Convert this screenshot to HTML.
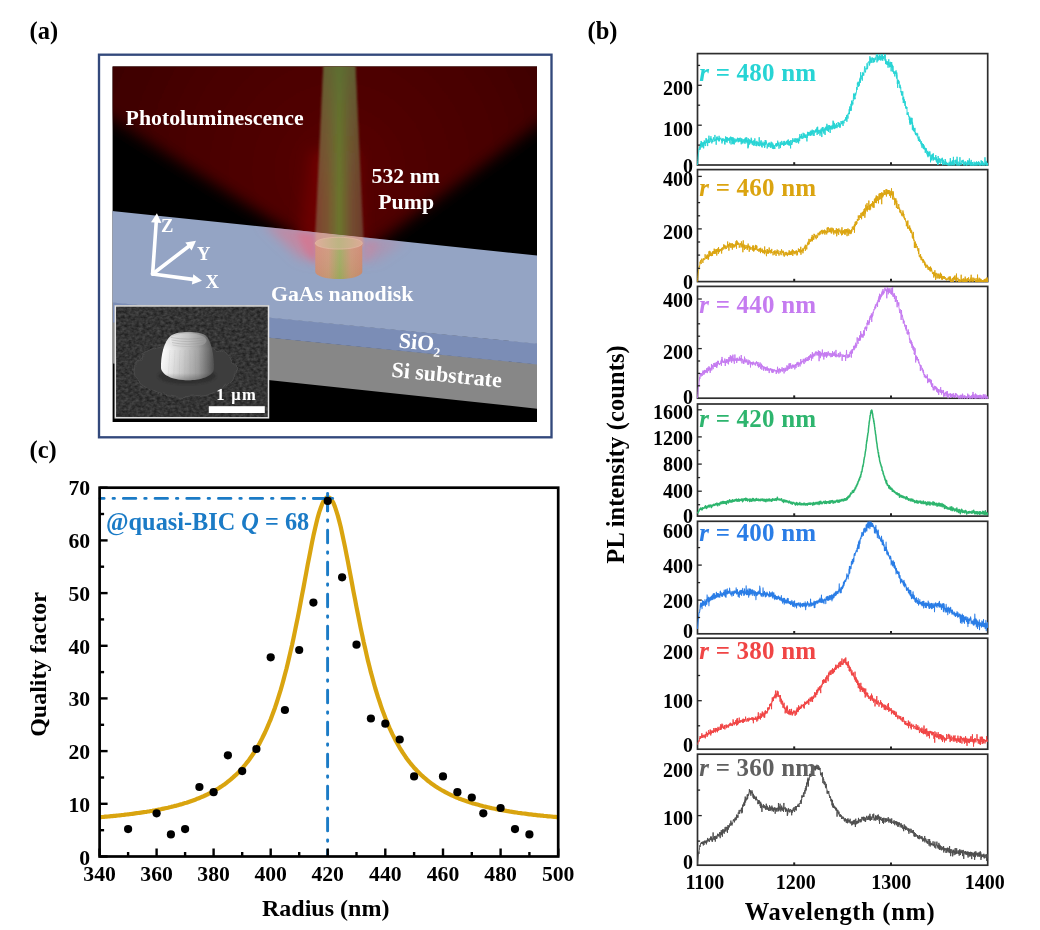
<!DOCTYPE html>
<html><head><meta charset="utf-8"><title>Figure</title>
<style>html,body{margin:0;padding:0;background:#fff;}svg{display:block}text{font-family:"Liberation Serif", serif;}</style>
</head><body>
<svg width="1040" height="930" viewBox="0 0 1040 930">
<rect width="1040" height="930" fill="#fff"/>

<defs>
<clipPath id="clipA"><rect x="112.6" y="66.6" width="424.4" height="355.4"/></clipPath>
<clipPath id="clipSky"><polygon points="100,50 550,50 550,257 538,255.7 112,210.9 100,209.6"/></clipPath>
<clipPath id="clipSlab"><polygon points="112,210.9 538,255.7 538,430 112,430"/></clipPath>
<clipPath id="clipSEM"><rect x="115.3" y="305.9" width="153.2" height="111.9"/></clipPath>
<filter id="blurCone" x="-20%" y="-20%" width="140%" height="140%"><feGaussianBlur stdDeviation="7.5"/></filter>
<filter id="blur10" x="-40%" y="-40%" width="180%" height="180%"><feGaussianBlur stdDeviation="7"/></filter>
<filter id="blur8" x="-40%" y="-40%" width="180%" height="180%"><feGaussianBlur stdDeviation="6"/></filter>
<filter id="blur4" x="-40%" y="-40%" width="180%" height="180%"><feGaussianBlur stdDeviation="3"/></filter>
<filter id="blur1" x="-10%" y="-10%" width="120%" height="120%"><feGaussianBlur stdDeviation="1.1"/></filter>
<filter id="blur06" x="-10%" y="-10%" width="120%" height="120%"><feGaussianBlur stdDeviation="0.6"/></filter>
<filter id="noise" x="0" y="0" width="100%" height="100%" color-interpolation-filters="sRGB"><feTurbulence type="fractalNoise" baseFrequency="0.28 0.36" numOctaves="2" seed="5" result="t"/><feColorMatrix type="matrix" values="0.24 0 0 0 0.085  0.24 0 0 0 0.085  0.24 0 0 0 0.085  0 0 0 0 1"/></filter>
<filter id="rough" x="-10%" y="-10%" width="120%" height="120%"><feTurbulence type="fractalNoise" baseFrequency="0.09" numOctaves="2" seed="11" result="n"/><feDisplacementMap in="SourceGraphic" in2="n" scale="7" xChannelSelector="R" yChannelSelector="G"/></filter>
<radialGradient id="coneG" gradientUnits="userSpaceOnUse" cx="340" cy="170" r="260">
 <stop offset="0" stop-color="#560004"/><stop offset="0.45" stop-color="#4c0004"/><stop offset="1" stop-color="#3c0002"/>
</radialGradient>
<linearGradient id="beamG" x1="0" x2="1" y1="0" y2="0">
 <stop offset="0" stop-color="#7e4632"/><stop offset="0.25" stop-color="#7c5834"/><stop offset="0.5" stop-color="#6b7c30"/><stop offset="0.75" stop-color="#745232"/><stop offset="1" stop-color="#6e3e2e"/>
</linearGradient>
<linearGradient id="beamTopG" gradientUnits="userSpaceOnUse" x1="0" x2="0" y1="66" y2="200">
 <stop offset="0" stop-color="#566a32" stop-opacity="0.62"/><stop offset="0.45" stop-color="#5a6a32" stop-opacity="0.3"/><stop offset="1" stop-color="#5a6a32" stop-opacity="0"/>
</linearGradient>
<linearGradient id="beamG2" x1="0" x2="1" y1="0" y2="0">
 <stop offset="0" stop-color="#d49a92"/><stop offset="0.3" stop-color="#d2a08c"/><stop offset="0.5" stop-color="#b4b07e"/><stop offset="0.7" stop-color="#d2a08c"/><stop offset="1" stop-color="#d49a92"/>
</linearGradient>
<linearGradient id="diskG" x1="0" x2="1" y1="0" y2="0">
 <stop offset="0" stop-color="#d38b7a"/><stop offset="0.28" stop-color="#cf977c"/><stop offset="0.52" stop-color="#a0aa62"/><stop offset="0.76" stop-color="#cd9478"/><stop offset="1" stop-color="#cf8772"/>
</linearGradient>
<linearGradient id="diskV" x1="0" x2="0" y1="0" y2="1">
 <stop offset="0" stop-color="#fff" stop-opacity="0.06"/><stop offset="1" stop-color="#6a9a20" stop-opacity="0.10"/>
</linearGradient>
<linearGradient id="diskTopG" x1="0" x2="1" y1="0" y2="0">
 <stop offset="0" stop-color="#dfae9c"/><stop offset="0.5" stop-color="#bdb483"/><stop offset="1" stop-color="#dcab96"/>
</linearGradient>
<linearGradient id="domeG" x1="0" x2="1" y1="0" y2="0">
 <stop offset="0" stop-color="#ffffff"/><stop offset="0.12" stop-color="#f4f4f4"/><stop offset="0.4" stop-color="#d0d0d0"/><stop offset="0.7" stop-color="#a4a4a4"/><stop offset="0.9" stop-color="#6e6e6e"/><stop offset="1" stop-color="#505050"/>
</linearGradient>
<linearGradient id="domeV" x1="0" x2="0" y1="0" y2="1">
 <stop offset="0" stop-color="#000" stop-opacity="0.12"/><stop offset="0.35" stop-color="#000" stop-opacity="0"/><stop offset="0.85" stop-color="#000" stop-opacity="0.05"/><stop offset="1" stop-color="#000" stop-opacity="0.3"/>
</linearGradient>
<linearGradient id="capG" x1="0" x2="1" y1="0" y2="0">
 <stop offset="0" stop-color="#e8e8e8"/><stop offset="0.5" stop-color="#c4c4c4"/><stop offset="1" stop-color="#8e8e8e"/>
</linearGradient>
</defs>

<text x="29.5" y="38.8" font-size="24.5" fill="#000" text-anchor="start" font-weight="bold" font-style="normal" >(a)</text>
<text x="587.5" y="39" font-size="24.5" fill="#000" text-anchor="start" font-weight="bold" font-style="normal" >(b)</text>
<text x="29.5" y="457.8" font-size="24.5" fill="#000" text-anchor="start" font-weight="bold" font-style="normal" >(c)</text>
<rect x="99" y="54.7" width="452.5" height="382.6" fill="#fff" stroke="#33497c" stroke-width="2.35"/>
<g clip-path="url(#clipA)">
<rect x="111.6" y="65.6" width="426.4" height="357.4" fill="#000"/>
<g filter="url(#blurCone)"><polygon points="40,20 610,20 610,72.4 346.5,265.4 343,265.4 40,73.7" fill="url(#coneG)"/></g>
<g filter="url(#blur10)"><polygon points="310,150 358,150 364,262 296,262" fill="#850000" opacity="0.5"/></g>
<polygon points="113,322 537,364 537,408.7 113,363.5" fill="#878787"/>
<polygon points="113,302 537,343.3 537,364.4 113,322.4" fill="#7b8db6"/>
<polygon points="112,210.9 538,255.7 538,343.8 112,302.4" fill="#94a4c4"/>
<g clip-path="url(#clipSlab)">
<g filter="url(#blur8)"><polygon points="262,222 318,228 318,262 300,258" fill="#dc7890" opacity="0.6"/><polygon points="362,236 406,240 378,260 362,262" fill="#dc7890" opacity="0.3"/></g>
<g filter="url(#blur4)"><polygon points="296,232 318,234 317,266 308,256" fill="#e46a84" opacity="0.5"/><polygon points="362,240 380,242 368,262 362,264" fill="#e4788e" opacity="0.25"/></g>
</g>
<g clip-path="url(#clipSky)"><g filter="url(#blur1)"><polygon points="323.6,60 355.2,60 363.4,235 363.4,246 315.2,246 315.2,235" fill="url(#beamG)" opacity="0.95"/><polygon points="323.6,60 355.2,60 363.4,235 363.4,246 315.2,246 315.2,235" fill="url(#beamTopG)"/></g></g>
<g clip-path="url(#clipSlab)"><g filter="url(#blur1)"><polygon points="323.6,60 355.2,60 363.4,235 363.4,246 315.2,246 315.2,235" fill="url(#beamG2)" opacity="0.9"/></g></g>
<g filter="url(#blur06)">
<path d="M315.3,243.2 L315.3,271.8 A23.5,7.2 0 0 0 362.3,271.8 L362.3,243.2 Z" fill="url(#diskG)"/>
<path d="M315.3,243.2 L315.3,271.8 A23.5,7.2 0 0 0 362.3,271.8 L362.3,243.2 Z" fill="url(#diskV)"/>
<ellipse cx="338.8" cy="243.2" rx="23.5" ry="5.9" fill="url(#diskTopG)" stroke="#e4b8a4" stroke-width="0.7"/>
</g>
<line x1="152.6" y1="274.0" x2="156.2" y2="222.7" stroke="#fff" stroke-width="3.6" stroke-linecap="round"/><polygon points="156.9,213.2 161.4,223.0 151.0,222.3" fill="#fff"/>
<line x1="152.6" y1="274.0" x2="188.5" y2="246.5" stroke="#fff" stroke-width="3.6" stroke-linecap="round"/><polygon points="196.0,240.7 191.6,250.6 185.3,242.4" fill="#fff"/>
<line x1="152.6" y1="274.0" x2="192.6" y2="279.4" stroke="#fff" stroke-width="3.6" stroke-linecap="round"/><polygon points="202.0,280.7 191.9,284.6 193.3,274.3" fill="#fff"/>
<text x="161" y="232.3" font-size="18.6" fill="#fff" text-anchor="start" font-weight="bold" font-style="normal" >Z</text>
<text x="197" y="260.2" font-size="18.6" fill="#fff" text-anchor="start" font-weight="bold" font-style="normal" >Y</text>
<text x="205.6" y="288.2" font-size="18.6" fill="#fff" text-anchor="start" font-weight="bold" font-style="normal" >X</text>
<text x="125.6" y="125" font-size="21.8" fill="#fff" text-anchor="start" font-weight="bold" font-style="normal" >Photoluminescence</text>
<text x="371.5" y="182.5" font-size="21.8" fill="#fff" text-anchor="start" font-weight="bold" font-style="normal" >532 nm</text>
<text x="378.3" y="209" font-size="21.8" fill="#fff" text-anchor="start" font-weight="bold" font-style="normal" >Pump</text>
<text x="271" y="301.3" font-size="21.8" fill="#fff" text-anchor="start" font-weight="bold" font-style="normal" >GaAs nanodisk</text>
<g transform="translate(398.3,347.6) rotate(5.5)"><text x="0" y="0" font-size="22" fill="#fff" text-anchor="start" font-weight="bold" font-style="normal" >SiO<tspan font-size="13.5" dy="5.5">2</tspan></text></g>
<g transform="translate(391,376.8) rotate(5.5)"><text x="0" y="0" font-size="22" fill="#fff" text-anchor="start" font-weight="bold" font-style="normal" >Si substrate</text></g>
<g>
<rect x="115.3" y="305.9" width="153.2" height="111.9" fill="#3a3a3a"/>
<rect x="115.3" y="305.9" width="153.2" height="111.9" filter="url(#noise)"/>
<g clip-path="url(#clipSEM)">
<ellipse cx="185" cy="370" rx="51" ry="26.5" fill="#3d3d3d" stroke="#4a4a4a" stroke-width="1" filter="url(#rough)"/>
<ellipse cx="187" cy="376" rx="29" ry="8" fill="#2a2a2a" opacity="0.7" filter="url(#blur1)"/>
<g filter="url(#blur06)">
<path d="M161,368 C160.5,356 164,341 171,335.5 C178,331 198,331 205,335 C211.5,340 214.3,356 214,369 C213,376.5 200,380.3 188,380.3 C175,380.3 162,376 161,368 Z" fill="url(#domeG)"/>
<path d="M161,368 C160.5,356 164,341 171,335.5 C178,331 198,331 205,335 C211.5,340 214.3,356 214,369 C213,376.5 200,380.3 188,380.3 C175,380.3 162,376 161,368 Z" fill="url(#domeV)"/>
<ellipse cx="188" cy="340.5" rx="18.5" ry="7.2" fill="url(#capG)"/>
<path d="M171.0,337.5 Q188,340.7 205.0,337.5" fill="none" stroke="#8c8c8c" stroke-width="0.7" opacity="0.5"/>
<path d="M171.5,340 Q188,343.2 204.5,340" fill="none" stroke="#8c8c8c" stroke-width="0.7" opacity="0.45"/>
<path d="M172.0,342.6 Q188,345.8 204.0,342.6" fill="none" stroke="#8c8c8c" stroke-width="0.7" opacity="0.5"/>
<path d="M172.5,345 Q188,348.2 203.5,345" fill="none" stroke="#8c8c8c" stroke-width="0.7" opacity="0.35"/>
<path d="M170,350.0 Q168.9,365 168.2,375.8" fill="none" stroke="#7a7a7a" stroke-width="0.6" opacity="0.13"/>
<path d="M175,350.0 Q174.2,365 173.7,376.7" fill="none" stroke="#7a7a7a" stroke-width="0.6" opacity="0.13"/>
<path d="M180,350.0 Q179.5,365 179.2,377.6" fill="none" stroke="#7a7a7a" stroke-width="0.6" opacity="0.13"/>
<path d="M185,350.0 Q184.8,365 184.7,378.5" fill="none" stroke="#7a7a7a" stroke-width="0.6" opacity="0.13"/>
<path d="M190,350.0 Q190.1,365 190.2,378.6" fill="none" stroke="#7a7a7a" stroke-width="0.6" opacity="0.13"/>
<path d="M195,350.0 Q195.4,365 195.7,377.7" fill="none" stroke="#7a7a7a" stroke-width="0.6" opacity="0.13"/>
<path d="M200,350.0 Q200.7,365 201.2,376.8" fill="none" stroke="#7a7a7a" stroke-width="0.6" opacity="0.13"/>
<path d="M205,350.0 Q206.0,365 206.7,375.9" fill="none" stroke="#7a7a7a" stroke-width="0.6" opacity="0.13"/>
</g>
</g>
<rect x="115.3" y="305.9" width="153.2" height="111.9" fill="none" stroke="#e6e6e6" stroke-width="1.5"/>
<rect x="208.8" y="406.2" width="56" height="6.8" fill="#fff"/>
<text x="216.3" y="400.4" font-size="16.6" fill="#fff" text-anchor="start" font-weight="bold" font-style="normal" letter-spacing="1.3">1 μm</text>
</g>
</g>
<polyline points="99.6,817.2 101.0,817.1 102.5,817.0 103.9,816.9 105.3,816.7 106.7,816.6 108.2,816.5 109.6,816.3 111.0,816.2 112.4,816.1 113.9,815.9 115.3,815.8 116.7,815.6 118.1,815.5 119.6,815.3 121.0,815.2 122.4,815.0 123.8,814.9 125.3,814.7 126.7,814.5 128.1,814.3 129.5,814.2 131.0,814.0 132.4,813.8 133.8,813.6 135.2,813.4 136.7,813.2 138.1,813.0 139.5,812.8 140.9,812.6 142.4,812.4 143.8,812.2 145.2,812.0 146.6,811.8 148.1,811.5 149.5,811.3 150.9,811.0 152.3,810.8 153.8,810.5 155.2,810.3 156.6,810.0 158.1,809.7 159.5,809.5 160.9,809.2 162.3,808.9 163.8,808.6 165.2,808.3 166.6,808.0 168.0,807.7 169.5,807.3 170.9,807.0 172.3,806.6 173.7,806.3 175.2,805.9 176.6,805.6 178.0,805.2 179.4,804.8 180.9,804.4 182.3,804.0 183.7,803.5 185.1,803.1 186.6,802.7 188.0,802.2 189.4,801.7 190.8,801.2 192.3,800.7 193.7,800.2 195.1,799.7 196.5,799.1 198.0,798.6 199.4,798.0 200.8,797.4 202.2,796.8 203.7,796.2 205.1,795.5 206.5,794.8 207.9,794.2 209.4,793.4 210.8,792.7 212.2,791.9 213.6,791.2 215.1,790.4 216.5,789.5 217.9,788.7 219.4,787.8 220.8,786.8 222.2,785.9 223.6,784.9 225.1,783.9 226.5,782.8 227.9,781.7 229.3,780.6 230.8,779.4 232.2,778.2 233.6,776.9 235.0,775.6 236.5,774.3 237.9,772.9 239.3,771.4 240.7,769.9 242.2,768.3 243.6,766.7 245.0,765.0 246.4,763.2 247.9,761.4 249.3,759.5 250.7,757.5 252.1,755.5 253.6,753.3 255.0,751.1 256.4,748.7 257.8,746.3 259.3,743.8 260.7,741.1 262.1,738.4 263.5,735.5 265.0,732.5 266.4,729.4 267.8,726.2 269.2,722.8 270.7,719.3 272.1,715.6 273.5,711.7 275.0,707.7 276.4,703.5 277.8,699.2 279.2,694.6 280.7,689.9 282.1,685.0 283.5,679.9 284.9,674.5 286.4,669.0 287.8,663.3 289.2,657.3 290.6,651.1 292.1,644.8 293.5,638.2 294.9,631.4 296.3,624.5 297.8,617.4 299.2,610.1 300.6,602.7 302.0,595.1 303.5,587.5 304.9,579.9 306.3,572.3 307.7,564.7 309.2,557.2 310.6,549.8 312.0,542.7 313.4,535.8 314.9,529.3 316.3,523.2 317.7,517.6 319.1,512.6 320.6,508.2 322.0,504.4 323.4,501.4 324.8,499.2 326.3,497.8 327.7,497.2 329.1,497.5 330.6,498.5 332.0,500.4 333.5,503.1 334.9,506.6 336.3,510.8 337.8,515.6 339.2,520.9 340.7,526.8 342.1,533.2 343.5,539.9 345.0,546.9 346.4,554.2 347.9,561.6 349.3,569.2 350.8,576.8 352.2,584.5 353.6,592.1 355.1,599.7 356.5,607.1 358.0,614.5 359.4,621.7 360.8,628.7 362.3,635.5 363.7,642.2 365.2,648.6 366.6,654.9 368.0,660.9 369.5,666.7 370.9,672.4 372.4,677.8 373.8,683.0 375.2,688.0 376.7,692.8 378.1,697.4 379.6,701.8 381.0,706.1 382.4,710.1 383.9,714.1 385.3,717.8 386.8,721.4 388.2,724.8 389.6,728.1 391.1,731.3 392.5,734.4 394.0,737.3 395.4,740.1 396.9,742.7 398.3,745.3 399.7,747.8 401.2,750.1 402.6,752.4 404.1,754.6 405.5,756.7 406.9,758.7 408.4,760.7 409.8,762.5 411.3,764.3 412.7,766.0 414.1,767.7 415.6,769.3 417.0,770.8 418.5,772.3 419.9,773.7 421.3,775.1 422.8,776.4 424.2,777.7 425.7,778.9 427.1,780.1 428.5,781.3 430.0,782.4 431.4,783.5 432.9,784.5 434.3,785.5 435.7,786.5 437.2,787.4 438.6,788.3 440.1,789.2 441.5,790.0 443.0,790.8 444.4,791.6 445.8,792.4 447.3,793.2 448.7,793.9 450.2,794.6 451.6,795.3 453.0,795.9 454.5,796.5 455.9,797.2 457.4,797.8 458.8,798.4 460.2,798.9 461.7,799.5 463.1,800.0 464.6,800.5 466.0,801.0 467.4,801.5 468.9,802.0 470.3,802.5 471.8,802.9 473.2,803.4 474.6,803.8 476.1,804.2 477.5,804.6 479.0,805.0 480.4,805.4 481.8,805.8 483.3,806.2 484.7,806.5 486.2,806.9 487.6,807.2 489.1,807.5 490.5,807.9 491.9,808.2 493.4,808.5 494.8,808.8 496.3,809.1 497.7,809.4 499.1,809.6 500.6,809.9 502.0,810.2 503.5,810.4 504.9,810.7 506.3,810.9 507.8,811.2 509.2,811.4 510.7,811.7 512.1,811.9 513.5,812.1 515.0,812.3 516.4,812.5 517.9,812.8 519.3,813.0 520.7,813.2 522.2,813.4 523.6,813.5 525.1,813.7 526.5,813.9 527.9,814.1 529.4,814.3 530.8,814.4 532.3,814.6 533.7,814.8 535.2,814.9 536.6,815.1 538.0,815.3 539.5,815.4 540.9,815.6 542.4,815.7 543.8,815.9 545.2,816.0 546.7,816.1 548.1,816.3 549.6,816.4 551.0,816.5 552.4,816.7 553.9,816.8 555.3,816.9 556.8,817.1 558.2,817.2" fill="none" stroke="#d9a40f" stroke-width="4.2" stroke-linejoin="round"/>
<line x1="100" y1="498.4" x2="327.5" y2="498.4" stroke="#1b7bc6" stroke-width="2.9" stroke-linecap="round" stroke-dasharray="12.4 8.95 1.4 8.95" stroke-dashoffset="8.3"/>
<line x1="313.6" y1="498.4" x2="332.6" y2="498.4" stroke="#1b7bc6" stroke-width="2.9" stroke-linecap="round"/>
<line x1="327.6" y1="493.4" x2="327.6" y2="510.9" stroke="#1b7bc6" stroke-width="2.9" stroke-linecap="round"/>
<line x1="327.6" y1="498.2" x2="327.6" y2="855.0" stroke="#1b7bc6" stroke-width="2.9" stroke-linecap="round" stroke-dasharray="12.7 8.95 1.4 8.95"/>
<circle cx="128.1" cy="829.1" r="4.1" fill="#000"/>
<circle cx="156.6" cy="813.3" r="4.1" fill="#000"/>
<circle cx="170.9" cy="834.4" r="4.1" fill="#000"/>
<circle cx="185.1" cy="829.1" r="4.1" fill="#000"/>
<circle cx="199.4" cy="787.0" r="4.1" fill="#000"/>
<circle cx="213.6" cy="792.2" r="4.1" fill="#000"/>
<circle cx="227.9" cy="755.3" r="4.1" fill="#000"/>
<circle cx="242.2" cy="771.1" r="4.1" fill="#000"/>
<circle cx="256.4" cy="749.0" r="4.1" fill="#000"/>
<circle cx="270.7" cy="657.3" r="4.1" fill="#000"/>
<circle cx="284.9" cy="710.0" r="4.1" fill="#000"/>
<circle cx="299.2" cy="650.0" r="4.1" fill="#000"/>
<circle cx="313.4" cy="602.6" r="4.1" fill="#000"/>
<circle cx="327.7" cy="500.9" r="4.1" fill="#000"/>
<circle cx="342.1" cy="577.3" r="4.1" fill="#000"/>
<circle cx="356.5" cy="644.7" r="4.1" fill="#000"/>
<circle cx="370.9" cy="718.5" r="4.1" fill="#000"/>
<circle cx="385.3" cy="723.7" r="4.1" fill="#000"/>
<circle cx="399.7" cy="739.5" r="4.1" fill="#000"/>
<circle cx="414.1" cy="776.4" r="4.1" fill="#000"/>
<circle cx="443.0" cy="776.4" r="4.1" fill="#000"/>
<circle cx="457.4" cy="792.2" r="4.1" fill="#000"/>
<circle cx="471.8" cy="797.5" r="4.1" fill="#000"/>
<circle cx="483.3" cy="813.3" r="4.1" fill="#000"/>
<circle cx="500.6" cy="808.0" r="4.1" fill="#000"/>
<circle cx="515.0" cy="829.1" r="4.1" fill="#000"/>
<circle cx="529.4" cy="834.4" r="4.1" fill="#000"/>
<rect x="99.6" y="487.7" width="458.6" height="368.8" fill="none" stroke="#000" stroke-width="2.7"/>
<line x1="99.6" y1="856.5" x2="99.6" y2="848.5" stroke="#000" stroke-width="2.4"/>
<text x="99.6" y="881.3" font-size="21.7" fill="#000" text-anchor="middle" font-weight="bold" font-style="normal" >340</text>
<line x1="128.1" y1="856.5" x2="128.1" y2="852.0" stroke="#000" stroke-width="2.4"/>
<line x1="156.6" y1="856.5" x2="156.6" y2="848.5" stroke="#000" stroke-width="2.4"/>
<text x="156.6" y="881.3" font-size="21.7" fill="#000" text-anchor="middle" font-weight="bold" font-style="normal" >360</text>
<line x1="185.1" y1="856.5" x2="185.1" y2="852.0" stroke="#000" stroke-width="2.4"/>
<line x1="213.6" y1="856.5" x2="213.6" y2="848.5" stroke="#000" stroke-width="2.4"/>
<text x="213.6" y="881.3" font-size="21.7" fill="#000" text-anchor="middle" font-weight="bold" font-style="normal" >380</text>
<line x1="242.2" y1="856.5" x2="242.2" y2="852.0" stroke="#000" stroke-width="2.4"/>
<line x1="270.7" y1="856.5" x2="270.7" y2="848.5" stroke="#000" stroke-width="2.4"/>
<text x="270.7" y="881.3" font-size="21.7" fill="#000" text-anchor="middle" font-weight="bold" font-style="normal" >400</text>
<line x1="299.2" y1="856.5" x2="299.2" y2="852.0" stroke="#000" stroke-width="2.4"/>
<line x1="327.7" y1="856.5" x2="327.7" y2="848.5" stroke="#000" stroke-width="2.4"/>
<text x="327.7" y="881.3" font-size="21.7" fill="#000" text-anchor="middle" font-weight="bold" font-style="normal" >420</text>
<line x1="356.5" y1="856.5" x2="356.5" y2="852.0" stroke="#000" stroke-width="2.4"/>
<line x1="385.3" y1="856.5" x2="385.3" y2="848.5" stroke="#000" stroke-width="2.4"/>
<text x="385.3" y="881.3" font-size="21.7" fill="#000" text-anchor="middle" font-weight="bold" font-style="normal" >440</text>
<line x1="414.1" y1="856.5" x2="414.1" y2="852.0" stroke="#000" stroke-width="2.4"/>
<line x1="443.0" y1="856.5" x2="443.0" y2="848.5" stroke="#000" stroke-width="2.4"/>
<text x="443.0" y="881.3" font-size="21.7" fill="#000" text-anchor="middle" font-weight="bold" font-style="normal" >460</text>
<line x1="471.8" y1="856.5" x2="471.8" y2="852.0" stroke="#000" stroke-width="2.4"/>
<line x1="500.6" y1="856.5" x2="500.6" y2="848.5" stroke="#000" stroke-width="2.4"/>
<text x="500.6" y="881.3" font-size="21.7" fill="#000" text-anchor="middle" font-weight="bold" font-style="normal" >480</text>
<line x1="529.4" y1="856.5" x2="529.4" y2="852.0" stroke="#000" stroke-width="2.4"/>
<line x1="558.2" y1="856.5" x2="558.2" y2="848.5" stroke="#000" stroke-width="2.4"/>
<text x="558.2" y="881.3" font-size="21.7" fill="#000" text-anchor="middle" font-weight="bold" font-style="normal" >500</text>
<line x1="99.6" y1="856.5" x2="107.6" y2="856.5" stroke="#000" stroke-width="2.4"/>
<text x="90.2" y="864.5" font-size="21.7" fill="#000" text-anchor="end" font-weight="bold" font-style="normal" >0</text>
<line x1="99.6" y1="830.2" x2="104.1" y2="830.2" stroke="#000" stroke-width="2.4"/>
<line x1="99.6" y1="803.8" x2="107.6" y2="803.8" stroke="#000" stroke-width="2.4"/>
<text x="90.2" y="811.8" font-size="21.7" fill="#000" text-anchor="end" font-weight="bold" font-style="normal" >10</text>
<line x1="99.6" y1="777.5" x2="104.1" y2="777.5" stroke="#000" stroke-width="2.4"/>
<line x1="99.6" y1="751.1" x2="107.6" y2="751.1" stroke="#000" stroke-width="2.4"/>
<text x="90.2" y="759.1" font-size="21.7" fill="#000" text-anchor="end" font-weight="bold" font-style="normal" >20</text>
<line x1="99.6" y1="724.8" x2="104.1" y2="724.8" stroke="#000" stroke-width="2.4"/>
<line x1="99.6" y1="698.4" x2="107.6" y2="698.4" stroke="#000" stroke-width="2.4"/>
<text x="90.2" y="706.4" font-size="21.7" fill="#000" text-anchor="end" font-weight="bold" font-style="normal" >30</text>
<line x1="99.6" y1="672.1" x2="104.1" y2="672.1" stroke="#000" stroke-width="2.4"/>
<line x1="99.6" y1="645.8" x2="107.6" y2="645.8" stroke="#000" stroke-width="2.4"/>
<text x="90.2" y="653.8" font-size="21.7" fill="#000" text-anchor="end" font-weight="bold" font-style="normal" >40</text>
<line x1="99.6" y1="619.4" x2="104.1" y2="619.4" stroke="#000" stroke-width="2.4"/>
<line x1="99.6" y1="593.1" x2="107.6" y2="593.1" stroke="#000" stroke-width="2.4"/>
<text x="90.2" y="601.1" font-size="21.7" fill="#000" text-anchor="end" font-weight="bold" font-style="normal" >50</text>
<line x1="99.6" y1="566.7" x2="104.1" y2="566.7" stroke="#000" stroke-width="2.4"/>
<line x1="99.6" y1="540.4" x2="107.6" y2="540.4" stroke="#000" stroke-width="2.4"/>
<text x="90.2" y="548.4" font-size="21.7" fill="#000" text-anchor="end" font-weight="bold" font-style="normal" >60</text>
<line x1="99.6" y1="514.0" x2="104.1" y2="514.0" stroke="#000" stroke-width="2.4"/>
<line x1="99.6" y1="487.7" x2="107.6" y2="487.7" stroke="#000" stroke-width="2.4"/>
<text x="90.2" y="494.6" font-size="21.7" fill="#000" text-anchor="end" font-weight="bold" font-style="normal" >70</text>
<text x="325.7" y="915.8" font-size="24" fill="#000" text-anchor="middle" font-weight="bold" font-style="normal" >Radius (nm)</text>
<g transform="translate(46.3,664.5) rotate(-90)"><text x="0" y="0" font-size="24" fill="#000" text-anchor="middle" font-weight="bold" font-style="normal" >Quality factor</text></g>
<text x="106.0" y="529.8" font-size="24.3" fill="#1b7bc6" text-anchor="start" font-weight="bold" font-style="normal" >@quasi-BIC <tspan font-style="italic">Q</tspan> = 68</text>
<rect x="697.5" y="53.6" width="290.20000000000005" height="111.4" fill="none" stroke="#2e2e2e" stroke-width="1.7"/>
<polyline points="697.50,165.00 697.68,162.76 697.86,160.52 698.04,158.28 698.23,156.04 698.41,153.80 698.59,152.48 698.77,151.63 698.95,148.61 699.13,148.74 699.31,149.79 699.50,148.24 699.68,146.67 699.86,147.18 700.04,146.37 700.22,149.52 700.40,143.62 700.59,144.09 700.77,143.34 700.95,147.38 701.13,140.94 701.31,144.13 701.49,145.19 701.67,141.88 701.86,144.25 702.04,147.49 702.22,144.46 702.40,146.61 702.58,142.57 702.76,144.50 702.94,146.05 703.13,142.57 703.31,146.00 703.49,142.25 703.67,148.37 703.85,144.20 704.03,145.50 704.22,140.46 704.40,140.92 704.58,143.89 704.76,141.39 704.94,143.24 705.12,141.85 705.30,144.42 705.49,146.06 705.67,145.85 705.85,141.57 706.03,138.16 706.21,141.82 706.39,143.11 706.57,138.66 706.76,141.41 706.94,141.67 707.12,141.48 707.30,142.35 707.48,142.33 707.66,146.09 707.84,140.19 708.03,141.69 708.21,139.20 708.39,141.63 708.57,143.04 708.75,140.95 708.93,135.70 709.12,141.32 709.30,142.96 709.48,142.83 709.66,141.67 709.84,140.81 710.02,142.15 710.20,138.09 710.39,140.41 710.57,139.98 710.75,137.73 710.93,136.22 711.11,140.11 711.29,139.12 711.47,138.66 711.66,140.45 711.84,143.39 712.02,139.45 712.20,139.35 712.38,140.01 712.56,142.04 712.75,141.30 712.93,142.00 713.11,141.32 713.29,137.96 713.47,137.34 713.65,139.39 713.83,138.94 714.02,138.77 714.20,139.71 714.38,139.87 714.56,141.32 714.74,139.80 714.92,134.93 715.10,138.52 715.29,140.28 715.47,140.53 715.65,140.88 715.83,139.03 716.01,139.05 716.19,144.72 716.37,138.21 716.56,139.99 716.74,137.22 716.92,138.51 717.10,136.44 717.28,139.85 717.46,139.53 717.65,138.76 717.83,137.67 718.01,137.91 718.19,140.56 718.37,138.27 718.55,139.17 718.73,140.80 718.92,141.42 719.10,135.80 719.28,140.05 719.46,141.14 719.64,137.86 719.82,138.86 720.00,139.36 720.19,138.49 720.37,138.76 720.55,138.40 720.73,137.75 720.91,138.52 721.09,139.90 721.27,139.96 721.46,140.83 721.64,138.87 721.82,140.72 722.00,143.44 722.18,138.73 722.36,140.62 722.55,141.82 722.73,138.79 722.91,140.25 723.09,138.35 723.27,139.80 723.45,140.44 723.63,141.03 723.82,140.02 724.00,139.74 724.18,140.28 724.36,139.59 724.54,143.78 724.72,139.41 724.90,144.59 725.09,139.85 725.27,138.14 725.45,138.12 725.63,136.40 725.81,142.01 725.99,138.79 726.18,137.29 726.36,139.11 726.54,141.97 726.72,138.93 726.90,137.18 727.08,142.63 727.26,138.64 727.45,137.62 727.63,140.60 727.81,137.91 727.99,140.40 728.17,140.35 728.35,140.35 728.53,139.25 728.72,139.75 728.90,138.14 729.08,140.87 729.26,139.93 729.44,137.69 729.62,138.56 729.80,143.26 729.99,137.82 730.17,139.87 730.35,138.66 730.53,138.33 730.71,136.58 730.89,138.88 731.08,144.49 731.26,141.21 731.44,137.44 731.62,139.86 731.80,137.47 731.98,139.33 732.16,140.97 732.35,138.61 732.53,141.24 732.71,144.13 732.89,137.00 733.07,143.58 733.25,138.77 733.43,138.55 733.62,140.32 733.80,143.95 733.98,138.10 734.16,144.44 734.34,142.61 734.52,141.41 734.71,139.56 734.89,140.53 735.07,139.74 735.25,141.59 735.43,141.30 735.61,142.45 735.79,141.16 735.98,138.66 736.16,140.77 736.34,139.55 736.52,141.27 736.70,141.63 736.88,140.42 737.06,140.96 737.25,139.93 737.43,139.96 737.61,137.73 737.79,140.59 737.97,140.94 738.15,142.26 738.33,140.12 738.52,138.22 738.70,142.05 738.88,140.58 739.06,139.18 739.24,140.56 739.42,141.47 739.61,138.11 739.79,140.59 739.97,139.98 740.15,137.66 740.33,139.20 740.51,141.43 740.69,141.61 740.88,140.53 741.06,141.23 741.24,144.30 741.42,138.43 741.60,140.85 741.78,139.65 741.96,142.47 742.15,138.76 742.33,142.13 742.51,141.29 742.69,143.50 742.87,141.30 743.05,141.62 743.24,141.72 743.42,140.64 743.60,141.30 743.78,139.20 743.96,142.50 744.14,143.23 744.32,141.43 744.51,140.07 744.69,138.67 744.87,139.67 745.05,143.67 745.23,140.18 745.41,137.58 745.59,140.80 745.78,141.82 745.96,140.38 746.14,142.14 746.32,139.60 746.50,140.90 746.68,137.27 746.86,140.36 747.05,143.27 747.23,140.40 747.41,139.94 747.59,142.09 747.77,142.08 747.95,148.34 748.14,138.18 748.32,142.21 748.50,147.19 748.68,143.63 748.86,141.44 749.04,139.00 749.22,141.00 749.41,140.52 749.59,144.56 749.77,143.60 749.95,139.86 750.13,140.98 750.31,141.84 750.49,140.30 750.68,143.32 750.86,143.05 751.04,141.02 751.22,137.75 751.40,142.11 751.58,138.99 751.77,143.29 751.95,141.90 752.13,142.98 752.31,144.90 752.49,142.37 752.67,141.16 752.85,143.27 753.04,142.64 753.22,140.56 753.40,145.58 753.58,145.01 753.76,144.10 753.94,143.98 754.12,140.24 754.31,142.17 754.49,145.42 754.67,143.22 754.85,138.34 755.03,143.55 755.21,143.64 755.39,142.14 755.58,141.63 755.76,142.41 755.94,146.02 756.12,144.24 756.30,141.76 756.48,142.64 756.67,146.20 756.85,140.89 757.03,141.42 757.21,143.45 757.39,143.42 757.57,142.46 757.75,144.16 757.94,144.91 758.12,142.46 758.30,146.05 758.48,142.51 758.66,145.34 758.84,143.14 759.02,143.33 759.21,137.25 759.39,145.22 759.57,146.24 759.75,144.46 759.93,145.67 760.11,144.46 760.29,142.74 760.48,142.20 760.66,141.52 760.84,145.34 761.02,140.22 761.20,140.49 761.38,143.43 761.57,146.62 761.75,143.38 761.93,143.05 762.11,147.46 762.29,143.36 762.47,143.70 762.65,144.78 762.84,142.77 763.02,141.66 763.20,144.54 763.38,143.59 763.56,145.60 763.74,145.13 763.92,144.09 764.11,143.04 764.29,144.54 764.47,147.77 764.65,142.14 764.83,147.37 765.01,143.40 765.20,140.03 765.38,143.40 765.56,144.77 765.74,145.03 765.92,140.23 766.10,143.48 766.28,142.35 766.47,141.80 766.65,143.97 766.83,144.57 767.01,145.21 767.19,148.47 767.37,147.01 767.55,144.59 767.74,144.81 767.92,143.74 768.10,144.79 768.28,144.49 768.46,142.91 768.64,146.46 768.82,145.27 769.01,147.10 769.19,142.67 769.37,144.74 769.55,143.95 769.73,142.78 769.91,143.45 770.10,145.04 770.28,143.48 770.46,147.52 770.64,144.17 770.82,144.54 771.00,147.79 771.18,141.73 771.37,146.46 771.55,143.96 771.73,145.84 771.91,142.30 772.09,142.96 772.27,146.88 772.45,148.69 772.64,145.18 772.82,143.41 773.00,145.87 773.18,147.01 773.36,144.70 773.54,149.05 773.73,146.95 773.91,147.39 774.09,145.36 774.27,147.32 774.45,148.59 774.63,146.20 774.81,149.02 775.00,145.20 775.18,145.88 775.36,145.41 775.54,145.90 775.72,143.93 775.90,144.68 776.08,143.26 776.27,143.82 776.45,146.59 776.63,143.26 776.81,143.99 776.99,143.98 777.17,145.45 777.35,145.49 777.54,143.22 777.72,140.68 777.90,146.23 778.08,143.24 778.26,144.74 778.44,142.70 778.63,143.44 778.81,142.81 778.99,148.73 779.17,145.97 779.35,145.74 779.53,144.86 779.71,146.16 779.90,144.99 780.08,143.39 780.26,141.85 780.44,148.07 780.62,144.75 780.80,143.05 780.98,143.87 781.17,144.42 781.35,145.10 781.53,144.74 781.71,140.90 781.89,141.69 782.07,143.23 782.26,144.86 782.44,143.31 782.62,143.89 782.80,142.73 782.98,143.28 783.16,144.19 783.34,142.96 783.53,145.79 783.71,141.56 783.89,140.94 784.07,145.24 784.25,143.06 784.43,145.24 784.61,141.10 784.80,140.95 784.98,144.35 785.16,142.28 785.34,144.87 785.52,144.18 785.70,144.52 785.88,143.05 786.07,143.14 786.25,142.42 786.43,143.46 786.61,140.87 786.79,141.02 786.97,143.28 787.16,144.49 787.34,141.27 787.52,140.42 787.70,142.94 787.88,144.59 788.06,142.74 788.24,139.47 788.43,145.25 788.61,142.03 788.79,143.16 788.97,144.24 789.15,141.79 789.33,145.49 789.51,142.07 789.70,140.92 789.88,142.33 790.06,143.82 790.24,145.46 790.42,145.10 790.60,148.40 790.79,140.03 790.97,143.23 791.15,144.48 791.33,144.24 791.51,144.68 791.69,143.13 791.87,144.77 792.06,140.08 792.24,143.06 792.42,143.01 792.60,141.38 792.78,138.18 792.96,138.51 793.14,141.76 793.33,140.58 793.51,140.37 793.69,139.76 793.87,140.24 794.05,141.91 794.23,142.11 794.41,139.98 794.60,141.98 794.78,138.41 794.96,140.06 795.14,141.86 795.32,141.06 795.50,141.31 795.69,140.15 795.87,138.23 796.05,142.26 796.23,143.04 796.41,138.98 796.59,139.64 796.77,139.01 796.96,138.80 797.14,139.90 797.32,138.46 797.50,141.77 797.68,139.59 797.86,142.43 798.04,142.46 798.23,138.93 798.41,138.88 798.59,143.46 798.77,141.98 798.95,139.27 799.13,137.53 799.32,140.75 799.50,139.86 799.68,141.14 799.86,134.12 800.04,138.24 800.22,136.03 800.40,137.28 800.59,136.91 800.77,136.82 800.95,138.36 801.13,136.05 801.31,137.56 801.49,133.86 801.67,138.48 801.86,138.36 802.04,136.66 802.22,135.74 802.40,137.49 802.58,138.70 802.76,138.07 802.94,138.34 803.13,132.76 803.31,135.52 803.49,135.40 803.67,136.76 803.85,138.06 804.03,134.14 804.22,133.41 804.40,135.77 804.58,136.71 804.76,134.67 804.94,137.53 805.12,135.33 805.30,137.93 805.49,137.81 805.67,135.26 805.85,136.30 806.03,134.29 806.21,137.45 806.39,136.76 806.57,138.37 806.76,139.04 806.94,141.40 807.12,135.52 807.30,137.82 807.48,132.46 807.66,131.80 807.84,135.95 808.03,132.46 808.21,134.83 808.39,132.33 808.57,135.12 808.75,132.36 808.93,135.51 809.12,132.06 809.30,135.38 809.48,134.23 809.66,132.61 809.84,133.69 810.02,133.91 810.20,132.44 810.39,130.72 810.57,135.77 810.75,132.40 810.93,132.59 811.11,135.43 811.29,132.40 811.47,134.63 811.66,130.71 811.84,132.88 812.02,132.75 812.20,129.66 812.38,132.82 812.56,131.08 812.75,134.28 812.93,133.16 813.11,135.66 813.29,132.85 813.47,130.74 813.65,131.88 813.83,130.16 814.02,136.00 814.20,134.47 814.38,132.98 814.56,131.28 814.74,131.53 814.92,131.91 815.10,130.68 815.29,131.98 815.47,131.42 815.65,129.70 815.83,132.72 816.01,130.74 816.19,128.91 816.37,130.90 816.56,129.55 816.74,131.82 816.92,127.42 817.10,134.91 817.28,133.34 817.46,132.85 817.65,126.73 817.83,130.05 818.01,130.97 818.19,134.02 818.37,129.93 818.55,130.47 818.73,131.71 818.92,132.24 819.10,133.05 819.28,130.05 819.46,129.89 819.64,130.19 819.82,130.98 820.00,135.71 820.19,130.80 820.37,132.89 820.55,130.40 820.73,129.51 820.91,131.64 821.09,133.85 821.28,128.43 821.46,129.65 821.64,131.29 821.82,137.05 822.00,129.97 822.18,128.34 822.36,127.02 822.55,131.21 822.73,130.84 822.91,130.51 823.09,127.16 823.27,131.94 823.45,130.18 823.63,132.55 823.82,129.51 824.00,133.81 824.18,129.11 824.36,130.89 824.54,130.25 824.72,129.06 824.90,128.15 825.09,134.99 825.27,127.49 825.45,128.23 825.63,130.17 825.81,127.46 825.99,128.88 826.18,126.39 826.36,130.07 826.54,130.38 826.72,126.72 826.90,123.80 827.08,127.54 827.26,126.89 827.45,129.09 827.63,130.82 827.81,128.34 827.99,125.37 828.17,131.20 828.35,129.38 828.53,131.92 828.72,127.46 828.90,125.22 829.08,129.38 829.26,128.71 829.44,125.24 829.62,127.84 829.81,129.77 829.99,130.12 830.17,132.96 830.35,125.79 830.53,128.96 830.71,126.28 830.89,126.04 831.08,129.24 831.26,128.91 831.44,126.67 831.62,127.20 831.80,126.25 831.98,129.61 832.16,124.94 832.35,127.79 832.53,128.95 832.71,127.16 832.89,125.53 833.07,120.68 833.25,127.29 833.43,128.28 833.62,121.69 833.80,126.58 833.98,127.23 834.16,129.08 834.34,129.05 834.52,123.24 834.71,127.39 834.89,128.00 835.07,128.31 835.25,124.57 835.43,128.13 835.61,125.52 835.79,126.05 835.98,126.24 836.16,127.94 836.34,124.88 836.52,123.00 836.70,126.20 836.88,128.07 837.06,128.11 837.25,125.19 837.43,125.72 837.61,125.39 837.79,125.01 837.97,126.86 838.15,121.99 838.34,124.28 838.52,125.10 838.70,124.68 838.88,123.28 839.06,125.01 839.24,126.97 839.42,122.83 839.61,125.87 839.79,126.59 839.97,127.95 840.15,124.67 840.33,126.51 840.51,125.10 840.69,123.46 840.88,123.68 841.06,121.00 841.24,122.41 841.42,123.91 841.60,123.47 841.78,124.27 841.96,121.46 842.15,122.84 842.33,123.72 842.51,120.87 842.69,121.99 842.87,123.89 843.05,126.00 843.24,120.76 843.42,120.92 843.60,121.09 843.78,122.12 843.96,123.36 844.14,121.41 844.32,120.16 844.51,120.78 844.69,120.37 844.87,120.88 845.05,119.08 845.23,119.11 845.41,120.44 845.59,117.38 845.78,117.61 845.96,117.08 846.14,118.41 846.32,118.16 846.50,120.06 846.68,115.05 846.86,121.76 847.05,117.51 847.23,116.74 847.41,114.55 847.59,115.22 847.77,115.94 847.95,118.61 848.14,115.75 848.32,113.27 848.50,112.98 848.68,112.83 848.86,114.09 849.04,112.89 849.22,109.19 849.41,114.15 849.59,111.44 849.77,106.46 849.95,108.26 850.13,110.59 850.31,108.10 850.49,110.59 850.68,108.94 850.86,105.32 851.04,103.80 851.22,110.78 851.40,105.14 851.58,100.66 851.77,106.04 851.95,104.22 852.13,101.39 852.31,104.22 852.49,102.28 852.67,102.16 852.85,104.49 853.04,100.04 853.22,100.72 853.40,97.82 853.58,93.55 853.76,97.68 853.94,99.32 854.12,96.08 854.31,96.78 854.49,93.87 854.67,99.14 854.85,97.73 855.03,99.15 855.21,92.80 855.39,93.83 855.58,95.53 855.76,95.19 855.94,93.71 856.12,93.70 856.30,91.99 856.48,92.05 856.67,87.15 856.85,88.42 857.03,89.94 857.21,88.95 857.39,82.77 857.57,84.98 857.75,85.02 857.94,83.66 858.12,81.76 858.30,86.78 858.48,85.25 858.66,86.40 858.84,81.86 859.02,83.59 859.21,83.74 859.39,85.61 859.57,79.51 859.75,81.28 859.93,80.88 860.11,77.72 860.30,82.89 860.48,81.93 860.66,72.21 860.84,78.88 861.02,79.22 861.20,79.12 861.38,77.77 861.57,75.69 861.75,75.41 861.93,75.70 862.11,77.38 862.29,80.64 862.47,76.13 862.65,72.37 862.84,72.95 863.02,75.44 863.20,72.82 863.38,75.06 863.56,73.58 863.74,75.62 863.92,73.27 864.11,71.48 864.29,71.57 864.47,68.16 864.65,66.50 864.83,66.26 865.01,70.76 865.20,72.23 865.38,71.32 865.56,72.31 865.74,69.12 865.92,67.97 866.10,68.32 866.28,68.38 866.47,67.85 866.65,68.57 866.83,69.49 867.01,63.32 867.19,64.13 867.37,68.55 867.55,68.88 867.74,67.22 867.92,65.37 868.10,62.34 868.28,62.74 868.46,61.98 868.64,61.75 868.83,61.84 869.01,61.42 869.19,62.10 869.37,62.78 869.55,65.53 869.73,62.18 869.91,56.26 870.10,63.21 870.28,63.21 870.46,58.27 870.64,60.83 870.82,61.54 871.00,57.51 871.18,58.49 871.37,58.59 871.55,62.72 871.73,59.74 871.91,58.56 872.09,59.11 872.27,58.56 872.45,57.56 872.64,59.69 872.82,57.94 873.00,62.91 873.18,58.52 873.36,57.98 873.54,60.89 873.73,61.80 873.91,60.27 874.09,62.26 874.27,58.78 874.45,58.68 874.63,61.61 874.81,59.33 875.00,57.64 875.18,57.50 875.36,57.34 875.54,59.81 875.72,59.88 875.90,59.70 876.08,57.09 876.27,54.86 876.45,55.09 876.63,55.57 876.81,54.55 876.99,62.40 877.17,58.83 877.36,58.82 877.54,54.20 877.72,54.66 877.90,61.14 878.08,57.55 878.26,56.72 878.44,59.20 878.63,58.96 878.81,59.46 878.99,56.26 879.17,60.10 879.35,55.37 879.53,57.64 879.71,55.31 879.90,54.20 880.08,59.18 880.26,59.45 880.44,56.05 880.62,60.46 880.80,58.78 880.98,57.56 881.17,56.79 881.35,59.32 881.53,57.70 881.71,55.75 881.89,54.30 882.07,60.45 882.26,54.20 882.44,54.35 882.62,59.40 882.80,60.64 882.98,56.15 883.16,59.05 883.34,57.41 883.53,56.50 883.71,58.53 883.89,57.44 884.07,57.30 884.25,56.51 884.43,55.93 884.61,54.61 884.80,58.84 884.98,60.59 885.16,54.20 885.34,58.79 885.52,59.08 885.70,64.10 885.88,59.40 886.07,63.54 886.25,61.50 886.43,63.51 886.61,61.66 886.79,60.97 886.97,64.95 887.16,63.90 887.34,61.53 887.52,64.78 887.70,64.29 887.88,63.18 888.06,67.71 888.24,61.55 888.43,64.47 888.61,61.71 888.79,59.29 888.97,65.61 889.15,62.56 889.33,64.78 889.51,67.31 889.70,64.90 889.88,64.81 890.06,63.14 890.24,61.81 890.42,67.03 890.60,65.41 890.79,63.27 890.97,62.15 891.15,71.33 891.33,62.54 891.51,65.93 891.69,62.08 891.87,67.92 892.06,67.82 892.24,66.10 892.42,64.74 892.60,67.03 892.78,71.55 892.96,65.89 893.14,71.58 893.33,70.96 893.51,73.03 893.69,73.31 893.87,73.87 894.05,72.82 894.23,73.23 894.41,71.64 894.60,72.50 894.78,76.42 894.96,73.56 895.14,71.21 895.32,71.63 895.50,73.91 895.69,73.57 895.87,72.64 896.05,70.36 896.23,71.36 896.41,77.43 896.59,78.52 896.77,72.48 896.96,74.37 897.14,74.81 897.32,83.84 897.50,80.56 897.68,87.83 897.86,79.58 898.04,81.71 898.23,82.24 898.41,83.20 898.59,80.10 898.77,83.77 898.95,81.45 899.13,81.25 899.32,83.84 899.50,84.48 899.68,85.75 899.86,88.09 900.04,84.70 900.22,85.44 900.40,88.38 900.59,86.93 900.77,87.22 900.95,92.29 901.13,90.98 901.31,92.19 901.49,95.31 901.67,91.66 901.86,95.25 902.04,94.66 902.22,94.12 902.40,94.45 902.58,95.60 902.76,91.31 902.94,99.53 903.13,97.62 903.31,103.05 903.49,98.00 903.67,96.71 903.85,98.57 904.03,102.42 904.22,102.27 904.40,99.41 904.58,102.93 904.76,101.46 904.94,105.81 905.12,101.22 905.30,102.22 905.49,104.71 905.67,108.45 905.85,107.07 906.03,106.81 906.21,106.33 906.39,108.00 906.57,108.88 906.76,108.28 906.94,107.01 907.12,114.79 907.30,112.95 907.48,113.59 907.66,113.70 907.85,114.90 908.03,112.10 908.21,113.61 908.39,114.97 908.57,116.48 908.75,115.68 908.93,116.30 909.12,116.38 909.30,120.04 909.48,117.10 909.66,122.79 909.84,116.68 910.02,124.67 910.20,121.16 910.39,122.69 910.57,118.61 910.75,124.32 910.93,118.01 911.11,124.13 911.29,117.79 911.47,120.84 911.66,122.33 911.84,122.08 912.02,117.90 912.20,120.39 912.38,129.74 912.56,122.37 912.75,125.42 912.93,128.70 913.11,125.39 913.29,130.75 913.47,127.46 913.65,127.91 913.83,130.88 914.02,128.27 914.20,131.70 914.38,129.81 914.56,132.17 914.74,131.43 914.92,127.86 915.10,131.53 915.29,134.13 915.47,132.51 915.65,135.11 915.83,132.92 916.01,133.03 916.19,133.54 916.38,133.65 916.56,135.18 916.74,133.57 916.92,132.87 917.10,136.33 917.28,135.56 917.46,135.65 917.65,133.59 917.83,135.48 918.01,138.43 918.19,137.22 918.37,141.01 918.55,140.36 918.73,138.77 918.92,136.61 919.10,136.57 919.28,139.82 919.46,141.85 919.64,138.84 919.82,140.17 920.00,139.67 920.19,140.53 920.37,139.99 920.55,140.61 920.73,140.90 920.91,143.72 921.09,141.03 921.28,145.31 921.46,144.85 921.64,142.59 921.82,144.84 922.00,147.75 922.18,143.40 922.36,144.87 922.55,143.77 922.73,146.47 922.91,146.47 923.09,147.49 923.27,148.58 923.45,144.01 923.63,147.94 923.82,149.18 924.00,148.67 924.18,145.52 924.36,146.73 924.54,149.43 924.72,149.10 924.91,148.57 925.09,147.73 925.27,152.84 925.45,148.16 925.63,150.86 925.81,151.77 925.99,151.78 926.18,149.81 926.36,148.33 926.54,151.25 926.72,151.23 926.90,154.26 927.08,151.36 927.26,151.36 927.45,156.07 927.63,153.61 927.81,150.82 927.99,157.20 928.17,154.52 928.35,152.08 928.53,155.92 928.72,154.98 928.90,153.56 929.08,152.16 929.26,156.27 929.44,152.96 929.62,154.26 929.81,151.31 929.99,152.63 930.17,154.19 930.35,154.34 930.53,162.27 930.71,158.17 930.89,158.51 931.08,156.90 931.26,154.83 931.44,160.32 931.62,157.06 931.80,158.59 931.98,159.04 932.16,154.47 932.35,157.32 932.53,154.36 932.71,154.24 932.89,159.12 933.07,160.50 933.25,153.32 933.43,159.21 933.62,160.17 933.80,157.01 933.98,157.98 934.16,159.52 934.34,158.98 934.52,158.41 934.71,158.43 934.89,157.50 935.07,159.45 935.25,159.94 935.43,158.16 935.61,158.24 935.79,155.05 935.98,160.24 936.16,159.50 936.34,161.64 936.52,157.39 936.70,162.46 936.88,159.32 937.06,161.37 937.25,159.10 937.43,159.13 937.61,164.42 937.79,160.68 937.97,164.96 938.15,156.05 938.34,161.30 938.52,162.84 938.70,161.95 938.88,158.57 939.06,158.31 939.24,158.78 939.42,162.55 939.61,161.64 939.79,158.46 939.97,162.16 940.15,162.34 940.33,163.17 940.51,163.77 940.69,159.15 940.88,160.01 941.06,160.69 941.24,160.61 941.42,159.80 941.60,158.55 941.78,161.32 941.96,161.78 942.15,163.12 942.33,157.79 942.51,161.99 942.69,165.22 942.87,161.88 943.05,161.88 943.24,160.80 943.42,159.80 943.60,163.08 943.78,163.48 943.96,163.07 944.14,164.94 944.32,162.49 944.51,161.56 944.69,162.35 944.87,164.69 945.05,164.40 945.23,158.99 945.41,164.19 945.59,160.59 945.78,161.07 945.96,163.83 946.14,164.58 946.32,162.16 946.50,164.72 946.68,162.88 946.87,162.62 947.05,163.83 947.23,163.16 947.41,163.29 947.59,165.09 947.77,163.01 947.95,164.32 948.14,165.40 948.32,163.86 948.50,163.81 948.68,164.82 948.86,165.40 949.04,161.79 949.22,161.90 949.41,162.46 949.59,162.78 949.77,165.40 949.95,162.86 950.13,164.59 950.31,158.11 950.49,163.91 950.68,161.68 950.86,165.40 951.04,165.40 951.22,164.72 951.40,162.60 951.58,162.11 951.77,163.25 951.95,165.40 952.13,160.76 952.31,164.97 952.49,160.44 952.67,160.47 952.85,162.39 953.04,161.51 953.22,165.40 953.40,156.86 953.58,162.73 953.76,161.49 953.94,164.15 954.12,163.34 954.31,165.40 954.49,163.90 954.67,163.20 954.85,162.83 955.03,160.01 955.21,162.16 955.40,162.52 955.58,162.87 955.76,159.88 955.94,163.83 956.12,159.70 956.30,165.40 956.48,164.43 956.67,162.37 956.85,163.71 957.03,156.76 957.21,158.84 957.39,165.40 957.57,165.40 957.75,164.45 957.94,161.48 958.12,161.91 958.30,163.59 958.48,165.40 958.66,165.24 958.84,165.40 959.02,165.40 959.21,162.54 959.39,162.76 959.57,165.40 959.75,163.51 959.93,157.20 960.11,163.78 960.30,164.57 960.48,162.81 960.66,163.37 960.84,163.66 961.02,165.15 961.20,164.26 961.38,163.08 961.57,164.12 961.75,160.55 961.93,161.95 962.11,161.30 962.29,160.55 962.47,160.49 962.65,160.11 962.84,162.59 963.02,163.53 963.20,159.82 963.38,165.31 963.56,164.44 963.74,164.93 963.93,163.11 964.11,162.40 964.29,162.34 964.47,164.12 964.65,165.40 964.83,162.87 965.01,161.49 965.20,163.31 965.38,163.73 965.56,162.35 965.74,161.49 965.92,163.50 966.10,165.40 966.28,164.02 966.47,163.65 966.65,165.40 966.83,162.52 967.01,165.40 967.19,162.65 967.37,163.06 967.55,164.09 967.74,160.24 967.92,164.23 968.10,164.60 968.28,162.88 968.46,160.75 968.64,163.24 968.83,165.17 969.01,161.72 969.19,162.45 969.37,158.44 969.55,163.68 969.73,162.71 969.91,164.56 970.10,165.40 970.28,163.69 970.46,161.76 970.64,165.40 970.82,164.79 971.00,165.40 971.18,159.90 971.37,164.42 971.55,162.44 971.73,165.34 971.91,163.27 972.09,164.74 972.27,165.40 972.45,163.06 972.64,162.01 972.82,165.40 973.00,163.93 973.18,164.51 973.36,165.40 973.54,164.72 973.73,165.40 973.91,163.80 974.09,161.71 974.27,165.40 974.45,164.69 974.63,162.64 974.81,164.46 975.00,165.40 975.18,165.40 975.36,164.19 975.54,164.46 975.72,162.80 975.90,165.40 976.08,162.04 976.27,164.43 976.45,161.42 976.63,164.71 976.81,165.40 976.99,164.34 977.17,165.40 977.36,164.78 977.54,162.12 977.72,161.91 977.90,163.34 978.08,164.24 978.26,164.57 978.44,163.51 978.63,161.32 978.81,165.07 978.99,165.00 979.17,165.40 979.35,163.99 979.53,162.36 979.71,165.40 979.90,164.39 980.08,165.40 980.26,165.40 980.44,163.99 980.62,164.46 980.80,163.45 980.98,165.40 981.17,160.29 981.35,164.10 981.53,165.03 981.71,161.63 981.89,162.19 982.07,163.02 982.26,161.23 982.44,165.40 982.62,161.36 982.80,165.09 982.98,164.01 983.16,162.58 983.34,165.40 983.53,163.43 983.71,163.13 983.89,164.18 984.07,163.30 984.25,165.40 984.43,165.40 984.61,165.40 984.80,163.16 984.98,157.31 985.16,163.41 985.34,164.25 985.52,164.28 985.70,162.14 985.89,162.71 986.07,165.40 986.25,160.92 986.43,164.07 986.61,162.54 986.79,165.40 986.97,165.40 987.16,162.90 987.34,165.40 987.52,163.31 987.70,163.68" fill="none" stroke="#27d4d4" stroke-width="0.95" stroke-linejoin="round"/>
<line x1="794.2" y1="165.0" x2="794.2" y2="162.2" stroke="#222" stroke-width="2"/>
<line x1="891.0" y1="165.0" x2="891.0" y2="162.2" stroke="#222" stroke-width="2"/>
<line x1="697.5" y1="145.1" x2="700.1" y2="145.1" stroke="#262626" stroke-width="1.3"/>
<line x1="697.5" y1="125.2" x2="701.8" y2="125.2" stroke="#262626" stroke-width="1.3"/>
<line x1="697.5" y1="105.2" x2="700.1" y2="105.2" stroke="#262626" stroke-width="1.3"/>
<line x1="697.5" y1="85.3" x2="701.8" y2="85.3" stroke="#262626" stroke-width="1.3"/>
<line x1="697.5" y1="65.4" x2="700.1" y2="65.4" stroke="#262626" stroke-width="1.3"/>
<text x="693.0" y="94.7" font-size="20" fill="#000" text-anchor="end" font-weight="bold" font-style="normal" >200</text>
<text x="693.0" y="136.1" font-size="20" fill="#000" text-anchor="end" font-weight="bold" font-style="normal" >100</text>
<text x="693.0" y="172.6" font-size="20" fill="#000" text-anchor="end" font-weight="bold" font-style="normal" >0</text>
<text x="699.3" y="80.6" font-size="25" fill="#27d4d4" text-anchor="start" font-weight="bold" font-style="normal" letter-spacing="0.2"><tspan font-style="italic">r</tspan> = 480 nm</text>
<rect x="697.5" y="169.6" width="290.20000000000005" height="112.00000000000003" fill="none" stroke="#2e2e2e" stroke-width="1.7"/>
<polyline points="697.50,281.60 697.68,279.62 697.86,277.65 698.04,275.67 698.23,273.69 698.41,271.71 698.59,270.46 698.77,269.57 698.95,268.22 699.13,266.81 699.31,265.87 699.50,266.82 699.68,265.34 699.86,264.67 700.04,261.74 700.22,262.83 700.40,262.30 700.59,262.68 700.77,260.12 700.95,262.26 701.13,264.01 701.31,259.85 701.49,260.31 701.67,258.73 701.86,259.02 702.04,259.82 702.22,259.81 702.40,260.27 702.58,260.94 702.76,262.31 702.94,262.92 703.13,258.66 703.31,258.37 703.49,259.23 703.67,260.38 703.85,258.46 704.03,258.95 704.22,258.72 704.40,258.92 704.58,259.54 704.76,259.91 704.94,257.45 705.12,254.27 705.30,256.33 705.49,258.41 705.67,257.75 705.85,258.16 706.03,257.64 706.21,257.29 706.39,256.48 706.57,258.98 706.76,255.41 706.94,257.88 707.12,258.24 707.30,254.44 707.48,258.08 707.66,257.06 707.84,258.11 708.03,255.23 708.21,259.77 708.39,255.83 708.57,258.97 708.75,254.12 708.93,251.34 709.12,254.73 709.30,256.57 709.48,253.78 709.66,250.89 709.84,254.43 710.02,255.42 710.20,251.57 710.39,255.97 710.57,254.90 710.75,254.54 710.93,254.11 711.11,252.92 711.29,254.10 711.47,256.12 711.66,254.87 711.84,253.67 712.02,252.94 712.20,252.17 712.38,251.76 712.56,255.81 712.75,251.95 712.93,253.90 713.11,250.99 713.29,253.31 713.47,253.41 713.65,253.64 713.83,251.00 714.02,252.84 714.20,248.65 714.38,251.09 714.56,253.92 714.74,252.36 714.92,249.39 715.10,251.02 715.29,250.90 715.47,250.74 715.65,253.23 715.83,253.96 716.01,249.26 716.19,252.38 716.37,250.69 716.56,249.23 716.74,255.54 716.92,252.60 717.10,249.90 717.28,251.80 717.46,251.30 717.65,248.53 717.83,251.36 718.01,250.77 718.19,250.20 718.37,253.86 718.55,247.18 718.73,250.01 718.92,251.39 719.10,249.09 719.28,252.05 719.46,251.13 719.64,252.15 719.82,250.24 720.00,250.89 720.19,249.18 720.37,250.74 720.55,249.28 720.73,249.02 720.91,248.87 721.09,248.89 721.27,249.01 721.46,250.43 721.64,253.53 721.82,248.02 722.00,250.68 722.18,247.69 722.36,248.59 722.55,248.45 722.73,248.33 722.91,247.27 723.09,249.70 723.27,247.90 723.45,247.11 723.63,247.05 723.82,244.31 724.00,248.35 724.18,247.99 724.36,245.16 724.54,247.03 724.72,247.37 724.90,246.11 725.09,249.20 725.27,248.08 725.45,247.32 725.63,248.02 725.81,245.42 725.99,247.09 726.18,246.50 726.36,248.96 726.54,247.85 726.72,247.81 726.90,247.11 727.08,246.61 727.26,247.13 727.45,244.92 727.63,241.54 727.81,246.37 727.99,247.57 728.17,244.65 728.35,244.46 728.53,245.77 728.72,244.39 728.90,250.68 729.08,245.25 729.26,246.41 729.44,242.74 729.62,245.79 729.80,244.00 729.99,246.17 730.17,246.26 730.35,246.47 730.53,247.33 730.71,246.34 730.89,242.99 731.08,247.91 731.26,245.26 731.44,243.78 731.62,245.01 731.80,244.61 731.98,244.89 732.16,243.91 732.35,249.60 732.53,243.40 732.71,244.52 732.89,246.62 733.07,246.43 733.25,245.73 733.43,244.27 733.62,246.75 733.80,247.56 733.98,247.82 734.16,244.41 734.34,246.59 734.52,245.14 734.71,246.88 734.89,245.20 735.07,245.81 735.25,245.79 735.43,243.51 735.61,245.04 735.79,246.14 735.98,241.19 736.16,247.12 736.34,247.25 736.52,248.67 736.70,240.35 736.88,244.58 737.06,244.07 737.25,241.39 737.43,244.80 737.61,243.60 737.79,242.83 737.97,244.63 738.15,242.69 738.33,244.49 738.52,244.49 738.70,242.86 738.88,243.41 739.06,244.13 739.24,247.74 739.42,247.26 739.61,245.78 739.79,244.52 739.97,243.59 740.15,244.10 740.33,245.15 740.51,244.33 740.69,244.44 740.88,243.06 741.06,247.53 741.24,243.88 741.42,241.40 741.60,243.52 741.78,245.85 741.96,246.78 742.15,245.38 742.33,243.71 742.51,244.80 742.69,248.09 742.87,252.23 743.05,245.07 743.24,240.39 743.42,247.49 743.60,246.30 743.78,245.57 743.96,244.98 744.14,244.65 744.32,249.92 744.51,245.82 744.69,247.15 744.87,244.90 745.05,245.80 745.23,245.40 745.41,248.79 745.59,248.08 745.78,247.20 745.96,247.29 746.14,248.12 746.32,248.03 746.50,247.41 746.68,248.15 746.86,245.07 747.05,246.86 747.23,250.03 747.41,245.80 747.59,248.94 747.77,246.02 747.95,247.23 748.14,243.59 748.32,245.71 748.50,247.47 748.68,245.56 748.86,246.62 749.04,246.11 749.22,251.80 749.41,248.03 749.59,248.32 749.77,245.83 749.95,248.99 750.13,247.52 750.31,248.43 750.49,249.60 750.68,248.94 750.86,247.19 751.04,248.18 751.22,248.22 751.40,247.97 751.58,247.77 751.77,247.46 751.95,248.07 752.13,250.01 752.31,248.50 752.49,247.96 752.67,246.05 752.85,250.77 753.04,245.19 753.22,248.94 753.40,245.95 753.58,251.43 753.76,249.06 753.94,251.22 754.12,250.73 754.31,249.34 754.49,248.22 754.67,249.58 754.85,248.31 755.03,249.87 755.21,245.81 755.39,249.11 755.58,244.89 755.76,245.65 755.94,249.59 756.12,247.60 756.30,249.38 756.48,245.57 756.67,248.14 756.85,245.80 757.03,249.30 757.21,249.75 757.39,250.80 757.57,249.20 757.75,249.02 757.94,249.58 758.12,249.52 758.30,248.92 758.48,250.07 758.66,251.07 758.84,251.71 759.02,250.87 759.21,250.32 759.39,248.45 759.57,248.90 759.75,251.39 759.93,249.17 760.11,250.75 760.29,248.06 760.48,253.12 760.66,247.76 760.84,249.77 761.02,249.16 761.20,250.32 761.38,251.88 761.57,250.26 761.75,250.58 761.93,249.79 762.11,249.89 762.29,248.68 762.47,249.78 762.65,252.75 762.84,249.88 763.02,253.23 763.20,252.65 763.38,251.21 763.56,252.59 763.74,251.66 763.92,250.19 764.11,251.94 764.29,252.98 764.47,254.16 764.65,246.49 764.83,252.36 765.01,251.70 765.20,251.64 765.38,250.16 765.56,252.38 765.74,253.07 765.92,252.66 766.10,253.35 766.28,254.51 766.47,256.18 766.65,251.60 766.83,252.51 767.01,249.25 767.19,252.32 767.37,251.93 767.55,249.04 767.74,253.55 767.92,250.12 768.10,253.78 768.28,253.40 768.46,250.54 768.64,251.11 768.82,253.16 769.01,251.07 769.19,247.53 769.37,250.17 769.55,251.03 769.73,252.51 769.91,251.63 770.10,250.72 770.28,251.85 770.46,250.78 770.64,249.92 770.82,253.51 771.00,251.39 771.18,250.75 771.37,251.95 771.55,252.75 771.73,248.92 771.91,251.88 772.09,252.00 772.27,252.65 772.45,252.19 772.64,252.40 772.82,252.13 773.00,255.29 773.18,255.08 773.36,252.91 773.54,252.59 773.73,252.88 773.91,250.97 774.09,252.00 774.27,251.09 774.45,251.94 774.63,254.54 774.81,251.52 775.00,250.23 775.18,251.80 775.36,252.13 775.54,253.33 775.72,251.60 775.90,253.71 776.08,255.98 776.27,251.90 776.45,251.06 776.63,252.48 776.81,252.58 776.99,253.37 777.17,249.57 777.35,252.16 777.54,253.35 777.72,253.49 777.90,252.85 778.08,250.25 778.26,253.96 778.44,253.90 778.63,252.51 778.81,253.16 778.99,255.63 779.17,253.41 779.35,253.57 779.53,253.61 779.71,252.79 779.90,252.43 780.08,250.89 780.26,251.95 780.44,251.61 780.62,253.65 780.80,252.69 780.98,253.55 781.17,255.14 781.35,251.16 781.53,249.26 781.71,251.22 781.89,252.04 782.07,252.06 782.26,251.51 782.44,253.03 782.62,252.98 782.80,252.04 782.98,250.61 783.16,252.75 783.34,255.38 783.53,251.31 783.71,252.52 783.89,254.12 784.07,254.37 784.25,256.63 784.43,254.59 784.61,253.68 784.80,252.45 784.98,253.53 785.16,255.24 785.34,253.92 785.52,253.40 785.70,252.03 785.88,252.42 786.07,251.85 786.25,255.23 786.43,252.65 786.61,252.46 786.79,254.18 786.97,252.91 787.16,253.88 787.34,254.79 787.52,256.11 787.70,253.12 787.88,253.22 788.06,252.65 788.24,252.51 788.43,253.17 788.61,254.99 788.79,253.84 788.97,253.96 789.15,250.28 789.33,254.64 789.51,255.09 789.70,254.42 789.88,251.07 790.06,254.98 790.24,252.15 790.42,254.07 790.60,252.10 790.79,255.01 790.97,253.45 791.15,251.33 791.33,252.89 791.51,254.21 791.69,250.78 791.87,254.66 792.06,254.01 792.24,250.32 792.42,249.40 792.60,252.31 792.78,255.89 792.96,254.27 793.14,253.75 793.33,253.00 793.51,250.41 793.69,251.69 793.87,251.25 794.05,253.84 794.23,252.01 794.41,251.38 794.60,252.25 794.78,253.13 794.96,254.30 795.14,251.20 795.32,251.30 795.50,253.25 795.69,251.89 795.87,250.69 796.05,250.54 796.23,250.52 796.41,252.59 796.59,250.67 796.77,254.95 796.96,255.49 797.14,252.85 797.32,251.45 797.50,254.73 797.68,252.08 797.86,251.34 798.04,251.53 798.23,250.76 798.41,248.47 798.59,251.18 798.77,251.95 798.95,250.36 799.13,249.23 799.32,251.74 799.50,249.30 799.68,249.60 799.86,252.23 800.04,251.55 800.22,252.77 800.40,251.02 800.59,251.34 800.77,246.81 800.95,254.72 801.13,252.53 801.31,251.96 801.49,250.07 801.67,251.13 801.86,252.11 802.04,249.77 802.22,250.79 802.40,249.59 802.58,248.55 802.76,248.94 802.94,253.28 803.13,251.16 803.31,248.80 803.49,249.79 803.67,251.05 803.85,248.11 804.03,248.55 804.22,247.81 804.40,246.81 804.58,248.61 804.76,246.63 804.94,247.29 805.12,247.26 805.30,244.72 805.49,250.72 805.67,249.24 805.85,248.57 806.03,245.16 806.21,245.76 806.39,246.91 806.57,247.23 806.76,249.35 806.94,245.12 807.12,245.43 807.30,244.29 807.48,243.07 807.66,244.10 807.84,242.56 808.03,245.10 808.21,241.60 808.39,242.48 808.57,244.29 808.75,242.72 808.93,238.86 809.12,244.26 809.30,243.07 809.48,242.70 809.66,241.51 809.84,241.56 810.02,239.31 810.20,241.49 810.39,239.52 810.57,241.26 810.75,241.85 810.93,240.63 811.11,240.20 811.29,238.23 811.47,236.92 811.66,240.71 811.84,237.16 812.02,241.11 812.20,234.93 812.38,241.25 812.56,239.49 812.75,238.29 812.93,238.79 813.11,239.94 813.29,237.08 813.47,238.94 813.65,236.06 813.83,239.53 814.02,233.82 814.20,235.28 814.38,235.00 814.56,234.38 814.74,236.49 814.92,236.33 815.10,234.91 815.29,237.97 815.47,236.14 815.65,236.35 815.83,236.44 816.01,237.14 816.19,239.21 816.37,236.41 816.56,235.84 816.74,234.88 816.92,234.71 817.10,236.62 817.28,236.26 817.46,237.78 817.65,235.92 817.83,236.20 818.01,232.86 818.19,233.63 818.37,233.60 818.55,234.69 818.73,234.01 818.92,233.19 819.10,235.34 819.28,232.33 819.46,231.98 819.64,234.11 819.82,233.25 820.00,234.75 820.19,231.12 820.37,231.87 820.55,231.40 820.73,232.95 820.91,233.75 821.09,232.70 821.28,230.02 821.46,230.28 821.64,231.01 821.82,232.37 822.00,232.07 822.18,229.82 822.36,234.21 822.55,231.06 822.73,233.85 822.91,232.10 823.09,231.16 823.27,231.64 823.45,232.41 823.63,230.24 823.82,233.03 824.00,232.82 824.18,233.43 824.36,231.71 824.54,229.67 824.72,232.26 824.90,234.64 825.09,230.22 825.27,230.50 825.45,233.10 825.63,231.84 825.81,231.34 825.99,232.71 826.18,230.92 826.36,231.02 826.54,232.75 826.72,234.40 826.90,232.19 827.08,227.80 827.26,228.49 827.45,231.03 827.63,232.76 827.81,227.50 827.99,229.19 828.17,227.23 828.35,227.34 828.53,229.59 828.72,230.54 828.90,232.25 829.08,230.65 829.26,231.95 829.44,229.09 829.62,231.51 829.81,228.29 829.99,231.76 830.17,230.63 830.35,232.19 830.53,229.33 830.71,232.15 830.89,227.78 831.08,230.17 831.26,233.52 831.44,233.41 831.62,230.39 831.80,230.75 831.98,227.66 832.16,231.52 832.35,230.64 832.53,230.33 832.71,230.23 832.89,228.27 833.07,231.14 833.25,233.22 833.43,228.73 833.62,230.63 833.80,234.53 833.98,232.81 834.16,233.02 834.34,231.89 834.52,230.36 834.71,232.32 834.89,232.29 835.07,232.55 835.25,231.78 835.43,231.27 835.61,230.23 835.79,233.50 835.98,232.17 836.16,230.07 836.34,228.19 836.52,229.83 836.70,236.28 836.88,233.99 837.06,231.03 837.25,231.42 837.43,231.53 837.61,228.97 837.79,233.29 837.97,228.93 838.15,231.52 838.34,232.61 838.52,234.11 838.70,234.87 838.88,228.40 839.06,231.08 839.24,230.17 839.42,230.24 839.61,231.57 839.79,230.49 839.97,231.13 840.15,232.23 840.33,232.61 840.51,233.35 840.69,231.56 840.88,232.22 841.06,229.67 841.24,232.68 841.42,233.72 841.60,235.34 841.78,230.85 841.96,227.29 842.15,232.16 842.33,234.92 842.51,230.77 842.69,233.51 842.87,230.83 843.05,232.03 843.24,230.98 843.42,232.33 843.60,233.43 843.78,230.09 843.96,232.89 844.14,230.47 844.32,232.98 844.51,231.75 844.69,234.54 844.87,229.02 845.05,232.75 845.23,234.58 845.41,229.48 845.59,230.90 845.78,231.56 845.96,232.82 846.14,231.08 846.32,230.32 846.50,229.03 846.68,231.94 846.86,230.00 847.05,236.18 847.23,230.65 847.41,232.37 847.59,229.68 847.77,232.20 847.95,228.43 848.14,231.41 848.32,231.14 848.50,234.50 848.68,235.51 848.86,230.18 849.04,233.25 849.22,229.26 849.41,233.51 849.59,230.42 849.77,232.99 849.95,231.56 850.13,230.38 850.31,230.63 850.49,233.55 850.68,234.13 850.86,230.60 851.04,230.85 851.22,229.93 851.40,233.46 851.58,229.27 851.77,230.82 851.95,231.52 852.13,230.13 852.31,226.84 852.49,228.58 852.67,228.30 852.85,228.06 853.04,229.29 853.22,226.11 853.40,227.30 853.58,229.70 853.76,229.89 853.94,228.30 854.12,227.24 854.31,224.75 854.49,232.69 854.67,224.76 854.85,223.93 855.03,226.40 855.21,221.82 855.39,225.60 855.58,224.65 855.76,224.57 855.94,221.66 856.12,221.86 856.30,221.08 856.48,224.68 856.67,221.86 856.85,223.74 857.03,221.46 857.21,220.74 857.39,219.04 857.57,220.83 857.75,219.61 857.94,219.91 858.12,220.68 858.30,215.46 858.48,218.08 858.66,216.47 858.84,216.44 859.02,219.94 859.21,218.29 859.39,216.06 859.57,215.46 859.75,216.29 859.93,216.70 860.11,215.44 860.30,217.95 860.48,216.77 860.66,218.01 860.84,213.51 861.02,214.53 861.20,212.80 861.38,215.40 861.57,219.26 861.75,216.26 861.93,214.33 862.11,214.19 862.29,212.13 862.47,212.61 862.65,215.42 862.84,212.06 863.02,216.12 863.20,211.48 863.38,215.28 863.56,211.34 863.74,215.84 863.92,211.12 864.11,209.04 864.29,212.28 864.47,210.23 864.65,208.41 864.83,217.78 865.01,215.21 865.20,210.60 865.38,213.54 865.56,211.06 865.74,204.70 865.92,205.84 866.10,208.30 866.28,210.42 866.47,207.37 866.65,208.62 866.83,209.56 867.01,203.13 867.19,211.62 867.37,205.90 867.55,209.46 867.74,206.82 867.92,208.94 868.10,209.80 868.28,209.60 868.46,207.44 868.64,207.13 868.83,200.57 869.01,205.66 869.19,207.74 869.37,209.70 869.55,207.17 869.73,205.14 869.91,210.24 870.10,207.13 870.28,204.35 870.46,207.77 870.64,209.23 870.82,205.16 871.00,203.99 871.18,206.32 871.37,205.29 871.55,203.44 871.73,203.34 871.91,205.96 872.09,205.25 872.27,204.91 872.45,204.55 872.64,201.01 872.82,207.28 873.00,203.01 873.18,203.76 873.36,207.54 873.54,201.91 873.73,202.95 873.91,205.64 874.09,207.71 874.27,200.09 874.45,198.64 874.63,202.22 874.81,202.54 875.00,200.05 875.18,202.86 875.36,202.30 875.54,198.25 875.72,202.99 875.90,197.44 876.08,199.44 876.27,195.52 876.45,203.18 876.63,195.90 876.81,199.70 876.99,197.69 877.17,200.98 877.36,200.69 877.54,196.37 877.72,197.52 877.90,197.09 878.08,196.55 878.26,197.21 878.44,203.38 878.63,198.74 878.81,198.77 878.99,193.73 879.17,193.70 879.35,199.26 879.53,199.60 879.71,194.46 879.90,195.28 880.08,193.04 880.26,199.25 880.44,193.14 880.62,194.99 880.80,193.05 880.98,194.17 881.17,195.37 881.35,195.64 881.53,192.46 881.71,204.21 881.89,193.01 882.07,193.24 882.26,197.46 882.44,192.69 882.62,194.73 882.80,197.22 882.98,194.55 883.16,193.25 883.34,194.40 883.53,195.72 883.71,193.10 883.89,192.31 884.07,190.04 884.25,192.92 884.43,190.36 884.61,194.69 884.80,193.61 884.98,195.01 885.16,192.61 885.34,192.18 885.52,192.19 885.70,193.92 885.88,189.39 886.07,194.35 886.25,193.89 886.43,196.47 886.61,189.37 886.79,189.06 886.97,191.50 887.16,190.35 887.34,194.19 887.52,192.45 887.70,193.46 887.88,190.23 888.06,191.66 888.24,190.06 888.43,193.31 888.61,194.12 888.79,190.13 888.97,190.80 889.15,190.05 889.33,193.32 889.51,191.51 889.70,196.03 889.88,194.89 890.06,192.58 890.24,194.95 890.42,195.49 890.60,197.79 890.79,190.83 890.97,195.25 891.15,193.73 891.33,195.00 891.51,188.30 891.69,195.16 891.87,192.07 892.06,192.75 892.24,195.00 892.42,196.53 892.60,199.35 892.78,195.66 892.96,191.00 893.14,196.75 893.33,192.38 893.51,195.37 893.69,196.78 893.87,199.86 894.05,199.56 894.23,198.34 894.41,197.80 894.60,202.80 894.78,205.13 894.96,201.19 895.14,201.57 895.32,200.58 895.50,198.75 895.69,203.43 895.87,198.36 896.05,200.51 896.23,203.55 896.41,207.90 896.59,202.21 896.77,200.64 896.96,203.89 897.14,203.54 897.32,206.10 897.50,208.71 897.68,207.74 897.86,208.26 898.04,208.93 898.23,208.17 898.41,207.83 898.59,206.30 898.77,204.14 898.95,208.64 899.13,207.49 899.32,209.81 899.50,209.95 899.68,208.71 899.86,212.39 900.04,210.47 900.22,212.09 900.40,212.52 900.59,213.03 900.77,209.84 900.95,211.80 901.13,213.45 901.31,212.66 901.49,215.10 901.67,214.25 901.86,213.95 902.04,216.17 902.22,214.21 902.40,213.68 902.58,213.92 902.76,215.11 902.94,210.46 903.13,216.54 903.31,213.09 903.49,212.71 903.67,215.73 903.85,214.01 904.03,218.23 904.22,216.54 904.40,217.71 904.58,219.67 904.76,218.75 904.94,217.94 905.12,218.58 905.30,218.37 905.49,220.91 905.67,220.54 905.85,220.93 906.03,222.15 906.21,221.44 906.39,226.24 906.57,223.65 906.76,223.32 906.94,224.25 907.12,221.93 907.30,224.62 907.48,221.49 907.66,228.60 907.85,220.50 908.03,227.39 908.21,228.37 908.39,227.22 908.57,228.11 908.75,227.59 908.93,228.51 909.12,226.92 909.30,226.48 909.48,230.49 909.66,225.48 909.84,228.50 910.02,229.44 910.20,228.08 910.39,230.30 910.57,227.85 910.75,232.61 910.93,229.61 911.11,232.31 911.29,231.07 911.47,233.31 911.66,230.52 911.84,232.44 912.02,232.47 912.20,235.94 912.38,237.82 912.56,234.63 912.75,233.69 912.93,235.59 913.11,238.97 913.29,231.91 913.47,239.47 913.65,236.76 913.83,240.52 914.02,240.77 914.20,239.79 914.38,247.73 914.56,243.19 914.74,242.26 914.92,242.92 915.10,247.98 915.29,241.49 915.47,244.05 915.65,244.11 915.83,248.05 916.01,244.91 916.19,243.73 916.38,244.04 916.56,245.36 916.74,246.77 916.92,247.33 917.10,247.15 917.28,246.25 917.46,249.22 917.65,249.61 917.83,249.26 918.01,251.10 918.19,250.38 918.37,251.04 918.55,253.85 918.73,248.23 918.92,252.22 919.10,255.02 919.28,256.56 919.46,255.48 919.64,255.76 919.82,256.79 920.00,255.39 920.19,256.69 920.37,258.24 920.55,254.13 920.73,257.94 920.91,256.94 921.09,260.13 921.28,259.18 921.46,259.28 921.64,256.69 921.82,257.86 922.00,260.36 922.18,260.39 922.36,259.22 922.55,261.17 922.73,260.64 922.91,258.96 923.09,263.07 923.27,259.46 923.45,261.91 923.63,261.22 923.82,261.95 924.00,260.57 924.18,260.76 924.36,261.61 924.54,265.12 924.72,263.13 924.91,261.83 925.09,265.08 925.27,266.21 925.45,264.41 925.63,263.60 925.81,267.81 925.99,264.62 926.18,266.13 926.36,266.01 926.54,265.53 926.72,266.67 926.90,267.40 927.08,266.69 927.26,264.82 927.45,266.59 927.63,266.12 927.81,268.78 927.99,268.51 928.17,269.84 928.35,266.74 928.53,266.71 928.72,267.67 928.90,267.85 929.08,270.03 929.26,269.62 929.44,267.20 929.62,270.45 929.81,267.71 929.99,266.93 930.17,271.49 930.35,271.32 930.53,266.56 930.71,268.81 930.89,267.64 931.08,268.68 931.26,271.28 931.44,268.22 931.62,269.28 931.80,269.92 931.98,271.12 932.16,272.10 932.35,272.80 932.53,273.91 932.71,273.46 932.89,273.93 933.07,271.89 933.25,273.70 933.43,274.73 933.62,272.35 933.80,277.55 933.98,273.73 934.16,272.23 934.34,274.90 934.52,276.16 934.71,273.82 934.89,270.28 935.07,273.85 935.25,274.56 935.43,273.46 935.61,279.96 935.79,276.56 935.98,273.02 936.16,272.91 936.34,273.66 936.52,274.28 936.70,273.59 936.88,278.40 937.06,277.24 937.25,275.54 937.43,273.72 937.61,274.41 937.79,274.89 937.97,278.40 938.15,274.89 938.34,274.78 938.52,274.44 938.70,275.78 938.88,273.52 939.06,278.32 939.24,274.65 939.42,278.54 939.61,278.72 939.79,275.41 939.97,277.34 940.15,277.89 940.33,276.40 940.51,272.72 940.69,277.81 940.88,277.77 941.06,275.52 941.24,278.15 941.42,273.86 941.60,279.54 941.78,277.50 941.96,275.81 942.15,277.43 942.33,277.84 942.51,279.66 942.69,277.72 942.87,276.01 943.05,277.92 943.24,278.66 943.42,276.22 943.60,276.74 943.78,276.96 943.96,278.12 944.14,279.05 944.32,276.21 944.51,277.94 944.69,278.79 944.87,278.37 945.05,277.83 945.23,277.01 945.41,278.35 945.59,279.19 945.78,279.91 945.96,279.24 946.14,279.32 946.32,278.62 946.50,279.25 946.68,280.50 946.87,279.44 947.05,278.48 947.23,279.55 947.41,279.46 947.59,279.53 947.77,279.64 947.95,278.46 948.14,277.57 948.32,279.21 948.50,279.19 948.68,277.98 948.86,277.70 949.04,276.63 949.22,280.68 949.41,277.42 949.59,279.34 949.77,277.80 949.95,276.82 950.13,276.21 950.31,279.32 950.49,277.31 950.68,281.52 950.86,278.47 951.04,282.00 951.22,280.00 951.40,280.72 951.58,282.00 951.77,279.56 951.95,282.00 952.13,281.77 952.31,280.47 952.49,279.95 952.67,277.90 952.85,280.67 953.04,280.78 953.22,282.00 953.40,278.06 953.58,278.33 953.76,276.88 953.94,279.68 954.12,277.40 954.31,278.26 954.49,275.99 954.67,279.61 954.85,278.06 955.03,275.41 955.21,279.54 955.40,279.47 955.58,280.56 955.76,279.97 955.94,277.81 956.12,279.58 956.30,281.55 956.48,273.60 956.67,280.47 956.85,277.86 957.03,279.36 957.21,278.68 957.39,278.40 957.57,278.35 957.75,278.62 957.94,277.77 958.12,280.60 958.30,281.76 958.48,282.00 958.66,282.00 958.84,278.94 959.02,282.00 959.21,282.00 959.39,279.55 959.57,280.34 959.75,279.78 959.93,282.00 960.11,280.84 960.30,282.00 960.48,280.00 960.66,280.11 960.84,279.74 961.02,278.63 961.20,274.74 961.38,281.30 961.57,279.60 961.75,279.46 961.93,280.85 962.11,282.00 962.29,279.08 962.47,278.85 962.65,279.64 962.84,281.26 963.02,282.00 963.20,282.00 963.38,278.49 963.56,278.61 963.74,282.00 963.93,280.49 964.11,278.67 964.29,279.41 964.47,281.99 964.65,281.52 964.83,280.70 965.01,282.00 965.20,276.64 965.38,282.00 965.56,279.90 965.74,278.97 965.92,278.98 966.10,278.62 966.28,282.00 966.47,279.71 966.65,279.41 966.83,279.47 967.01,282.00 967.19,280.12 967.37,280.82 967.55,278.16 967.74,280.95 967.92,280.27 968.10,280.09 968.28,279.99 968.46,277.70 968.64,277.33 968.83,279.93 969.01,281.02 969.19,280.87 969.37,282.00 969.55,280.13 969.73,279.43 969.91,280.45 970.10,281.81 970.28,279.20 970.46,279.37 970.64,280.29 970.82,277.70 971.00,279.97 971.18,274.75 971.37,280.88 971.55,280.20 971.73,281.20 971.91,279.42 972.09,281.62 972.27,280.06 972.45,280.30 972.64,281.64 972.82,277.62 973.00,279.01 973.18,281.22 973.36,279.97 973.54,280.21 973.73,281.44 973.91,277.79 974.09,279.45 974.27,278.83 974.45,279.72 974.63,279.70 974.81,279.06 975.00,280.11 975.18,279.88 975.36,280.16 975.54,282.00 975.72,281.00 975.90,279.58 976.08,278.10 976.27,281.01 976.45,282.00 976.63,279.98 976.81,282.00 976.99,282.00 977.17,282.00 977.36,282.00 977.54,274.61 977.72,280.78 977.90,282.00 978.08,281.80 978.26,282.00 978.44,279.53 978.63,281.42 978.81,282.00 978.99,279.15 979.17,277.72 979.35,281.86 979.53,280.84 979.71,282.00 979.90,278.34 980.08,280.51 980.26,280.98 980.44,282.00 980.62,279.22 980.80,281.37 980.98,278.95 981.17,279.39 981.35,282.00 981.53,281.32 981.71,280.86 981.89,282.00 982.07,281.23 982.26,280.37 982.44,282.00 982.62,281.30 982.80,280.00 982.98,281.94 983.16,281.94 983.34,282.00 983.53,281.07 983.71,280.53 983.89,281.27 984.07,279.46 984.25,281.07 984.43,282.00 984.61,278.94 984.80,280.39 984.98,279.62 985.16,279.49 985.34,281.94 985.52,282.00 985.70,278.85 985.89,282.00 986.07,281.97 986.25,278.23 986.43,281.98 986.61,279.62 986.79,281.93 986.97,277.39 987.16,280.77 987.34,278.59 987.52,282.00 987.70,279.61" fill="none" stroke="#dba410" stroke-width="0.95" stroke-linejoin="round"/>
<line x1="794.2" y1="281.6" x2="794.2" y2="278.8" stroke="#222" stroke-width="2"/>
<line x1="891.0" y1="281.6" x2="891.0" y2="278.8" stroke="#222" stroke-width="2"/>
<line x1="697.5" y1="268.3" x2="700.1" y2="268.3" stroke="#262626" stroke-width="1.3"/>
<line x1="697.5" y1="255.1" x2="700.1" y2="255.1" stroke="#262626" stroke-width="1.3"/>
<line x1="697.5" y1="242.0" x2="700.1" y2="242.0" stroke="#262626" stroke-width="1.3"/>
<line x1="697.5" y1="228.9" x2="701.8" y2="228.9" stroke="#262626" stroke-width="1.3"/>
<line x1="697.5" y1="215.8" x2="700.1" y2="215.8" stroke="#262626" stroke-width="1.3"/>
<line x1="697.5" y1="202.6" x2="700.1" y2="202.6" stroke="#262626" stroke-width="1.3"/>
<line x1="697.5" y1="176.4" x2="701.8" y2="176.4" stroke="#262626" stroke-width="1.3"/>
<text x="693.0" y="185.9" font-size="20" fill="#000" text-anchor="end" font-weight="bold" font-style="normal" >400</text>
<text x="693.0" y="239.4" font-size="20" fill="#000" text-anchor="end" font-weight="bold" font-style="normal" >200</text>
<text x="693.0" y="288.6" font-size="20" fill="#000" text-anchor="end" font-weight="bold" font-style="normal" >0</text>
<text x="699.3" y="195.6" font-size="25" fill="#dba410" text-anchor="start" font-weight="bold" font-style="normal" letter-spacing="0.2"><tspan font-style="italic">r</tspan> = 460 nm</text>
<rect x="697.5" y="286.4" width="290.20000000000005" height="111.80000000000001" fill="none" stroke="#2e2e2e" stroke-width="1.7"/>
<polyline points="697.50,398.20 697.68,395.99 697.86,393.78 698.04,391.57 698.23,389.36 698.41,387.15 698.59,385.71 698.77,384.65 698.95,385.22 699.13,382.61 699.31,381.22 699.50,378.99 699.68,376.97 699.86,378.83 700.04,374.07 700.22,374.18 700.40,372.98 700.59,374.87 700.77,373.65 700.95,376.65 701.13,373.17 701.31,375.17 701.49,373.11 701.67,375.18 701.86,374.14 702.04,373.67 702.22,375.85 702.40,373.16 702.58,371.99 702.76,373.24 702.94,370.68 703.13,370.43 703.31,372.96 703.49,371.06 703.67,372.34 703.85,374.88 704.03,371.44 704.22,373.86 704.40,372.27 704.58,369.92 704.76,372.84 704.94,373.06 705.12,372.24 705.30,371.10 705.49,370.46 705.67,372.61 705.85,372.26 706.03,370.41 706.21,371.10 706.39,369.62 706.57,372.33 706.76,368.18 706.94,370.43 707.12,370.60 707.30,373.11 707.48,370.66 707.66,370.05 707.84,367.52 708.03,369.48 708.21,370.92 708.39,370.83 708.57,367.96 708.75,371.13 708.93,366.26 709.12,368.51 709.30,369.66 709.48,369.86 709.66,367.25 709.84,368.93 710.02,368.51 710.20,372.87 710.39,368.34 710.57,369.53 710.75,370.97 710.93,368.34 711.11,367.90 711.29,368.92 711.47,363.97 711.66,369.34 711.84,370.27 712.02,366.62 712.20,366.64 712.38,366.71 712.56,367.32 712.75,364.89 712.93,368.12 713.11,369.17 713.29,367.64 713.47,366.79 713.65,366.08 713.83,363.07 714.02,365.92 714.20,366.29 714.38,366.65 714.56,366.99 714.74,363.25 714.92,367.01 715.10,362.77 715.29,366.50 715.47,365.50 715.65,364.59 715.83,366.97 716.01,364.14 716.19,364.23 716.37,361.94 716.56,363.54 716.74,367.96 716.92,363.79 717.10,365.54 717.28,366.23 717.46,365.32 717.65,360.85 717.83,364.50 718.01,363.85 718.19,362.79 718.37,360.89 718.55,364.00 718.73,362.97 718.92,363.07 719.10,363.17 719.28,363.69 719.46,365.04 719.64,363.62 719.82,363.84 720.00,364.10 720.19,363.82 720.37,362.86 720.55,363.70 720.73,363.41 720.91,360.62 721.09,361.47 721.27,365.19 721.46,365.80 721.64,359.07 721.82,362.43 722.00,356.94 722.18,361.83 722.36,359.69 722.55,361.01 722.73,361.97 722.91,362.37 723.09,361.91 723.27,363.01 723.45,361.34 723.63,361.84 723.82,361.11 724.00,360.71 724.18,363.02 724.36,360.76 724.54,361.23 724.72,358.68 724.90,358.58 725.09,361.96 725.27,366.00 725.45,361.23 725.63,361.05 725.81,363.17 725.99,360.33 726.18,361.64 726.36,359.06 726.54,363.03 726.72,360.61 726.90,361.30 727.08,361.31 727.26,359.60 727.45,361.69 727.63,361.90 727.81,359.57 727.99,363.69 728.17,359.72 728.35,362.24 728.53,364.35 728.72,357.89 728.90,357.10 729.08,359.79 729.26,360.77 729.44,361.50 729.62,358.71 729.80,356.95 729.99,361.10 730.17,358.94 730.35,355.25 730.53,357.66 730.71,359.16 730.89,356.42 731.08,361.49 731.26,357.86 731.44,356.75 731.62,362.75 731.80,360.15 731.98,360.74 732.16,355.84 732.35,359.59 732.53,359.73 732.71,360.70 732.89,354.66 733.07,356.16 733.25,361.33 733.43,360.78 733.62,358.61 733.80,358.96 733.98,358.50 734.16,360.55 734.34,363.74 734.52,359.15 734.71,360.28 734.89,354.50 735.07,358.81 735.25,358.88 735.43,358.67 735.61,360.43 735.79,358.90 735.98,360.80 736.16,359.12 736.34,358.49 736.52,359.20 736.70,363.02 736.88,358.64 737.06,361.17 737.25,357.76 737.43,359.59 737.61,359.59 737.79,358.71 737.97,360.51 738.15,359.81 738.33,360.47 738.52,359.27 738.70,358.77 738.88,360.60 739.06,359.92 739.24,360.14 739.42,356.62 739.61,360.40 739.79,359.43 739.97,359.94 740.15,360.33 740.33,358.65 740.51,359.85 740.69,358.17 740.88,361.21 741.06,359.19 741.24,355.04 741.42,357.90 741.60,359.46 741.78,358.40 741.96,363.35 742.15,359.12 742.33,359.48 742.51,359.73 742.69,359.89 742.87,359.19 743.05,361.88 743.24,362.02 743.42,363.44 743.60,360.45 743.78,364.00 743.96,361.24 744.14,361.96 744.32,360.56 744.51,356.61 744.69,361.30 744.87,358.69 745.05,358.40 745.23,362.53 745.41,360.50 745.59,360.00 745.78,361.72 745.96,361.65 746.14,361.43 746.32,360.60 746.50,362.30 746.68,359.39 746.86,360.72 747.05,361.60 747.23,361.29 747.41,363.94 747.59,364.63 747.77,364.24 747.95,361.50 748.14,359.71 748.32,362.75 748.50,363.39 748.68,364.72 748.86,361.46 749.04,363.47 749.22,363.49 749.41,361.21 749.59,360.39 749.77,361.73 749.95,362.18 750.13,363.04 750.31,361.60 750.49,367.45 750.68,362.30 750.86,362.36 751.04,363.49 751.22,363.77 751.40,362.47 751.58,363.87 751.77,362.14 751.95,364.44 752.13,362.75 752.31,362.49 752.49,365.25 752.67,362.43 752.85,362.69 753.04,362.89 753.22,361.64 753.40,362.70 753.58,364.38 753.76,362.33 753.94,362.35 754.12,363.98 754.31,363.98 754.49,364.24 754.67,364.36 754.85,364.66 755.03,362.89 755.21,362.80 755.39,365.55 755.58,364.21 755.76,364.33 755.94,363.00 756.12,362.14 756.30,363.54 756.48,361.34 756.67,362.34 756.85,362.91 757.03,363.45 757.21,362.30 757.39,365.92 757.57,366.09 757.75,363.24 757.94,362.00 758.12,362.09 758.30,364.85 758.48,367.51 758.66,365.00 758.84,363.90 759.02,366.18 759.21,365.58 759.39,366.17 759.57,367.00 759.75,363.80 759.93,366.24 760.11,362.46 760.29,366.75 760.48,368.64 760.66,366.72 760.84,367.00 761.02,367.20 761.20,366.81 761.38,367.23 761.57,363.76 761.75,369.75 761.93,369.35 762.11,366.60 762.29,365.28 762.47,366.62 762.65,366.99 762.84,366.01 763.02,367.02 763.20,367.20 763.38,366.53 763.56,370.66 763.74,367.47 763.92,368.57 764.11,367.00 764.29,367.99 764.47,366.66 764.65,367.11 764.83,367.66 765.01,369.19 765.20,367.64 765.38,370.66 765.56,367.23 765.74,367.13 765.92,368.13 766.10,367.34 766.28,370.49 766.47,369.16 766.65,369.78 766.83,367.58 767.01,367.77 767.19,366.53 767.37,370.56 767.55,370.14 767.74,368.22 767.92,370.52 768.10,370.13 768.28,368.74 768.46,369.46 768.64,370.34 768.82,368.24 769.01,369.69 769.19,373.08 769.37,369.69 769.55,369.67 769.73,370.50 769.91,368.86 770.10,369.39 770.28,368.73 770.46,368.22 770.64,370.00 770.82,369.93 771.00,369.58 771.18,370.60 771.37,368.72 771.55,371.37 771.73,372.27 771.91,369.57 772.09,370.71 772.27,372.76 772.45,368.93 772.64,369.32 772.82,372.66 773.00,372.99 773.18,369.79 773.36,370.53 773.54,369.90 773.73,371.92 773.91,370.47 774.09,369.13 774.27,370.36 774.45,370.82 774.63,370.37 774.81,370.66 775.00,371.13 775.18,370.19 775.36,369.93 775.54,370.65 775.72,370.18 775.90,371.70 776.08,371.25 776.27,374.02 776.45,369.96 776.63,370.67 776.81,372.37 776.99,371.03 777.17,372.39 777.35,370.73 777.54,366.81 777.72,370.82 777.90,371.63 778.08,370.99 778.26,370.22 778.44,370.95 778.63,369.41 778.81,373.60 778.99,368.75 779.17,370.16 779.35,370.13 779.53,368.41 779.71,368.97 779.90,372.21 780.08,372.63 780.26,369.46 780.44,370.93 780.62,371.59 780.80,369.23 780.98,370.43 781.17,369.63 781.35,370.72 781.53,370.87 781.71,370.08 781.89,369.38 782.07,367.29 782.26,371.66 782.44,370.98 782.62,370.91 782.80,369.50 782.98,370.73 783.16,369.64 783.34,368.15 783.53,369.70 783.71,368.32 783.89,370.01 784.07,373.43 784.25,369.78 784.43,369.49 784.61,370.33 784.80,370.05 784.98,367.83 785.16,369.11 785.34,371.55 785.52,370.70 785.70,368.54 785.88,367.76 786.07,370.84 786.25,369.60 786.43,368.95 786.61,367.99 786.79,367.34 786.97,365.31 787.16,369.71 787.34,370.64 787.52,368.85 787.70,366.33 787.88,369.53 788.06,369.84 788.24,367.62 788.43,367.71 788.61,366.39 788.79,368.84 788.97,363.56 789.15,366.49 789.33,366.40 789.51,368.83 789.70,366.74 789.88,363.26 790.06,367.62 790.24,364.34 790.42,365.74 790.60,363.34 790.79,366.44 790.97,365.13 791.15,368.80 791.33,366.68 791.51,366.83 791.69,366.39 791.87,366.99 792.06,368.46 792.24,365.53 792.42,365.65 792.60,366.25 792.78,364.56 792.96,367.09 793.14,364.90 793.33,365.00 793.51,367.55 793.69,365.12 793.87,366.55 794.05,365.60 794.23,366.81 794.41,364.78 794.60,365.16 794.78,369.41 794.96,368.67 795.14,367.73 795.32,366.19 795.50,364.12 795.69,365.03 795.87,367.04 796.05,368.04 796.23,364.89 796.41,365.38 796.59,363.55 796.77,363.24 796.96,364.49 797.14,362.19 797.32,364.02 797.50,363.38 797.68,365.21 797.86,364.03 798.04,361.87 798.23,366.95 798.41,366.00 798.59,365.30 798.77,362.91 798.95,363.96 799.13,364.85 799.32,362.73 799.50,363.88 799.68,363.51 799.86,364.98 800.04,366.44 800.22,362.52 800.40,363.73 800.59,361.25 800.77,359.09 800.95,361.68 801.13,364.29 801.31,361.97 801.49,363.06 801.67,361.63 801.86,361.04 802.04,362.44 802.22,360.90 802.40,361.59 802.58,361.02 802.76,360.79 802.94,361.70 803.13,360.39 803.31,358.83 803.49,362.54 803.67,361.87 803.85,361.70 804.03,364.04 804.22,362.35 804.40,359.53 804.58,360.18 804.76,360.97 804.94,360.78 805.12,358.55 805.30,362.32 805.49,357.84 805.67,360.84 805.85,360.56 806.03,361.22 806.21,359.22 806.39,360.43 806.57,359.36 806.76,360.88 806.94,357.91 807.12,357.01 807.30,359.97 807.48,360.46 807.66,360.97 807.84,357.98 808.03,360.68 808.21,360.74 808.39,358.97 808.57,356.44 808.75,358.02 808.93,358.87 809.12,356.02 809.30,359.95 809.48,358.67 809.66,355.46 809.84,355.49 810.02,356.11 810.20,356.04 810.39,357.07 810.57,357.34 810.75,354.05 810.93,357.87 811.11,355.30 811.29,356.95 811.47,360.72 811.66,355.78 811.84,358.38 812.02,355.66 812.20,355.59 812.38,352.14 812.56,357.25 812.75,358.50 812.93,354.85 813.11,354.84 813.29,355.69 813.47,356.68 813.65,354.56 813.83,353.85 814.02,355.75 814.20,353.40 814.38,354.71 814.56,354.99 814.74,356.25 814.92,355.67 815.10,353.61 815.29,351.92 815.47,351.61 815.65,354.34 815.83,354.49 816.01,354.94 816.19,355.39 816.37,354.28 816.56,351.61 816.74,351.81 816.92,352.24 817.10,352.37 817.28,355.04 817.46,353.59 817.65,352.25 817.83,352.96 818.01,352.24 818.19,355.96 818.37,350.45 818.55,354.20 818.73,354.84 818.92,353.25 819.10,361.18 819.28,354.33 819.46,350.99 819.64,354.63 819.82,352.02 820.00,356.44 820.19,355.66 820.37,358.15 820.55,351.72 820.73,356.12 820.91,352.94 821.09,355.10 821.28,352.81 821.46,354.80 821.64,354.61 821.82,353.21 822.00,355.93 822.18,356.42 822.36,349.53 822.55,353.70 822.73,353.24 822.91,354.06 823.09,353.75 823.27,354.27 823.45,353.36 823.63,357.23 823.82,359.51 824.00,355.63 824.18,352.67 824.36,356.06 824.54,356.64 824.72,351.97 824.90,352.62 825.09,355.13 825.27,352.99 825.45,352.99 825.63,356.46 825.81,352.61 825.99,353.02 826.18,353.06 826.36,352.58 826.54,357.73 826.72,354.43 826.90,352.02 827.08,352.74 827.26,356.35 827.45,353.02 827.63,355.21 827.81,353.91 827.99,355.47 828.17,351.34 828.35,351.57 828.53,353.27 828.72,353.36 828.90,354.50 829.08,355.32 829.26,353.02 829.44,352.91 829.62,354.27 829.81,355.74 829.99,356.19 830.17,352.94 830.35,353.11 830.53,354.63 830.71,354.34 830.89,357.24 831.08,355.94 831.26,356.69 831.44,353.39 831.62,354.57 831.80,354.46 831.98,355.94 832.16,354.51 832.35,357.01 832.53,351.00 832.71,354.58 832.89,354.21 833.07,353.98 833.25,355.91 833.43,352.65 833.62,354.53 833.80,354.81 833.98,353.33 834.16,355.80 834.34,353.20 834.52,351.65 834.71,355.15 834.89,353.86 835.07,356.30 835.25,354.25 835.43,354.25 835.61,356.86 835.79,352.43 835.98,349.91 836.16,357.23 836.34,354.07 836.52,355.83 836.70,355.66 836.88,354.65 837.06,355.33 837.25,356.02 837.43,355.24 837.61,356.22 837.79,355.18 837.97,356.60 838.15,354.24 838.34,353.40 838.52,355.69 838.70,356.01 838.88,353.20 839.06,357.41 839.24,355.44 839.42,356.91 839.61,356.37 839.79,356.71 839.97,355.61 840.15,351.83 840.33,356.46 840.51,355.39 840.69,353.71 840.88,354.52 841.06,353.97 841.24,355.42 841.42,355.63 841.60,355.83 841.78,355.62 841.96,357.68 842.15,360.87 842.33,356.89 842.51,355.38 842.69,356.63 842.87,354.33 843.05,354.67 843.24,355.86 843.42,356.86 843.60,355.51 843.78,356.93 843.96,356.42 844.14,356.71 844.32,356.84 844.51,355.15 844.69,356.51 844.87,355.05 845.05,355.89 845.23,355.90 845.41,355.41 845.59,361.01 845.78,356.58 845.96,355.44 846.14,354.38 846.32,355.02 846.50,349.96 846.68,354.27 846.86,355.56 847.05,358.23 847.23,356.08 847.41,355.83 847.59,355.43 847.77,354.61 847.95,357.41 848.14,354.78 848.32,355.68 848.50,356.70 848.68,357.60 848.86,354.59 849.04,355.49 849.22,357.05 849.41,354.02 849.59,354.11 849.77,356.82 849.95,352.48 850.13,353.46 850.31,351.62 850.49,353.96 850.68,353.77 850.86,351.26 851.04,350.50 851.22,353.17 851.40,357.59 851.58,351.18 851.77,351.52 851.95,349.44 852.13,352.71 852.31,349.90 852.49,353.42 852.67,349.39 852.85,350.25 853.04,349.02 853.22,349.41 853.40,349.36 853.58,346.18 853.76,345.83 853.94,348.21 854.12,350.18 854.31,349.69 854.49,345.95 854.67,347.51 854.85,348.64 855.03,348.10 855.21,344.76 855.39,346.41 855.58,347.33 855.76,342.70 855.94,345.27 856.12,347.69 856.30,346.66 856.48,344.51 856.67,345.90 856.85,345.14 857.03,340.70 857.21,337.38 857.39,341.02 857.57,342.13 857.75,342.07 857.94,343.59 858.12,343.88 858.30,341.29 858.48,340.99 858.66,338.33 858.84,339.42 859.02,339.84 859.21,338.69 859.39,339.55 859.57,335.45 859.75,341.03 859.93,336.24 860.11,336.83 860.30,340.22 860.48,337.29 860.66,331.21 860.84,338.12 861.02,335.69 861.20,336.63 861.38,333.71 861.57,335.89 861.75,336.96 861.93,335.10 862.11,334.98 862.29,334.97 862.47,335.69 862.65,337.27 862.84,334.15 863.02,337.61 863.20,334.96 863.38,332.93 863.56,330.73 863.74,330.75 863.92,335.88 864.11,330.40 864.29,335.12 864.47,330.31 864.65,330.39 864.83,328.33 865.01,329.10 865.20,326.98 865.38,329.17 865.56,328.35 865.74,326.56 865.92,329.01 866.10,328.27 866.28,327.09 866.47,331.00 866.65,327.32 866.83,328.42 867.01,322.80 867.19,324.54 867.37,324.45 867.55,320.30 867.74,324.36 867.92,325.18 868.10,323.29 868.28,323.04 868.46,323.52 868.64,321.62 868.83,323.42 869.01,324.66 869.19,319.86 869.37,322.91 869.55,317.93 869.73,318.79 869.91,320.05 870.10,316.33 870.28,317.86 870.46,315.63 870.64,318.19 870.82,318.06 871.00,315.61 871.18,317.88 871.37,313.46 871.55,315.09 871.73,321.91 871.91,314.72 872.09,314.19 872.27,317.21 872.45,313.98 872.64,313.56 872.82,315.68 873.00,311.84 873.18,312.12 873.36,313.24 873.54,311.93 873.73,310.99 873.91,309.20 874.09,309.60 874.27,310.08 874.45,310.09 874.63,309.71 874.81,306.76 875.00,306.89 875.18,308.62 875.36,304.69 875.54,305.53 875.72,308.16 875.90,304.69 876.08,304.97 876.27,304.19 876.45,303.59 876.63,304.61 876.81,304.84 876.99,305.91 877.17,301.87 877.36,302.01 877.54,306.90 877.72,300.91 877.90,300.22 878.08,300.20 878.26,300.71 878.44,298.58 878.63,301.00 878.81,302.17 878.99,296.36 879.17,302.05 879.35,297.59 879.53,293.76 879.71,298.37 879.90,295.43 880.08,297.36 880.26,297.35 880.44,299.42 880.62,294.70 880.80,297.33 880.98,294.52 881.17,297.15 881.35,295.17 881.53,294.94 881.71,292.41 881.89,292.84 882.07,295.74 882.26,290.83 882.44,293.19 882.62,293.91 882.80,292.98 882.98,289.15 883.16,294.58 883.34,291.97 883.53,293.37 883.71,290.96 883.89,291.68 884.07,293.24 884.25,291.60 884.43,290.70 884.61,290.97 884.80,290.31 884.98,287.46 885.16,290.33 885.34,290.35 885.52,289.08 885.70,290.78 885.88,290.63 886.07,290.61 886.25,290.82 886.43,291.85 886.61,289.48 886.79,298.29 886.97,290.36 887.16,288.31 887.34,287.27 887.52,287.00 887.70,291.86 887.88,290.37 888.06,288.94 888.24,294.28 888.43,290.22 888.61,288.72 888.79,289.73 888.97,292.92 889.15,288.18 889.33,291.41 889.51,289.82 889.70,292.60 889.88,290.93 890.06,289.93 890.24,289.77 890.42,289.78 890.60,290.56 890.79,292.98 890.97,293.97 891.15,287.86 891.33,294.53 891.51,294.59 891.69,291.47 891.87,292.58 892.06,290.32 892.24,294.38 892.42,292.28 892.60,287.00 892.78,295.66 892.96,295.03 893.14,296.95 893.33,295.89 893.51,296.35 893.69,294.77 893.87,293.68 894.05,295.82 894.23,293.27 894.41,298.93 894.60,296.26 894.78,298.61 894.96,295.38 895.14,297.73 895.32,301.90 895.50,299.43 895.69,301.47 895.87,300.93 896.05,299.21 896.23,296.01 896.41,300.28 896.59,300.82 896.77,300.60 896.96,302.71 897.14,307.24 897.32,300.00 897.50,302.54 897.68,303.46 897.86,303.12 898.04,302.69 898.23,304.54 898.41,302.93 898.59,305.60 898.77,302.37 898.95,307.59 899.13,308.04 899.32,310.05 899.50,311.10 899.68,312.96 899.86,311.67 900.04,311.03 900.22,309.15 900.40,313.62 900.59,313.38 900.77,313.56 900.95,313.60 901.13,319.93 901.31,315.25 901.49,310.00 901.67,313.50 901.86,316.69 902.04,315.86 902.22,314.89 902.40,317.33 902.58,316.65 902.76,317.46 902.94,319.76 903.13,318.82 903.31,323.56 903.49,320.51 903.67,320.03 903.85,322.49 904.03,320.85 904.22,322.08 904.40,323.21 904.58,325.04 904.76,326.50 904.94,324.70 905.12,325.35 905.30,324.95 905.49,328.78 905.67,327.10 905.85,329.11 906.03,329.59 906.21,330.56 906.39,325.17 906.57,328.17 906.76,330.42 906.94,330.17 907.12,333.72 907.30,331.93 907.48,331.58 907.66,332.18 907.85,334.68 908.03,333.51 908.21,329.47 908.39,330.86 908.57,334.00 908.75,334.12 908.93,332.01 909.12,335.13 909.30,337.33 909.48,339.83 909.66,337.84 909.84,338.38 910.02,343.01 910.20,339.65 910.39,339.66 910.57,340.76 910.75,343.60 910.93,343.71 911.11,344.18 911.29,340.51 911.47,342.94 911.66,345.49 911.84,342.00 912.02,347.96 912.20,345.08 912.38,343.92 912.56,346.54 912.75,347.54 912.93,349.63 913.11,348.45 913.29,345.81 913.47,347.78 913.65,347.60 913.83,350.82 914.02,347.12 914.20,354.11 914.38,353.02 914.56,354.95 914.74,351.46 914.92,352.26 915.10,348.32 915.29,354.34 915.47,355.16 915.65,362.45 915.83,357.83 916.01,355.59 916.19,357.44 916.38,355.89 916.56,359.60 916.74,356.77 916.92,357.66 917.10,360.30 917.28,357.01 917.46,357.04 917.65,359.14 917.83,358.99 918.01,359.06 918.19,361.22 918.37,359.87 918.55,359.00 918.73,363.21 918.92,361.71 919.10,363.32 919.28,363.13 919.46,364.18 919.64,364.58 919.82,364.17 920.00,365.71 920.19,364.90 920.37,370.90 920.55,364.99 920.73,367.45 920.91,368.11 921.09,365.34 921.28,366.76 921.46,366.86 921.64,367.46 921.82,368.32 922.00,370.27 922.18,367.94 922.36,369.12 922.55,369.37 922.73,371.01 922.91,371.10 923.09,372.56 923.27,369.76 923.45,373.50 923.63,371.89 923.82,373.60 924.00,375.07 924.18,374.19 924.36,377.31 924.54,374.96 924.72,374.46 924.91,375.89 925.09,375.86 925.27,375.27 925.45,375.77 925.63,378.07 925.81,376.09 925.99,377.14 926.18,378.17 926.36,377.00 926.54,377.73 926.72,376.10 926.90,377.14 927.08,378.37 927.26,374.41 927.45,376.94 927.63,383.12 927.81,381.30 927.99,381.15 928.17,378.49 928.35,382.18 928.53,380.19 928.72,380.82 928.90,379.04 929.08,381.77 929.26,380.72 929.44,381.78 929.62,378.63 929.81,380.99 929.99,380.84 930.17,382.65 930.35,382.68 930.53,381.60 930.71,379.34 930.89,383.45 931.08,382.63 931.26,384.93 931.44,380.16 931.62,386.79 931.80,383.37 931.98,383.73 932.16,385.83 932.35,386.66 932.53,385.26 932.71,383.55 932.89,387.99 933.07,386.82 933.25,390.25 933.43,387.19 933.62,389.44 933.80,387.90 933.98,387.43 934.16,390.34 934.34,385.84 934.52,386.46 934.71,385.97 934.89,388.16 935.07,388.88 935.25,386.76 935.43,386.19 935.61,389.25 935.79,388.77 935.98,389.05 936.16,386.75 936.34,389.15 936.52,391.61 936.70,387.54 936.88,387.67 937.06,388.69 937.25,388.13 937.43,389.40 937.61,392.29 937.79,389.06 937.97,390.57 938.15,393.05 938.34,389.18 938.52,390.58 938.70,394.93 938.88,389.32 939.06,390.89 939.24,391.64 939.42,391.65 939.61,390.55 939.79,389.98 939.97,390.08 940.15,389.56 940.33,392.85 940.51,388.35 940.69,387.17 940.88,391.45 941.06,390.96 941.24,391.27 941.42,389.91 941.60,394.56 941.78,390.81 941.96,393.14 942.15,392.55 942.33,391.99 942.51,391.81 942.69,392.93 942.87,392.28 943.05,389.97 943.24,391.98 943.42,390.05 943.60,393.03 943.78,396.88 943.96,393.00 944.14,392.88 944.32,392.97 944.51,395.30 944.69,396.17 944.87,394.29 945.05,393.45 945.23,394.05 945.41,391.88 945.59,392.58 945.78,393.13 945.96,394.20 946.14,396.56 946.32,393.05 946.50,394.35 946.68,393.51 946.87,391.57 947.05,394.05 947.23,391.07 947.41,395.07 947.59,395.42 947.77,396.96 947.95,394.01 948.14,398.28 948.32,394.22 948.50,393.98 948.68,394.04 948.86,394.55 949.04,393.68 949.22,394.24 949.41,394.73 949.59,394.57 949.77,395.47 949.95,395.28 950.13,393.53 950.31,398.01 950.49,393.81 950.68,393.36 950.86,397.10 951.04,397.64 951.22,396.16 951.40,395.06 951.58,396.50 951.77,393.98 951.95,395.68 952.13,396.66 952.31,394.29 952.49,393.91 952.67,395.30 952.85,395.64 953.04,397.02 953.22,393.11 953.40,393.32 953.58,394.76 953.76,397.62 953.94,396.35 954.12,395.26 954.31,397.17 954.49,396.36 954.67,396.98 954.85,395.10 955.03,396.93 955.21,393.58 955.40,393.47 955.58,393.16 955.76,397.88 955.94,393.40 956.12,394.67 956.30,393.91 956.48,395.16 956.67,394.18 956.85,395.05 957.03,395.44 957.21,395.99 957.39,397.07 957.57,394.82 957.75,396.80 957.94,397.48 958.12,395.55 958.30,395.79 958.48,396.39 958.66,396.52 958.84,398.60 959.02,398.07 959.21,397.15 959.39,396.00 959.57,395.81 959.75,398.18 959.93,397.05 960.11,396.23 960.30,394.84 960.48,397.52 960.66,398.42 960.84,398.60 961.02,396.68 961.20,396.12 961.38,394.86 961.57,397.24 961.75,395.76 961.93,396.51 962.11,396.39 962.29,398.60 962.47,393.70 962.65,397.39 962.84,394.63 963.02,396.04 963.20,397.35 963.38,397.84 963.56,395.99 963.74,397.58 963.93,398.11 964.11,398.60 964.29,398.47 964.47,398.60 964.65,395.35 964.83,397.00 965.01,395.69 965.20,395.94 965.38,397.11 965.56,397.37 965.74,398.19 965.92,396.48 966.10,396.54 966.28,396.57 966.47,396.85 966.65,396.38 966.83,398.44 967.01,398.60 967.19,398.07 967.37,398.60 967.55,396.98 967.74,393.62 967.92,397.81 968.10,395.57 968.28,394.93 968.46,397.70 968.64,396.42 968.83,396.05 969.01,394.79 969.19,396.01 969.37,398.30 969.55,397.94 969.73,398.60 969.91,397.53 970.10,396.57 970.28,396.14 970.46,397.94 970.64,395.96 970.82,398.60 971.00,397.45 971.18,395.80 971.37,397.35 971.55,397.41 971.73,395.39 971.91,394.97 972.09,396.89 972.27,398.60 972.45,396.27 972.64,394.21 972.82,398.29 973.00,391.94 973.18,397.56 973.36,395.06 973.54,395.07 973.73,395.10 973.91,397.40 974.09,394.32 974.27,398.16 974.45,396.04 974.63,396.14 974.81,396.00 975.00,398.50 975.18,398.26 975.36,398.60 975.54,393.54 975.72,396.62 975.90,398.34 976.08,396.60 976.27,397.12 976.45,394.73 976.63,397.84 976.81,394.75 976.99,398.60 977.17,397.23 977.36,396.49 977.54,397.73 977.72,395.45 977.90,396.68 978.08,397.66 978.26,397.42 978.44,395.24 978.63,396.95 978.81,397.91 978.99,398.60 979.17,398.60 979.35,398.01 979.53,395.60 979.71,395.16 979.90,398.01 980.08,394.74 980.26,397.19 980.44,397.29 980.62,396.97 980.80,398.60 980.98,395.07 981.17,397.19 981.35,396.70 981.53,398.60 981.71,398.60 981.89,396.65 982.07,395.56 982.26,398.01 982.44,398.34 982.62,397.63 982.80,398.10 982.98,398.35 983.16,398.60 983.34,394.19 983.53,398.25 983.71,396.59 983.89,398.60 984.07,396.45 984.25,395.47 984.43,397.65 984.61,395.69 984.80,396.73 984.98,394.27 985.16,398.12 985.34,397.90 985.52,398.60 985.70,397.65 985.89,396.36 986.07,398.39 986.25,395.28 986.43,398.25 986.61,397.05 986.79,395.88 986.97,398.13 987.16,396.95 987.34,397.36 987.52,398.59 987.70,396.65" fill="none" stroke="#c57bf0" stroke-width="0.95" stroke-linejoin="round"/>
<line x1="794.2" y1="398.2" x2="794.2" y2="395.4" stroke="#222" stroke-width="2"/>
<line x1="891.0" y1="398.2" x2="891.0" y2="395.4" stroke="#222" stroke-width="2"/>
<line x1="697.5" y1="385.8" x2="700.1" y2="385.8" stroke="#262626" stroke-width="1.3"/>
<line x1="697.5" y1="373.4" x2="700.1" y2="373.4" stroke="#262626" stroke-width="1.3"/>
<line x1="697.5" y1="361.0" x2="700.1" y2="361.0" stroke="#262626" stroke-width="1.3"/>
<line x1="697.5" y1="348.6" x2="701.8" y2="348.6" stroke="#262626" stroke-width="1.3"/>
<line x1="697.5" y1="336.2" x2="700.1" y2="336.2" stroke="#262626" stroke-width="1.3"/>
<line x1="697.5" y1="323.8" x2="700.1" y2="323.8" stroke="#262626" stroke-width="1.3"/>
<line x1="697.5" y1="299.0" x2="701.8" y2="299.0" stroke="#262626" stroke-width="1.3"/>
<text x="693.0" y="306.8" font-size="20" fill="#000" text-anchor="end" font-weight="bold" font-style="normal" >400</text>
<text x="693.0" y="359.4" font-size="20" fill="#000" text-anchor="end" font-weight="bold" font-style="normal" >200</text>
<text x="693.0" y="404.4" font-size="20" fill="#000" text-anchor="end" font-weight="bold" font-style="normal" >0</text>
<text x="699.3" y="312.7" font-size="25" fill="#c57bf0" text-anchor="start" font-weight="bold" font-style="normal" letter-spacing="0.2"><tspan font-style="italic">r</tspan> = 440 nm</text>
<rect x="697.5" y="404.0" width="290.20000000000005" height="112.10000000000002" fill="none" stroke="#2e2e2e" stroke-width="1.7"/>
<polyline points="697.50,513.52 697.68,513.16 697.86,512.79 698.04,512.43 698.23,512.07 698.41,511.70 698.59,511.34 698.77,510.98 698.95,510.84 699.13,510.85 699.31,510.08 699.50,509.37 699.68,509.23 699.86,509.15 700.04,509.34 700.22,508.79 700.40,508.95 700.59,508.03 700.77,508.96 700.95,509.10 701.13,508.78 701.31,509.00 701.49,508.96 701.67,509.18 701.86,509.92 702.04,508.08 702.22,509.58 702.40,509.28 702.58,507.74 702.76,507.82 702.94,508.20 703.13,508.33 703.31,508.11 703.49,507.92 703.67,507.99 703.85,508.41 704.03,507.66 704.22,507.94 704.40,507.51 704.58,507.48 704.76,507.72 704.94,506.45 705.12,507.79 705.30,507.59 705.49,505.83 705.67,507.00 705.85,507.03 706.03,507.47 706.21,508.01 706.39,507.13 706.57,508.40 706.76,506.45 706.94,506.80 707.12,507.61 707.30,507.29 707.48,506.25 707.66,506.95 707.84,506.01 708.03,506.32 708.21,506.63 708.39,505.45 708.57,506.28 708.75,506.26 708.93,506.87 709.12,505.35 709.30,506.35 709.48,506.89 709.66,506.13 709.84,506.12 710.02,505.90 710.20,505.09 710.39,505.80 710.57,505.47 710.75,505.82 710.93,505.78 711.11,505.31 711.29,507.50 711.47,507.57 711.66,505.73 711.84,506.25 712.02,506.27 712.20,505.17 712.38,506.03 712.56,505.57 712.75,505.24 712.93,505.74 713.11,504.79 713.29,505.26 713.47,505.36 713.65,505.23 713.83,504.16 714.02,504.94 714.20,504.47 714.38,505.12 714.56,504.88 714.74,505.36 714.92,504.39 715.10,504.75 715.29,504.83 715.47,503.82 715.65,504.79 715.83,504.32 716.01,504.01 716.19,504.80 716.37,503.92 716.56,504.21 716.74,503.77 716.92,503.11 717.10,504.85 717.28,504.69 717.46,503.60 717.65,505.78 717.83,504.58 718.01,504.22 718.19,503.95 718.37,504.03 718.55,504.17 718.73,504.00 718.92,503.50 719.10,504.24 719.28,503.49 719.46,505.06 719.64,503.44 719.82,503.16 720.00,503.73 720.19,503.86 720.37,502.83 720.55,502.25 720.73,503.87 720.91,503.00 721.09,502.82 721.27,503.67 721.46,502.86 721.64,502.59 721.82,501.93 722.00,502.15 722.18,501.50 722.36,501.86 722.55,503.27 722.73,502.64 722.91,503.60 723.09,503.02 723.27,503.22 723.45,502.23 723.63,501.43 723.82,503.30 724.00,502.20 724.18,502.71 724.36,501.70 724.54,502.04 724.72,502.74 724.90,502.64 725.09,503.19 725.27,503.27 725.45,502.01 725.63,501.69 725.81,501.94 725.99,502.56 726.18,501.94 726.36,504.23 726.54,503.17 726.72,501.50 726.90,501.33 727.08,501.74 727.26,501.65 727.45,502.14 727.63,500.90 727.81,500.70 727.99,502.20 728.17,501.11 728.35,502.92 728.53,501.13 728.72,500.95 728.90,501.69 729.08,501.48 729.26,502.00 729.44,501.82 729.62,499.68 729.80,501.02 729.99,500.96 730.17,501.65 730.35,501.92 730.53,501.05 730.71,502.01 730.89,501.63 731.08,501.16 731.26,500.41 731.44,502.03 731.62,501.07 731.80,501.50 731.98,500.83 732.16,500.69 732.35,501.44 732.53,499.83 732.71,501.77 732.89,501.35 733.07,501.05 733.25,500.26 733.43,500.64 733.62,500.29 733.80,500.20 733.98,501.22 734.16,501.29 734.34,500.31 734.52,500.73 734.71,500.47 734.89,499.80 735.07,500.26 735.25,500.26 735.43,500.41 735.61,500.63 735.79,499.44 735.98,500.27 736.16,499.62 736.34,499.14 736.52,500.21 736.70,500.07 736.88,500.80 737.06,501.26 737.25,500.50 737.43,500.30 737.61,501.01 737.79,499.62 737.97,499.96 738.15,499.93 738.33,500.81 738.52,499.85 738.70,498.95 738.88,501.26 739.06,499.59 739.24,500.25 739.42,499.89 739.61,500.95 739.79,499.86 739.97,500.35 740.15,500.25 740.33,500.35 740.51,500.12 740.69,500.19 740.88,499.98 741.06,499.22 741.24,500.22 741.42,498.93 741.60,500.21 741.78,499.75 741.96,499.51 742.15,499.87 742.33,500.11 742.51,501.69 742.69,498.94 742.87,500.15 743.05,500.22 743.24,500.83 743.42,499.66 743.60,500.26 743.78,499.73 743.96,498.99 744.14,498.88 744.32,498.99 744.51,499.22 744.69,499.12 744.87,499.49 745.05,499.15 745.23,499.58 745.41,500.44 745.59,498.18 745.78,499.94 745.96,500.15 746.14,499.72 746.32,498.39 746.50,499.56 746.68,500.11 746.86,499.97 747.05,498.82 747.23,500.51 747.41,500.15 747.59,500.97 747.77,499.42 747.95,499.89 748.14,499.60 748.32,499.53 748.50,499.98 748.68,499.42 748.86,499.88 749.04,499.85 749.22,499.15 749.41,499.48 749.59,500.62 749.77,501.55 749.95,499.07 750.13,499.97 750.31,500.01 750.49,499.47 750.68,499.34 750.86,499.97 751.04,499.34 751.22,500.97 751.40,501.21 751.58,500.95 751.77,499.62 751.95,500.32 752.13,499.99 752.31,499.47 752.49,500.72 752.67,498.54 752.85,499.77 753.04,500.69 753.22,499.06 753.40,498.65 753.58,499.79 753.76,500.25 753.94,499.18 754.12,499.35 754.31,500.70 754.49,499.91 754.67,499.73 754.85,500.74 755.03,500.31 755.21,500.86 755.39,499.96 755.58,498.92 755.76,498.92 755.94,499.93 756.12,499.87 756.30,500.18 756.48,499.85 756.67,498.55 756.85,499.84 757.03,500.29 757.21,500.30 757.39,499.90 757.57,499.58 757.75,500.33 757.94,499.61 758.12,499.54 758.30,500.16 758.48,499.80 758.66,499.12 758.84,500.65 759.02,500.19 759.21,499.67 759.39,500.00 759.57,500.59 759.75,500.23 759.93,499.41 760.11,499.98 760.29,500.41 760.48,500.62 760.66,500.39 760.84,500.71 761.02,499.08 761.20,500.11 761.38,499.58 761.57,500.14 761.75,499.82 761.93,499.83 762.11,499.47 762.29,499.14 762.47,499.84 762.65,500.59 762.84,499.53 763.02,499.13 763.20,499.53 763.38,500.09 763.56,499.74 763.74,500.96 763.92,500.59 764.11,499.99 764.29,499.33 764.47,499.63 764.65,500.37 764.83,500.53 765.01,501.27 765.20,500.81 765.38,500.82 765.56,501.07 765.74,499.50 765.92,501.64 766.10,499.21 766.28,499.69 766.47,500.76 766.65,500.08 766.83,500.50 767.01,499.38 767.19,499.90 767.37,499.98 767.55,500.93 767.74,499.58 767.92,500.57 768.10,499.64 768.28,499.28 768.46,500.32 768.64,500.80 768.82,500.26 769.01,499.31 769.19,500.71 769.37,500.06 769.55,500.18 769.73,498.99 769.91,500.63 770.10,500.33 770.28,500.39 770.46,499.94 770.64,500.83 770.82,500.37 771.00,500.83 771.18,499.80 771.37,500.07 771.55,499.76 771.73,501.32 771.91,499.43 772.09,499.76 772.27,498.87 772.45,498.83 772.64,500.17 772.82,499.55 773.00,499.91 773.18,499.56 773.36,499.42 773.54,499.70 773.73,499.89 773.91,498.89 774.09,500.24 774.27,499.45 774.45,500.09 774.63,499.74 774.81,499.48 775.00,499.22 775.18,500.13 775.36,498.75 775.54,499.37 775.72,499.48 775.90,499.65 776.08,498.96 776.27,500.42 776.45,499.52 776.63,498.74 776.81,498.64 776.99,499.59 777.17,499.72 777.35,497.15 777.54,498.78 777.72,499.04 777.90,499.50 778.08,499.12 778.26,499.41 778.44,499.20 778.63,499.77 778.81,499.10 778.99,499.25 779.17,499.36 779.35,499.58 779.53,499.60 779.71,498.91 779.90,499.49 780.08,500.19 780.26,499.43 780.44,499.68 780.62,499.85 780.80,499.31 780.98,499.30 781.17,499.56 781.35,499.38 781.53,498.73 781.71,500.09 781.89,500.07 782.07,500.77 782.26,500.44 782.44,501.42 782.62,500.27 782.80,500.92 782.98,500.56 783.16,501.03 783.34,501.30 783.53,500.31 783.71,502.46 783.89,499.84 784.07,500.70 784.25,501.24 784.43,500.95 784.61,500.96 784.80,500.92 784.98,500.23 785.16,500.58 785.34,501.37 785.52,501.71 785.70,500.88 785.88,500.42 786.07,501.99 786.25,500.84 786.43,501.09 786.61,501.24 786.79,500.65 786.97,501.46 787.16,500.92 787.34,501.75 787.52,501.31 787.70,502.09 787.88,501.93 788.06,501.75 788.24,501.77 788.43,501.99 788.61,502.74 788.79,501.61 788.97,501.60 789.15,500.98 789.33,502.34 789.51,501.86 789.70,501.44 789.88,501.97 790.06,502.79 790.24,502.96 790.42,502.69 790.60,502.33 790.79,503.40 790.97,502.31 791.15,503.51 791.33,502.42 791.51,502.19 791.69,503.27 791.87,502.25 792.06,503.09 792.24,504.20 792.42,502.98 792.60,502.68 792.78,503.37 792.96,502.59 793.14,502.45 793.33,502.85 793.51,502.75 793.69,502.45 793.87,503.05 794.05,502.81 794.23,503.28 794.41,503.74 794.60,503.21 794.78,504.00 794.96,503.62 795.14,503.52 795.32,503.39 795.50,505.09 795.69,503.71 795.87,504.65 796.05,504.09 796.23,502.98 796.41,504.33 796.59,502.47 796.77,503.96 796.96,503.34 797.14,503.48 797.32,504.05 797.50,503.32 797.68,504.98 797.86,503.73 798.04,503.97 798.23,503.63 798.41,504.14 798.59,503.85 798.77,504.02 798.95,503.71 799.13,503.33 799.32,504.60 799.50,503.03 799.68,504.23 799.86,502.62 800.04,504.57 800.22,504.34 800.40,503.78 800.59,504.68 800.77,504.11 800.95,504.66 801.13,504.42 801.31,504.63 801.49,504.44 801.67,503.54 801.86,504.76 802.04,504.22 802.22,504.66 802.40,504.32 802.58,504.32 802.76,504.32 802.94,503.90 803.13,503.46 803.31,504.82 803.49,504.43 803.67,504.01 803.85,503.20 804.03,504.84 804.22,503.44 804.40,503.93 804.58,503.17 804.76,503.59 804.94,504.20 805.12,504.61 805.30,503.96 805.49,503.97 805.67,505.03 805.85,504.11 806.03,504.35 806.21,503.88 806.39,504.62 806.57,504.42 806.76,504.33 806.94,503.85 807.12,504.45 807.30,505.14 807.48,504.83 807.66,503.56 807.84,503.57 808.03,504.16 808.21,503.37 808.39,504.20 808.57,504.00 808.75,504.21 808.93,503.33 809.12,503.76 809.30,504.20 809.48,503.84 809.66,504.10 809.84,502.92 810.02,503.42 810.20,503.51 810.39,504.22 810.57,503.19 810.75,503.32 810.93,504.43 811.11,503.74 811.29,503.46 811.47,503.58 811.66,503.54 811.84,503.37 812.02,503.15 812.20,503.19 812.38,503.48 812.56,503.98 812.75,505.12 812.93,504.22 813.11,503.73 813.29,503.43 813.47,502.45 813.65,503.20 813.83,504.44 814.02,503.32 814.20,503.97 814.38,504.49 814.56,503.78 814.74,503.09 814.92,503.73 815.10,503.28 815.29,503.63 815.47,504.06 815.65,503.62 815.83,502.52 816.01,503.68 816.19,503.04 816.37,502.42 816.56,502.71 816.74,503.36 816.92,503.09 817.10,503.32 817.28,504.11 817.46,503.77 817.65,503.49 817.83,502.29 818.01,503.68 818.19,503.65 818.37,502.91 818.55,502.83 818.73,503.14 818.92,503.72 819.10,504.49 819.28,501.47 819.46,503.27 819.64,502.90 819.82,503.53 820.00,503.49 820.19,503.30 820.37,502.52 820.55,502.62 820.73,501.31 820.91,503.51 821.09,503.34 821.28,503.11 821.46,502.57 821.64,502.30 821.82,503.57 822.00,503.07 822.18,503.73 822.36,503.37 822.55,502.54 822.73,502.86 822.91,502.51 823.09,502.16 823.27,502.41 823.45,501.53 823.63,502.07 823.82,502.43 824.00,502.78 824.18,502.41 824.36,501.95 824.54,502.32 824.72,503.45 824.90,502.69 825.09,502.90 825.27,501.02 825.45,501.94 825.63,503.28 825.81,502.68 825.99,501.86 826.18,502.24 826.36,502.53 826.54,503.43 826.72,501.79 826.90,502.77 827.08,501.72 827.26,501.96 827.45,502.47 827.63,502.27 827.81,501.98 827.99,502.31 828.17,502.25 828.35,502.26 828.53,501.42 828.72,501.52 828.90,503.15 829.08,502.91 829.26,501.68 829.44,501.65 829.62,502.14 829.81,503.36 829.99,500.76 830.17,503.01 830.35,502.00 830.53,502.39 830.71,502.53 830.89,502.43 831.08,502.34 831.26,501.33 831.44,500.80 831.62,501.58 831.80,501.27 831.98,501.17 832.16,501.12 832.35,501.67 832.53,500.63 832.71,501.64 832.89,501.58 833.07,503.27 833.25,501.59 833.43,502.07 833.62,501.25 833.80,501.34 833.98,502.66 834.16,501.50 834.34,501.76 834.52,501.75 834.71,501.31 834.89,501.46 835.07,501.75 835.25,502.47 835.43,501.21 835.61,502.13 835.79,501.73 835.98,501.29 836.16,500.65 836.34,500.99 836.52,501.36 836.70,500.86 836.88,501.02 837.06,500.09 837.25,500.91 837.43,501.03 837.61,501.88 837.79,501.14 837.97,501.87 838.15,502.34 838.34,501.28 838.52,500.48 838.70,500.37 838.88,500.91 839.06,501.32 839.24,501.12 839.42,502.08 839.61,500.30 839.79,500.15 839.97,501.02 840.15,500.68 840.33,500.62 840.51,500.99 840.69,500.05 840.88,501.17 841.06,500.51 841.24,499.70 841.42,500.79 841.60,499.93 841.78,499.61 841.96,499.82 842.15,499.45 842.33,499.83 842.51,499.50 842.69,500.03 842.87,500.77 843.05,500.06 843.24,500.10 843.42,500.89 843.60,499.55 843.78,499.33 843.96,500.54 844.14,500.46 844.32,499.87 844.51,499.82 844.69,498.72 844.87,499.62 845.05,499.03 845.23,500.01 845.41,499.25 845.59,498.78 845.78,499.57 845.96,500.21 846.14,498.57 846.32,498.49 846.50,498.11 846.68,497.69 846.86,498.94 847.05,499.54 847.23,499.26 847.41,498.07 847.59,498.10 847.77,498.40 847.95,496.52 848.14,497.67 848.32,497.42 848.50,497.46 848.68,496.31 848.86,497.39 849.04,495.95 849.22,495.65 849.41,496.31 849.59,495.07 849.77,496.58 849.95,495.43 850.13,495.24 850.31,495.00 850.49,494.14 850.68,493.12 850.86,492.95 851.04,493.36 851.22,493.52 851.40,493.67 851.58,493.07 851.77,493.01 851.95,492.97 852.13,492.21 852.31,491.01 852.49,492.47 852.67,490.77 852.85,491.36 853.04,490.39 853.22,491.67 853.40,490.61 853.58,492.26 853.76,491.34 853.94,490.60 854.12,490.28 854.31,489.83 854.49,490.59 854.67,489.88 854.85,489.64 855.03,489.04 855.21,488.10 855.39,487.14 855.58,488.53 855.76,487.24 855.94,487.21 856.12,486.50 856.30,485.67 856.48,485.57 856.67,486.23 856.85,484.63 857.03,484.56 857.21,484.82 857.39,483.21 857.57,483.24 857.75,483.87 857.94,482.36 858.12,481.44 858.30,481.61 858.48,481.77 858.66,480.40 858.84,480.69 859.02,479.48 859.21,478.70 859.39,479.06 859.57,479.78 859.75,477.48 859.93,477.33 860.11,477.30 860.30,476.05 860.48,475.91 860.66,476.92 860.84,474.48 861.02,474.55 861.20,474.03 861.38,471.66 861.57,472.41 861.75,471.54 861.93,471.63 862.11,470.23 862.29,469.12 862.47,468.11 862.65,466.35 862.84,465.67 863.02,466.45 863.20,464.93 863.38,463.78 863.56,463.14 863.74,462.04 863.92,459.88 864.11,459.39 864.29,457.97 864.47,457.10 864.65,456.67 864.83,455.89 865.01,454.44 865.20,452.98 865.38,451.43 865.56,451.24 865.74,449.57 865.92,448.64 866.10,447.36 866.28,444.36 866.47,443.63 866.65,441.69 866.83,440.38 867.01,440.99 867.19,438.25 867.37,437.80 867.55,435.70 867.74,434.99 867.92,433.24 868.10,432.71 868.28,431.92 868.46,429.08 868.64,427.49 868.83,425.64 869.01,424.42 869.19,422.42 869.37,421.27 869.55,420.33 869.73,419.20 869.91,417.86 870.10,415.55 870.28,415.70 870.46,414.93 870.64,412.71 870.82,412.44 871.00,411.41 871.18,410.42 871.37,410.95 871.55,412.23 871.73,410.11 871.91,412.96 872.09,410.85 872.27,412.37 872.45,413.62 872.64,413.64 872.82,415.78 873.00,417.44 873.18,418.10 873.36,417.98 873.54,419.40 873.73,421.56 873.91,420.78 874.09,423.35 874.27,423.34 874.45,425.23 874.63,426.69 874.81,427.81 875.00,429.93 875.18,430.46 875.36,432.08 875.54,434.13 875.72,434.37 875.90,435.73 876.08,437.42 876.27,439.40 876.45,441.03 876.63,441.92 876.81,443.42 876.99,443.73 877.17,446.02 877.36,447.39 877.54,448.52 877.72,449.75 877.90,449.96 878.08,451.89 878.26,453.10 878.44,452.41 878.63,455.24 878.81,457.03 878.99,455.74 879.17,456.75 879.35,457.47 879.53,460.04 879.71,460.56 879.90,461.97 880.08,462.07 880.26,462.57 880.44,463.79 880.62,463.79 880.80,464.27 880.98,465.62 881.17,465.58 881.35,466.90 881.53,467.33 881.71,466.80 881.89,467.51 882.07,470.55 882.26,469.96 882.44,470.94 882.62,470.83 882.80,471.42 882.98,471.83 883.16,473.84 883.34,473.09 883.53,474.30 883.71,475.18 883.89,475.30 884.07,476.06 884.25,476.07 884.43,477.44 884.61,476.74 884.80,478.81 884.98,479.25 885.16,479.96 885.34,479.87 885.52,479.18 885.70,480.72 885.88,481.74 886.07,482.60 886.25,482.22 886.43,483.55 886.61,480.87 886.79,483.51 886.97,483.97 887.16,483.52 887.34,485.20 887.52,484.93 887.70,485.18 887.88,485.34 888.06,485.31 888.24,485.77 888.43,486.13 888.61,485.38 888.79,488.01 888.97,486.08 889.15,487.82 889.33,485.87 889.51,486.99 889.70,488.48 889.88,488.60 890.06,488.02 890.24,489.01 890.42,488.61 890.60,487.22 890.79,488.80 890.97,488.42 891.15,489.28 891.33,489.19 891.51,489.25 891.69,488.84 891.87,488.41 892.06,489.33 892.24,491.24 892.42,490.52 892.60,489.63 892.78,490.18 892.96,490.49 893.14,490.13 893.33,491.04 893.51,491.55 893.69,491.62 893.87,491.25 894.05,491.22 894.23,490.98 894.41,491.53 894.60,492.25 894.78,491.62 894.96,492.59 895.14,492.05 895.32,492.67 895.50,492.75 895.69,493.07 895.87,492.82 896.05,493.68 896.23,493.53 896.41,493.20 896.59,492.88 896.77,494.21 896.96,492.67 897.14,493.55 897.32,493.63 897.50,493.46 897.68,493.59 897.86,494.31 898.04,494.96 898.23,494.85 898.41,494.02 898.59,494.79 898.77,494.03 898.95,494.33 899.13,495.11 899.32,493.90 899.50,497.22 899.68,494.77 899.86,494.75 900.04,495.56 900.22,496.06 900.40,495.99 900.59,496.43 900.77,495.63 900.95,495.96 901.13,496.69 901.31,496.90 901.49,495.51 901.67,496.28 901.86,496.65 902.04,495.83 902.22,496.33 902.40,497.26 902.58,496.37 902.76,497.43 902.94,497.01 903.13,496.37 903.31,496.67 903.49,497.71 903.67,496.45 903.85,497.05 904.03,497.13 904.22,497.37 904.40,497.71 904.58,497.71 904.76,496.91 904.94,497.27 905.12,498.14 905.30,497.93 905.49,498.48 905.67,498.23 905.85,498.96 906.03,499.05 906.21,498.57 906.39,496.75 906.57,498.24 906.76,497.88 906.94,498.64 907.12,497.13 907.30,497.99 907.48,498.80 907.66,499.23 907.85,498.87 908.03,499.48 908.21,499.20 908.39,499.03 908.57,500.16 908.75,498.70 908.93,498.94 909.12,499.54 909.30,499.39 909.48,499.61 909.66,500.04 909.84,499.39 910.02,499.62 910.20,500.05 910.39,500.88 910.57,500.18 910.75,499.13 910.93,499.61 911.11,500.34 911.29,498.88 911.47,500.14 911.66,500.07 911.84,500.15 912.02,501.14 912.20,499.97 912.38,499.46 912.56,500.36 912.75,499.21 912.93,500.98 913.11,500.35 913.29,500.80 913.47,500.20 913.65,500.85 913.83,500.62 914.02,501.50 914.20,500.87 914.38,500.55 914.56,501.36 914.74,502.44 914.92,502.60 915.10,501.79 915.29,501.30 915.47,502.27 915.65,501.44 915.83,501.34 916.01,501.98 916.19,501.08 916.38,502.30 916.56,501.48 916.74,500.54 916.92,502.85 917.10,501.79 917.28,501.04 917.46,501.61 917.65,502.08 917.83,501.84 918.01,503.15 918.19,501.99 918.37,501.56 918.55,502.07 918.73,501.90 918.92,502.49 919.10,500.89 919.28,502.18 919.46,501.74 919.64,501.95 919.82,501.97 920.00,501.64 920.19,501.69 920.37,502.18 920.55,502.35 920.73,500.99 920.91,503.19 921.09,501.84 921.28,503.42 921.46,502.75 921.64,501.95 921.82,502.24 922.00,502.60 922.18,502.10 922.36,502.22 922.55,502.85 922.73,502.77 922.91,503.58 923.09,502.34 923.27,501.11 923.45,501.82 923.63,502.07 923.82,502.63 924.00,503.48 924.18,502.57 924.36,502.16 924.54,502.86 924.72,503.09 924.91,502.53 925.09,502.06 925.27,503.48 925.45,501.90 925.63,503.12 925.81,503.08 925.99,503.81 926.18,502.60 926.36,504.94 926.54,503.33 926.72,503.15 926.90,502.93 927.08,502.98 927.26,504.00 927.45,502.85 927.63,503.61 927.81,504.73 927.99,501.74 928.17,503.27 928.35,503.08 928.53,502.65 928.72,503.51 928.90,503.84 929.08,503.07 929.26,502.82 929.44,502.62 929.62,504.39 929.81,502.05 929.99,505.29 930.17,503.29 930.35,503.94 930.53,503.06 930.71,503.17 930.89,503.51 931.08,503.09 931.26,503.23 931.44,503.76 931.62,503.04 931.80,503.93 931.98,504.20 932.16,503.82 932.35,504.61 932.53,503.90 932.71,503.88 932.89,502.92 933.07,501.68 933.25,504.88 933.43,504.82 933.62,503.31 933.80,503.60 933.98,502.66 934.16,502.73 934.34,504.03 934.52,502.50 934.71,504.83 934.89,503.53 935.07,503.40 935.25,503.67 935.43,504.84 935.61,505.01 935.79,503.87 935.98,504.49 936.16,504.39 936.34,503.97 936.52,504.46 936.70,503.21 936.88,503.58 937.06,506.13 937.25,504.15 937.43,504.47 937.61,505.53 937.79,504.37 937.97,504.48 938.15,505.08 938.34,504.47 938.52,503.20 938.70,504.96 938.88,505.67 939.06,504.87 939.24,504.32 939.42,503.33 939.61,504.99 939.79,505.75 939.97,505.19 940.15,505.48 940.33,503.77 940.51,504.34 940.69,506.05 940.88,505.38 941.06,504.97 941.24,505.43 941.42,505.40 941.60,505.44 941.78,504.89 941.96,503.51 942.15,506.81 942.33,505.03 942.51,504.50 942.69,505.21 942.87,505.51 943.05,505.16 943.24,504.79 943.42,504.55 943.60,505.38 943.78,506.64 943.96,505.42 944.14,505.21 944.32,506.85 944.51,508.42 944.69,505.88 944.87,505.37 945.05,507.54 945.23,506.03 945.41,507.97 945.59,507.21 945.78,506.50 945.96,507.81 946.14,507.10 946.32,507.93 946.50,506.74 946.68,508.22 946.87,507.89 947.05,507.65 947.23,508.80 947.41,508.28 947.59,508.41 947.77,507.49 947.95,508.96 948.14,508.63 948.32,508.85 948.50,508.71 948.68,508.24 948.86,508.79 949.04,508.89 949.22,509.16 949.41,509.06 949.59,508.38 949.77,509.06 949.95,508.10 950.13,507.04 950.31,508.93 950.49,507.37 950.68,509.95 950.86,509.39 951.04,508.21 951.22,508.65 951.40,509.64 951.58,508.67 951.77,506.77 951.95,508.07 952.13,510.62 952.31,510.10 952.49,510.46 952.67,509.34 952.85,508.70 953.04,509.15 953.22,507.92 953.40,509.62 953.58,509.65 953.76,508.54 953.94,509.91 954.12,508.94 954.31,509.16 954.49,510.90 954.67,510.29 954.85,510.21 955.03,510.31 955.21,509.83 955.40,510.45 955.58,509.06 955.76,509.30 955.94,509.29 956.12,509.33 956.30,510.64 956.48,509.55 956.67,510.43 956.85,507.98 957.03,511.65 957.21,509.54 957.39,511.52 957.57,510.39 957.75,510.06 957.94,511.17 958.12,510.98 958.30,510.34 958.48,511.37 958.66,512.40 958.84,510.52 959.02,509.61 959.21,509.59 959.39,510.59 959.57,510.75 959.75,510.04 959.93,510.97 960.11,510.50 960.30,513.70 960.48,510.97 960.66,512.05 960.84,511.62 961.02,510.94 961.20,511.10 961.38,510.01 961.57,509.16 961.75,510.24 961.93,509.81 962.11,510.90 962.29,512.54 962.47,512.40 962.65,510.55 962.84,511.11 963.02,511.19 963.20,511.30 963.38,512.32 963.56,511.18 963.74,511.28 963.93,511.10 964.11,511.92 964.29,512.13 964.47,511.24 964.65,512.87 964.83,512.13 965.01,512.14 965.20,510.60 965.38,511.01 965.56,510.64 965.74,511.85 965.92,512.12 966.10,511.55 966.28,511.15 966.47,512.03 966.65,514.09 966.83,511.66 967.01,512.10 967.19,512.84 967.37,512.62 967.55,512.19 967.74,512.25 967.92,512.17 968.10,511.99 968.28,513.12 968.46,511.73 968.64,512.25 968.83,513.02 969.01,512.95 969.19,512.63 969.37,511.40 969.55,511.87 969.73,512.39 969.91,512.12 970.10,512.85 970.28,512.52 970.46,511.65 970.64,512.10 970.82,512.26 971.00,512.26 971.18,512.57 971.37,512.04 971.55,512.60 971.73,512.10 971.91,513.29 972.09,510.95 972.27,512.54 972.45,512.88 972.64,511.91 972.82,511.23 973.00,511.64 973.18,511.86 973.36,512.25 973.54,512.38 973.73,510.20 973.91,512.35 974.09,511.88 974.27,511.69 974.45,511.78 974.63,513.68 974.81,512.41 975.00,513.83 975.18,511.80 975.36,511.95 975.54,512.68 975.72,513.31 975.90,513.13 976.08,513.40 976.27,512.41 976.45,512.77 976.63,511.75 976.81,513.45 976.99,513.81 977.17,511.78 977.36,513.32 977.54,514.10 977.72,512.37 977.90,511.90 978.08,512.83 978.26,512.77 978.44,512.53 978.63,513.48 978.81,513.04 978.99,512.35 979.17,513.19 979.35,511.76 979.53,513.74 979.71,514.35 979.90,513.30 980.08,513.15 980.26,513.03 980.44,511.89 980.62,511.72 980.80,513.56 980.98,513.25 981.17,513.75 981.35,512.78 981.53,513.49 981.71,513.32 981.89,513.37 982.07,512.73 982.26,513.51 982.44,512.93 982.62,513.83 982.80,511.20 982.98,512.90 983.16,511.64 983.34,511.56 983.53,512.69 983.71,514.10 983.89,512.68 984.07,513.71 984.25,512.32 984.43,513.56 984.61,512.56 984.80,512.66 984.98,514.58 985.16,512.14 985.34,510.74 985.52,513.53 985.70,513.00 985.89,513.88 986.07,513.00 986.25,513.12 986.43,512.95 986.61,512.61 986.79,512.81 986.97,513.95 987.16,514.78 987.34,513.38 987.52,513.38 987.70,512.70" fill="none" stroke="#2eb56e" stroke-width="1.5" stroke-linejoin="round"/>
<line x1="794.2" y1="516.1" x2="794.2" y2="513.3000000000001" stroke="#222" stroke-width="2"/>
<line x1="891.0" y1="516.1" x2="891.0" y2="513.3000000000001" stroke="#222" stroke-width="2"/>
<line x1="697.5" y1="504.7" x2="700.1" y2="504.7" stroke="#262626" stroke-width="1.3"/>
<line x1="697.5" y1="491.2" x2="701.8" y2="491.2" stroke="#262626" stroke-width="1.3"/>
<line x1="697.5" y1="477.6" x2="700.1" y2="477.6" stroke="#262626" stroke-width="1.3"/>
<line x1="697.5" y1="464.1" x2="701.8" y2="464.1" stroke="#262626" stroke-width="1.3"/>
<line x1="697.5" y1="450.5" x2="700.1" y2="450.5" stroke="#262626" stroke-width="1.3"/>
<line x1="697.5" y1="436.9" x2="701.8" y2="436.9" stroke="#262626" stroke-width="1.3"/>
<line x1="697.5" y1="409.8" x2="701.8" y2="409.8" stroke="#262626" stroke-width="1.3"/>
<text x="693.0" y="418.6" font-size="20" fill="#000" text-anchor="end" font-weight="bold" font-style="normal" >1600</text>
<text x="693.0" y="444.9" font-size="20" fill="#000" text-anchor="end" font-weight="bold" font-style="normal" >1200</text>
<text x="693.0" y="471.1" font-size="20" fill="#000" text-anchor="end" font-weight="bold" font-style="normal" >800</text>
<text x="693.0" y="498.1" font-size="20" fill="#000" text-anchor="end" font-weight="bold" font-style="normal" >400</text>
<text x="693.0" y="522.5" font-size="20" fill="#000" text-anchor="end" font-weight="bold" font-style="normal" >0</text>
<text x="699.3" y="426.7" font-size="25" fill="#2eb56e" text-anchor="start" font-weight="bold" font-style="normal" letter-spacing="0.2"><tspan font-style="italic">r</tspan> = 420 nm</text>
<rect x="697.5" y="521.3" width="290.20000000000005" height="112.5" fill="none" stroke="#2e2e2e" stroke-width="1.7"/>
<polyline points="697.50,628.85 697.68,626.68 697.86,624.52 698.04,622.35 698.23,620.18 698.41,618.02 698.59,616.58 698.77,615.52 698.95,612.85 699.13,612.59 699.31,612.26 699.50,612.43 699.68,611.64 699.86,609.29 700.04,610.03 700.22,604.79 700.40,607.64 700.59,603.31 700.77,606.09 700.95,602.86 701.13,605.03 701.31,606.62 701.49,604.70 701.67,604.12 701.86,603.62 702.04,608.61 702.22,604.45 702.40,602.13 702.58,600.58 702.76,605.57 702.94,602.63 703.13,602.60 703.31,602.15 703.49,601.28 703.67,603.23 703.85,605.46 704.03,603.75 704.22,605.11 704.40,601.96 704.58,602.78 704.76,602.06 704.94,599.45 705.12,601.65 705.30,603.90 705.49,606.26 705.67,603.22 705.85,601.35 706.03,601.98 706.21,600.80 706.39,602.18 706.57,599.17 706.76,604.48 706.94,601.51 707.12,594.90 707.30,598.19 707.48,598.11 707.66,599.10 707.84,598.62 708.03,600.27 708.21,601.90 708.39,597.54 708.57,601.33 708.75,597.07 708.93,605.68 709.12,599.86 709.30,599.46 709.48,600.69 709.66,601.18 709.84,598.31 710.02,597.66 710.20,600.01 710.39,597.56 710.57,600.23 710.75,599.29 710.93,598.65 711.11,596.41 711.29,596.57 711.47,599.32 711.66,596.80 711.84,600.01 712.02,598.66 712.20,595.01 712.38,596.70 712.56,596.06 712.75,596.68 712.93,599.54 713.11,596.80 713.29,593.53 713.47,596.91 713.65,595.64 713.83,596.01 714.02,597.09 714.20,598.94 714.38,593.48 714.56,597.12 714.74,594.98 714.92,597.97 715.10,595.21 715.29,598.46 715.47,595.34 715.65,596.72 715.83,597.56 716.01,595.64 716.19,594.73 716.37,592.15 716.56,594.88 716.74,594.02 716.92,597.55 717.10,595.38 717.28,594.02 717.46,593.57 717.65,593.89 717.83,593.66 718.01,596.66 718.19,594.16 718.37,593.51 718.55,596.89 718.73,596.61 718.92,595.71 719.10,594.96 719.28,594.57 719.46,596.22 719.64,596.42 719.82,597.42 720.00,593.85 720.19,591.63 720.37,591.05 720.55,593.37 720.73,595.02 720.91,593.90 721.09,594.02 721.27,595.72 721.46,594.78 721.64,596.19 721.82,592.65 722.00,596.33 722.18,593.46 722.36,593.45 722.55,596.40 722.73,595.61 722.91,593.51 723.09,593.54 723.27,595.07 723.45,592.76 723.63,592.29 723.82,593.30 724.00,594.73 724.18,590.14 724.36,594.81 724.54,595.10 724.72,593.16 724.90,593.90 725.09,596.49 725.27,594.04 725.45,589.84 725.63,596.05 725.81,593.04 725.99,597.40 726.18,595.14 726.36,593.53 726.54,592.20 726.72,589.63 726.90,592.27 727.08,593.56 727.26,588.79 727.45,593.87 727.63,592.83 727.81,591.41 727.99,592.17 728.17,593.50 728.35,590.93 728.53,592.78 728.72,592.35 728.90,591.85 729.08,592.98 729.26,592.12 729.44,591.45 729.62,588.00 729.80,593.24 729.99,593.33 730.17,590.88 730.35,593.21 730.53,593.76 730.71,592.66 730.89,594.93 731.08,594.59 731.26,593.51 731.44,594.42 731.62,594.37 731.80,591.59 731.98,596.16 732.16,593.56 732.35,593.63 732.53,592.00 732.71,592.66 732.89,592.37 733.07,591.07 733.25,592.69 733.43,595.57 733.62,594.32 733.80,592.62 733.98,591.84 734.16,593.40 734.34,593.38 734.52,592.07 734.71,590.86 734.89,592.58 735.07,591.09 735.25,591.21 735.43,592.00 735.61,591.57 735.79,591.81 735.98,593.06 736.16,587.76 736.34,593.28 736.52,594.04 736.70,592.77 736.88,592.83 737.06,593.15 737.25,589.45 737.43,589.81 737.61,594.06 737.79,592.51 737.97,592.59 738.15,596.53 738.33,593.38 738.52,592.53 738.70,592.58 738.88,593.69 739.06,591.50 739.24,597.54 739.42,593.92 739.61,591.04 739.79,594.54 739.97,593.83 740.15,590.19 740.33,593.55 740.51,594.10 740.69,591.11 740.88,591.45 741.06,590.49 741.24,592.71 741.42,592.35 741.60,595.59 741.78,592.76 741.96,590.10 742.15,591.29 742.33,592.83 742.51,592.98 742.69,588.29 742.87,591.94 743.05,592.54 743.24,591.29 743.42,591.11 743.60,593.34 743.78,595.51 743.96,591.50 744.14,592.66 744.32,595.11 744.51,588.74 744.69,591.55 744.87,594.31 745.05,591.86 745.23,593.88 745.41,593.16 745.59,592.87 745.78,592.37 745.96,592.38 746.14,585.83 746.32,589.85 746.50,594.74 746.68,590.33 746.86,592.29 747.05,593.00 747.23,592.56 747.41,590.24 747.59,594.76 747.77,589.49 747.95,592.65 748.14,588.74 748.32,592.30 748.50,591.27 748.68,597.17 748.86,592.22 749.04,592.10 749.22,593.42 749.41,591.01 749.59,588.79 749.77,595.03 749.95,594.11 750.13,591.22 750.31,592.54 750.49,589.06 750.68,591.70 750.86,590.16 751.04,593.89 751.22,591.69 751.40,592.51 751.58,590.66 751.77,589.77 751.95,592.58 752.13,593.68 752.31,595.48 752.49,589.89 752.67,593.19 752.85,590.10 753.04,593.09 753.22,591.81 753.40,593.05 753.58,592.27 753.76,593.82 753.94,595.25 754.12,590.49 754.31,592.16 754.49,595.69 754.67,593.48 754.85,592.65 755.03,593.53 755.21,591.93 755.39,591.62 755.58,591.66 755.76,595.09 755.94,599.64 756.12,593.19 756.30,592.58 756.48,592.75 756.67,593.51 756.85,595.54 757.03,594.75 757.21,595.32 757.39,592.21 757.57,593.57 757.75,593.06 757.94,594.19 758.12,591.99 758.30,591.05 758.48,593.94 758.66,593.82 758.84,593.60 759.02,592.89 759.21,591.98 759.39,593.70 759.57,593.06 759.75,586.07 759.93,590.48 760.11,587.80 760.29,594.15 760.48,592.69 760.66,594.30 760.84,593.44 761.02,596.03 761.20,595.59 761.38,593.52 761.57,593.99 761.75,594.26 761.93,593.68 762.11,596.76 762.29,595.21 762.47,593.47 762.65,593.53 762.84,594.79 763.02,587.81 763.20,591.34 763.38,593.23 763.56,595.80 763.74,596.18 763.92,594.65 764.11,592.32 764.29,594.83 764.47,591.33 764.65,592.77 764.83,593.43 765.01,593.81 765.20,593.29 765.38,597.03 765.56,595.31 765.74,592.66 765.92,595.47 766.10,595.51 766.28,596.35 766.47,593.00 766.65,593.12 766.83,595.20 767.01,591.92 767.19,594.05 767.37,592.71 767.55,594.12 767.74,593.81 767.92,594.79 768.10,595.00 768.28,595.57 768.46,595.58 768.64,595.72 768.82,594.07 769.01,596.98 769.19,594.92 769.37,596.78 769.55,591.65 769.73,595.86 769.91,595.31 770.10,592.79 770.28,595.67 770.46,596.47 770.64,595.00 770.82,593.68 771.00,594.35 771.18,592.86 771.37,595.11 771.55,593.56 771.73,596.15 771.91,594.56 772.09,594.38 772.27,591.75 772.45,597.89 772.64,592.66 772.82,594.33 773.00,595.65 773.18,595.63 773.36,592.90 773.54,596.94 773.73,594.97 773.91,592.74 774.09,598.54 774.27,598.61 774.45,598.62 774.63,596.42 774.81,599.66 775.00,595.02 775.18,595.88 775.36,595.17 775.54,597.13 775.72,597.19 775.90,598.76 776.08,596.58 776.27,596.99 776.45,596.40 776.63,599.35 776.81,598.44 776.99,596.77 777.17,597.06 777.35,597.23 777.54,596.75 777.72,599.15 777.90,596.68 778.08,598.74 778.26,596.13 778.44,597.68 778.63,596.14 778.81,598.05 778.99,597.59 779.17,598.75 779.35,598.96 779.53,599.91 779.71,598.67 779.90,597.06 780.08,597.57 780.26,599.24 780.44,598.67 780.62,598.66 780.80,600.54 780.98,598.92 781.17,599.46 781.35,595.56 781.53,600.34 781.71,597.94 781.89,601.19 782.07,600.28 782.26,599.51 782.44,599.67 782.62,603.24 782.80,601.10 782.98,598.24 783.16,600.99 783.34,598.21 783.53,600.78 783.71,600.23 783.89,602.15 784.07,600.56 784.25,604.35 784.43,598.17 784.61,598.50 784.80,599.52 784.98,602.09 785.16,600.15 785.34,602.99 785.52,602.63 785.70,600.11 785.88,600.46 786.07,602.58 786.25,600.02 786.43,600.11 786.61,603.25 786.79,601.17 786.97,602.27 787.16,600.94 787.34,598.32 787.52,599.56 787.70,601.12 787.88,603.14 788.06,602.26 788.24,598.46 788.43,602.79 788.61,601.83 788.79,601.92 788.97,601.49 789.15,603.39 789.33,603.08 789.51,603.36 789.70,602.45 789.88,602.67 790.06,601.24 790.24,602.87 790.42,604.70 790.60,602.92 790.79,602.32 790.97,601.75 791.15,604.44 791.33,604.31 791.51,602.31 791.69,602.80 791.87,600.31 792.06,603.37 792.24,602.35 792.42,603.65 792.60,606.25 792.78,602.50 792.96,603.17 793.14,601.78 793.33,601.64 793.51,606.43 793.69,602.84 793.87,603.65 794.05,603.61 794.23,603.30 794.41,604.78 794.60,600.84 794.78,607.02 794.96,603.26 795.14,604.59 795.32,604.80 795.50,605.97 795.69,604.51 795.87,604.53 796.05,603.49 796.23,603.53 796.41,604.12 796.59,607.90 796.77,603.27 796.96,603.36 797.14,604.56 797.32,603.36 797.50,603.82 797.68,605.30 797.86,603.31 798.04,604.44 798.23,603.62 798.41,604.50 798.59,602.79 798.77,604.27 798.95,605.29 799.13,606.23 799.32,605.62 799.50,606.01 799.68,605.42 799.86,603.55 800.04,602.66 800.22,603.17 800.40,603.44 800.59,607.27 800.77,603.21 800.95,606.24 801.13,606.11 801.31,605.02 801.49,605.22 801.67,604.43 801.86,604.11 802.04,604.68 802.22,603.56 802.40,605.92 802.58,606.63 802.76,604.44 802.94,603.41 803.13,603.75 803.31,606.32 803.49,603.15 803.67,605.55 803.85,605.42 804.03,605.49 804.22,605.53 804.40,603.61 804.58,603.61 804.76,604.15 804.94,606.78 805.12,601.74 805.30,606.98 805.49,603.40 805.67,609.71 805.85,604.38 806.03,603.70 806.21,604.86 806.39,606.28 806.57,606.28 806.76,604.18 806.94,603.25 807.12,602.50 807.30,605.31 807.48,601.59 807.66,603.70 807.84,602.42 808.03,603.27 808.21,603.09 808.39,604.30 808.57,603.88 808.75,605.68 808.93,606.72 809.12,603.92 809.30,604.16 809.48,605.88 809.66,604.47 809.84,604.39 810.02,603.40 810.20,604.63 810.39,603.81 810.57,598.91 810.75,606.14 810.93,604.58 811.11,602.38 811.29,605.15 811.47,603.27 811.66,605.92 811.84,605.23 812.02,603.93 812.20,603.00 812.38,603.26 812.56,605.24 812.75,604.49 812.93,603.84 813.11,602.99 813.29,605.06 813.47,603.90 813.65,604.24 813.83,602.63 814.02,601.02 814.20,607.38 814.38,604.49 814.56,602.38 814.74,603.86 814.92,607.68 815.10,601.44 815.29,601.68 815.47,602.70 815.65,604.11 815.83,603.06 816.01,603.91 816.19,603.20 816.37,601.15 816.56,601.06 816.74,601.39 816.92,602.48 817.10,602.55 817.28,600.79 817.46,603.42 817.65,602.96 817.83,601.08 818.01,603.07 818.19,601.61 818.37,602.16 818.55,600.94 818.73,599.98 818.92,601.57 819.10,601.96 819.28,600.60 819.46,599.16 819.64,600.46 819.82,602.27 820.00,597.94 820.19,602.01 820.37,601.98 820.55,601.74 820.73,599.48 820.91,602.40 821.09,602.10 821.28,599.16 821.46,594.92 821.64,601.30 821.82,601.98 822.00,602.62 822.18,598.78 822.36,601.83 822.55,599.52 822.73,601.90 822.91,602.01 823.09,600.81 823.27,602.40 823.45,601.70 823.63,599.67 823.82,601.47 824.00,603.76 824.18,601.13 824.36,599.00 824.54,600.11 824.72,599.10 824.90,600.17 825.09,599.88 825.27,599.87 825.45,599.74 825.63,600.52 825.81,603.72 825.99,598.10 826.18,597.04 826.36,599.18 826.54,597.80 826.72,599.43 826.90,598.77 827.08,596.27 827.26,600.18 827.45,596.50 827.63,596.85 827.81,600.30 827.99,597.80 828.17,596.68 828.35,598.17 828.53,597.11 828.72,600.56 828.90,596.99 829.08,597.11 829.26,595.61 829.44,599.67 829.62,596.98 829.81,596.81 829.99,597.47 830.17,597.02 830.35,595.46 830.53,596.77 830.71,599.71 830.89,596.74 831.08,597.44 831.26,597.84 831.44,594.89 831.62,597.18 831.80,598.35 831.98,600.97 832.16,596.67 832.35,594.96 832.53,596.11 832.71,595.94 832.89,598.92 833.07,595.31 833.25,596.83 833.43,594.25 833.62,594.47 833.80,595.90 833.98,597.74 834.16,592.91 834.34,594.64 834.52,594.87 834.71,595.71 834.89,595.94 835.07,593.93 835.25,594.06 835.43,592.04 835.61,595.49 835.79,593.45 835.98,591.39 836.16,591.27 836.34,595.06 836.52,591.70 836.70,593.94 836.88,593.12 837.06,592.89 837.25,593.53 837.43,592.16 837.61,591.23 837.79,592.53 837.97,593.68 838.15,591.09 838.34,592.13 838.52,591.55 838.70,591.94 838.88,588.80 839.06,590.95 839.24,583.85 839.42,590.45 839.61,589.02 839.79,590.51 839.97,590.61 840.15,593.02 840.33,589.06 840.51,591.34 840.69,589.41 840.88,588.58 841.06,587.36 841.24,592.65 841.42,588.08 841.60,587.40 841.78,589.16 841.96,587.47 842.15,587.22 842.33,586.37 842.51,588.63 842.69,588.10 842.87,585.01 843.05,586.18 843.24,587.22 843.42,582.29 843.60,584.46 843.78,584.45 843.96,585.69 844.14,581.21 844.32,584.09 844.51,582.98 844.69,580.52 844.87,581.82 845.05,581.83 845.23,579.91 845.41,580.08 845.59,580.36 845.78,581.35 845.96,579.30 846.14,580.03 846.32,577.87 846.50,579.11 846.68,575.44 846.86,573.85 847.05,573.91 847.23,576.35 847.41,576.78 847.59,576.71 847.77,576.61 847.95,575.50 848.14,578.98 848.32,575.73 848.50,576.06 848.68,575.19 848.86,573.85 849.04,569.11 849.22,573.72 849.41,566.32 849.59,573.16 849.77,572.94 849.95,569.18 850.13,569.21 850.31,566.53 850.49,568.09 850.68,566.79 850.86,567.82 851.04,568.62 851.22,565.75 851.40,561.63 851.58,563.53 851.77,564.39 851.95,564.33 852.13,564.18 852.31,559.41 852.49,561.90 852.67,562.02 852.85,563.38 853.04,561.09 853.22,560.03 853.40,558.32 853.58,558.14 853.76,561.74 853.94,558.98 854.12,554.45 854.31,554.85 854.49,553.44 854.67,554.61 854.85,554.20 855.03,555.45 855.21,553.90 855.39,552.80 855.58,553.10 855.76,552.10 855.94,551.88 856.12,550.77 856.30,550.41 856.48,550.46 856.67,551.15 856.85,550.26 857.03,548.02 857.21,551.80 857.39,548.53 857.57,547.00 857.75,544.75 857.94,548.49 858.12,548.52 858.30,546.82 858.48,542.32 858.66,545.77 858.84,541.02 859.02,548.71 859.21,546.98 859.39,544.04 859.57,542.07 859.75,539.83 859.93,543.72 860.11,540.73 860.30,538.83 860.48,538.05 860.66,538.77 860.84,537.29 861.02,538.70 861.20,536.14 861.38,535.45 861.57,536.46 861.75,532.48 861.93,535.76 862.11,536.40 862.29,534.30 862.47,532.83 862.65,534.47 862.84,533.03 863.02,534.19 863.20,531.69 863.38,535.56 863.56,533.75 863.74,528.83 863.92,529.59 864.11,532.33 864.29,530.82 864.47,530.81 864.65,528.06 864.83,530.23 865.01,530.59 865.20,529.07 865.38,532.18 865.56,528.57 865.74,530.61 865.92,529.96 866.10,525.17 866.28,524.74 866.47,525.69 866.65,524.60 866.83,531.23 867.01,528.01 867.19,523.74 867.37,523.99 867.55,525.16 867.74,527.20 867.92,521.90 868.10,526.94 868.28,524.90 868.46,526.02 868.64,527.90 868.83,522.91 869.01,521.90 869.19,521.92 869.37,524.26 869.55,521.90 869.73,524.41 869.91,528.70 870.10,524.25 870.28,521.90 870.46,526.60 870.64,524.47 870.82,523.74 871.00,523.33 871.18,521.90 871.37,525.67 871.55,526.46 871.73,524.69 871.91,523.29 872.09,525.48 872.27,526.69 872.45,526.22 872.64,523.50 872.82,525.19 873.00,524.98 873.18,526.27 873.36,525.39 873.54,525.75 873.73,526.32 873.91,528.02 874.09,528.32 874.27,527.41 874.45,532.99 874.63,530.39 874.81,531.47 875.00,528.84 875.18,527.18 875.36,528.89 875.54,530.07 875.72,533.22 875.90,525.26 876.08,530.17 876.27,530.00 876.45,531.75 876.63,530.42 876.81,529.72 876.99,534.07 877.17,532.71 877.36,537.62 877.54,531.40 877.72,531.78 877.90,534.76 878.08,533.18 878.26,530.01 878.44,534.16 878.63,535.91 878.81,538.50 878.99,536.48 879.17,538.75 879.35,535.70 879.53,538.42 879.71,537.69 879.90,537.15 880.08,537.96 880.26,539.13 880.44,539.31 880.62,540.98 880.80,539.20 880.98,540.16 881.17,541.25 881.35,541.61 881.53,536.15 881.71,541.69 881.89,538.69 882.07,540.56 882.26,544.74 882.44,541.63 882.62,543.23 882.80,543.26 882.98,542.92 883.16,540.00 883.34,545.14 883.53,542.61 883.71,545.95 883.89,545.01 884.07,544.45 884.25,546.10 884.43,550.65 884.61,548.11 884.80,550.18 884.98,547.58 885.16,548.17 885.34,550.49 885.52,547.16 885.70,546.96 885.88,550.41 886.07,541.93 886.25,549.60 886.43,547.07 886.61,550.98 886.79,554.00 886.97,549.67 887.16,551.02 887.34,554.97 887.52,552.35 887.70,552.70 887.88,551.81 888.06,553.46 888.24,553.56 888.43,552.84 888.61,555.74 888.79,555.58 888.97,556.38 889.15,555.55 889.33,556.97 889.51,557.34 889.70,558.97 889.88,558.47 890.06,556.98 890.24,558.75 890.42,558.21 890.60,556.12 890.79,558.34 890.97,558.03 891.15,565.02 891.33,561.69 891.51,561.44 891.69,560.85 891.87,561.51 892.06,563.76 892.24,561.46 892.42,562.18 892.60,566.09 892.78,562.92 892.96,565.47 893.14,560.43 893.33,564.82 893.51,564.46 893.69,561.70 893.87,566.74 894.05,567.57 894.23,566.60 894.41,562.29 894.60,565.23 894.78,568.36 894.96,568.43 895.14,566.29 895.32,565.87 895.50,569.90 895.69,569.10 895.87,569.05 896.05,573.93 896.23,568.83 896.41,568.23 896.59,569.99 896.77,572.70 896.96,571.15 897.14,570.72 897.32,573.07 897.50,573.53 897.68,573.47 897.86,571.63 898.04,571.53 898.23,572.86 898.41,574.53 898.59,573.99 898.77,574.04 898.95,577.43 899.13,572.14 899.32,576.51 899.50,575.77 899.68,578.47 899.86,577.30 900.04,575.60 900.22,578.29 900.40,581.36 900.59,583.18 900.77,579.88 900.95,579.62 901.13,578.93 901.31,581.95 901.49,579.93 901.67,580.98 901.86,579.23 902.04,580.57 902.22,581.68 902.40,582.08 902.58,581.10 902.76,581.24 902.94,583.40 903.13,581.02 903.31,584.84 903.49,584.95 903.67,582.64 903.85,586.09 904.03,580.17 904.22,585.16 904.40,585.05 904.58,582.28 904.76,586.94 904.94,583.52 905.12,585.38 905.30,585.13 905.49,584.35 905.67,584.12 905.85,585.81 906.03,585.86 906.21,587.76 906.39,589.74 906.57,590.47 906.76,587.57 906.94,588.64 907.12,590.30 907.30,589.22 907.48,588.43 907.66,589.63 907.85,588.87 908.03,588.78 908.21,587.61 908.39,592.81 908.57,590.66 908.75,590.32 908.93,591.04 909.12,589.90 909.30,594.00 909.48,593.91 909.66,590.21 909.84,590.24 910.02,592.85 910.20,594.83 910.39,595.88 910.57,592.53 910.75,590.40 910.93,591.94 911.11,595.48 911.29,594.19 911.47,598.75 911.66,596.92 911.84,595.75 912.02,597.27 912.20,598.34 912.38,594.62 912.56,595.54 912.75,598.08 912.93,592.08 913.11,591.72 913.29,596.15 913.47,596.19 913.65,598.93 913.83,594.99 914.02,597.64 914.20,595.43 914.38,596.50 914.56,598.13 914.74,599.22 914.92,601.47 915.10,598.36 915.29,598.98 915.47,600.23 915.65,602.11 915.83,602.32 916.01,599.03 916.19,599.17 916.38,597.45 916.56,601.79 916.74,601.39 916.92,600.22 917.10,601.89 917.28,603.49 917.46,600.33 917.65,600.41 917.83,602.61 918.01,603.25 918.19,598.26 918.37,602.36 918.55,605.25 918.73,601.52 918.92,604.11 919.10,601.74 919.28,602.24 919.46,602.83 919.64,602.47 919.82,599.62 920.00,603.53 920.19,603.79 920.37,602.38 920.55,602.62 920.73,602.74 920.91,602.37 921.09,603.62 921.28,604.92 921.46,603.99 921.64,601.97 921.82,603.10 922.00,602.79 922.18,606.08 922.36,601.46 922.55,601.87 922.73,604.84 922.91,605.22 923.09,604.72 923.27,601.56 923.45,601.34 923.63,607.89 923.82,601.30 924.00,601.70 924.18,605.36 924.36,603.50 924.54,604.67 924.72,603.68 924.91,603.47 925.09,605.74 925.27,607.59 925.45,603.14 925.63,604.03 925.81,607.11 925.99,602.70 926.18,602.69 926.36,607.69 926.54,604.15 926.72,605.62 926.90,605.08 927.08,603.41 927.26,604.37 927.45,604.63 927.63,605.78 927.81,604.27 927.99,603.51 928.17,600.91 928.35,602.48 928.53,606.20 928.72,604.44 928.90,607.99 929.08,602.77 929.26,608.39 929.44,604.32 929.62,608.59 929.81,604.25 929.99,607.78 930.17,604.33 930.35,604.60 930.53,606.89 930.71,603.63 930.89,604.11 931.08,607.39 931.26,608.16 931.44,603.35 931.62,608.76 931.80,603.43 931.98,605.03 932.16,608.57 932.35,607.91 932.53,604.70 932.71,605.37 932.89,606.30 933.07,603.26 933.25,604.55 933.43,607.43 933.62,607.13 933.80,607.39 933.98,606.91 934.16,606.62 934.34,604.50 934.52,611.78 934.71,603.81 934.89,603.50 935.07,606.03 935.25,602.98 935.43,604.30 935.61,605.89 935.79,602.79 935.98,605.67 936.16,605.44 936.34,603.98 936.52,606.58 936.70,603.94 936.88,603.82 937.06,607.58 937.25,604.16 937.43,603.56 937.61,605.49 937.79,604.09 937.97,603.48 938.15,605.41 938.34,603.29 938.52,604.09 938.70,606.32 938.88,606.39 939.06,601.97 939.24,607.35 939.42,601.34 939.61,605.84 939.79,603.33 939.97,605.42 940.15,606.62 940.33,604.86 940.51,604.11 940.69,607.21 940.88,605.35 941.06,606.97 941.24,606.27 941.42,609.59 941.60,609.30 941.78,604.05 941.96,605.49 942.15,607.55 942.33,606.55 942.51,606.88 942.69,607.17 942.87,603.56 943.05,606.40 943.24,607.72 943.42,611.70 943.60,610.68 943.78,603.60 943.96,606.03 944.14,604.13 944.32,606.09 944.51,608.94 944.69,608.77 944.87,608.16 945.05,611.14 945.23,612.19 945.41,609.61 945.59,610.28 945.78,609.05 945.96,607.50 946.14,604.27 946.32,606.80 946.50,612.05 946.68,611.92 946.87,608.57 947.05,609.41 947.23,608.44 947.41,609.13 947.59,607.88 947.77,614.65 947.95,609.55 948.14,612.38 948.32,607.13 948.50,610.33 948.68,611.03 948.86,609.15 949.04,608.72 949.22,610.23 949.41,607.95 949.59,613.20 949.77,608.51 949.95,609.10 950.13,610.74 950.31,609.06 950.49,608.78 950.68,607.17 950.86,610.84 951.04,612.49 951.22,611.60 951.40,609.90 951.58,610.82 951.77,611.35 951.95,614.23 952.13,612.00 952.31,610.20 952.49,609.97 952.67,613.92 952.85,611.38 953.04,613.65 953.22,612.74 953.40,613.70 953.58,613.68 953.76,614.42 953.94,613.31 954.12,615.16 954.31,612.01 954.49,613.95 954.67,612.67 954.85,613.90 955.03,614.02 955.21,616.13 955.40,616.45 955.58,614.70 955.76,616.21 955.94,613.36 956.12,615.26 956.30,615.60 956.48,614.56 956.67,613.31 956.85,614.52 957.03,611.63 957.21,612.89 957.39,615.07 957.57,617.24 957.75,617.07 957.94,614.12 958.12,612.66 958.30,615.44 958.48,616.78 958.66,615.42 958.84,616.12 959.02,615.35 959.21,614.61 959.39,615.91 959.57,614.65 959.75,613.82 959.93,618.34 960.11,618.08 960.30,616.30 960.48,622.65 960.66,614.89 960.84,618.38 961.02,617.46 961.20,616.55 961.38,621.75 961.57,615.61 961.75,616.40 961.93,623.48 962.11,619.61 962.29,613.98 962.47,616.35 962.65,615.30 962.84,618.39 963.02,616.77 963.20,622.07 963.38,620.22 963.56,615.41 963.74,617.54 963.93,619.43 964.11,617.53 964.29,620.60 964.47,623.38 964.65,617.12 964.83,619.65 965.01,618.68 965.20,618.08 965.38,618.48 965.56,616.71 965.74,619.66 965.92,620.05 966.10,616.90 966.28,616.85 966.47,621.34 966.65,621.54 966.83,620.85 967.01,619.37 967.19,619.39 967.37,623.18 967.55,619.40 967.74,617.20 967.92,626.60 968.10,620.21 968.28,620.48 968.46,621.20 968.64,619.60 968.83,618.95 969.01,623.47 969.19,619.99 969.37,618.97 969.55,620.61 969.73,618.83 969.91,618.79 970.10,618.08 970.28,618.16 970.46,619.34 970.64,616.80 970.82,620.67 971.00,618.44 971.18,623.63 971.37,621.42 971.55,621.30 971.73,621.20 971.91,622.76 972.09,621.18 972.27,623.22 972.45,622.90 972.64,623.97 972.82,620.74 973.00,621.63 973.18,623.24 973.36,625.14 973.54,622.03 973.73,621.52 973.91,619.22 974.09,619.38 974.27,624.86 974.45,620.12 974.63,620.68 974.81,614.11 975.00,619.39 975.18,618.63 975.36,623.61 975.54,624.01 975.72,621.45 975.90,620.41 976.08,618.90 976.27,627.03 976.45,622.87 976.63,625.74 976.81,620.10 976.99,621.60 977.17,620.59 977.36,622.74 977.54,628.57 977.72,622.48 977.90,621.84 978.08,624.23 978.26,622.20 978.44,623.80 978.63,622.67 978.81,624.91 978.99,626.62 979.17,621.74 979.35,619.73 979.53,629.73 979.71,625.61 979.90,623.40 980.08,625.36 980.26,623.00 980.44,624.57 980.62,622.83 980.80,625.42 980.98,625.83 981.17,624.19 981.35,625.99 981.53,627.15 981.71,623.24 981.89,620.69 982.07,626.09 982.26,626.58 982.44,621.86 982.62,625.07 982.80,623.16 982.98,624.29 983.16,621.67 983.34,626.33 983.53,619.49 983.71,626.76 983.89,622.88 984.07,623.67 984.25,626.82 984.43,623.53 984.61,625.63 984.80,624.20 984.98,623.43 985.16,628.55 985.34,623.91 985.52,627.80 985.70,623.88 985.89,620.39 986.07,626.76 986.25,630.65 986.43,624.21 986.61,623.95 986.79,626.86 986.97,626.63 987.16,625.02 987.34,622.48 987.52,627.43 987.70,626.58" fill="none" stroke="#2a7de6" stroke-width="1.05" stroke-linejoin="round"/>
<line x1="794.2" y1="633.8" x2="794.2" y2="631.0" stroke="#222" stroke-width="2"/>
<line x1="891.0" y1="633.8" x2="891.0" y2="631.0" stroke="#222" stroke-width="2"/>
<line x1="697.5" y1="617.5" x2="700.1" y2="617.5" stroke="#262626" stroke-width="1.3"/>
<line x1="697.5" y1="600.1" x2="701.8" y2="600.1" stroke="#262626" stroke-width="1.3"/>
<line x1="697.5" y1="582.6" x2="700.1" y2="582.6" stroke="#262626" stroke-width="1.3"/>
<line x1="697.5" y1="565.1" x2="701.8" y2="565.1" stroke="#262626" stroke-width="1.3"/>
<line x1="697.5" y1="547.6" x2="700.1" y2="547.6" stroke="#262626" stroke-width="1.3"/>
<text x="693.0" y="537.6" font-size="20" fill="#000" text-anchor="end" font-weight="bold" font-style="normal" >600</text>
<text x="693.0" y="572.5" font-size="20" fill="#000" text-anchor="end" font-weight="bold" font-style="normal" >400</text>
<text x="693.0" y="607.5" font-size="20" fill="#000" text-anchor="end" font-weight="bold" font-style="normal" >200</text>
<text x="693.0" y="638.2" font-size="20" fill="#000" text-anchor="end" font-weight="bold" font-style="normal" >0</text>
<text x="699.3" y="541.4" font-size="25" fill="#2a7de6" text-anchor="start" font-weight="bold" font-style="normal" letter-spacing="0.2"><tspan font-style="italic">r</tspan> = 400 nm</text>
<rect x="697.5" y="638.2" width="290.20000000000005" height="111.0" fill="none" stroke="#2e2e2e" stroke-width="1.7"/>
<polyline points="697.50,744.49 697.68,743.96 697.86,743.43 698.04,742.90 698.23,742.37 698.41,741.84 698.59,741.31 698.77,740.78 698.95,740.49 699.13,741.57 699.31,740.02 699.50,739.85 699.68,737.90 699.86,738.94 700.04,736.10 700.22,736.91 700.40,738.50 700.59,736.48 700.77,736.09 700.95,736.48 701.13,736.13 701.31,738.07 701.49,736.91 701.67,736.42 701.86,733.26 702.04,737.13 702.22,735.09 702.40,737.26 702.58,737.98 702.76,737.75 702.94,735.07 703.13,737.48 703.31,735.99 703.49,736.19 703.67,735.26 703.85,734.87 704.03,735.35 704.22,734.70 704.40,737.34 704.58,735.81 704.76,736.85 704.94,735.63 705.12,737.38 705.30,738.34 705.49,735.81 705.67,734.15 705.85,736.72 706.03,735.20 706.21,733.05 706.39,731.76 706.57,733.81 706.76,734.91 706.94,733.19 707.12,735.28 707.30,736.66 707.48,735.16 707.66,732.97 707.84,734.73 708.03,735.09 708.21,735.07 708.39,731.40 708.57,730.25 708.75,731.41 708.93,733.64 709.12,733.52 709.30,732.29 709.48,734.16 709.66,733.35 709.84,732.54 710.02,732.87 710.20,729.49 710.39,733.28 710.57,733.04 710.75,735.44 710.93,730.04 711.11,733.09 711.29,731.81 711.47,733.55 711.66,731.28 711.84,732.01 712.02,732.24 712.20,731.79 712.38,731.17 712.56,732.57 712.75,730.49 712.93,732.93 713.11,731.54 713.29,731.54 713.47,732.94 713.65,732.82 713.83,728.00 714.02,731.86 714.20,729.80 714.38,731.50 714.56,730.99 714.74,730.81 714.92,729.88 715.10,729.47 715.29,727.96 715.47,732.45 715.65,731.64 715.83,728.14 716.01,729.42 716.19,731.30 716.37,729.48 716.56,728.19 716.74,730.41 716.92,730.18 717.10,730.27 717.28,729.69 717.46,732.25 717.65,728.81 717.83,730.21 718.01,726.86 718.19,730.90 718.37,729.24 718.55,727.82 718.73,729.43 718.92,729.13 719.10,729.95 719.28,730.08 719.46,729.39 719.64,728.64 719.82,728.09 720.00,726.67 720.19,729.59 720.37,728.77 720.55,729.85 720.73,724.26 720.91,728.33 721.09,729.72 721.27,726.56 721.46,725.36 721.64,728.69 721.82,726.46 722.00,723.66 722.18,727.72 722.36,727.46 722.55,726.87 722.73,724.56 722.91,727.25 723.09,726.93 723.27,727.64 723.45,726.84 723.63,728.92 723.82,726.59 724.00,728.25 724.18,727.06 724.36,727.64 724.54,725.15 724.72,725.97 724.90,729.43 725.09,727.49 725.27,726.27 725.45,725.76 725.63,725.76 725.81,725.52 725.99,726.33 726.18,724.53 726.36,728.15 726.54,726.97 726.72,725.41 726.90,727.02 727.08,726.02 727.26,725.47 727.45,724.90 727.63,725.13 727.81,725.70 727.99,727.57 728.17,725.44 728.35,727.34 728.53,726.57 728.72,727.04 728.90,724.54 729.08,724.01 729.26,725.79 729.44,724.27 729.62,724.27 729.80,723.53 729.99,725.41 730.17,724.35 730.35,722.71 730.53,725.13 730.71,725.46 730.89,724.10 731.08,725.61 731.26,724.61 731.44,724.05 731.62,724.12 731.80,724.92 731.98,723.19 732.16,726.07 732.35,724.31 732.53,725.76 732.71,724.48 732.89,723.53 733.07,719.42 733.25,720.29 733.43,724.00 733.62,722.60 733.80,722.51 733.98,723.14 734.16,725.23 734.34,722.81 734.52,724.32 734.71,722.07 734.89,723.94 735.07,723.81 735.25,721.80 735.43,724.08 735.61,723.28 735.79,720.11 735.98,721.88 736.16,722.63 736.34,722.38 736.52,725.49 736.70,719.30 736.88,720.65 737.06,723.26 737.25,717.99 737.43,720.82 737.61,725.12 737.79,720.26 737.97,722.23 738.15,721.64 738.33,723.81 738.52,723.51 738.70,721.04 738.88,722.75 739.06,722.02 739.24,717.63 739.42,722.86 739.61,721.84 739.79,722.03 739.97,722.72 740.15,720.51 740.33,722.10 740.51,721.20 740.69,720.29 740.88,722.22 741.06,720.93 741.24,720.73 741.42,720.66 741.60,721.38 741.78,720.45 741.96,721.72 742.15,719.81 742.33,719.50 742.51,722.54 742.69,720.41 742.87,722.42 743.05,718.85 743.24,722.87 743.42,718.84 743.60,719.45 743.78,721.94 743.96,719.66 744.14,720.12 744.32,721.44 744.51,718.97 744.69,721.53 744.87,721.61 745.05,720.52 745.23,720.66 745.41,720.37 745.59,716.68 745.78,719.50 745.96,719.31 746.14,720.49 746.32,720.75 746.50,720.93 746.68,721.41 746.86,721.71 747.05,719.26 747.23,718.61 747.41,720.41 747.59,718.41 747.77,718.31 747.95,720.58 748.14,719.19 748.32,721.53 748.50,721.20 748.68,719.59 748.86,719.13 749.04,717.67 749.22,720.41 749.41,718.56 749.59,720.10 749.77,719.91 749.95,719.49 750.13,719.76 750.31,719.34 750.49,718.43 750.68,719.42 750.86,718.58 751.04,719.61 751.22,718.67 751.40,718.34 751.58,717.47 751.77,719.42 751.95,719.84 752.13,718.55 752.31,718.56 752.49,719.38 752.67,719.12 752.85,717.08 753.04,720.63 753.22,718.70 753.40,723.23 753.58,717.99 753.76,718.97 753.94,719.13 754.12,719.83 754.31,718.27 754.49,719.31 754.67,718.65 754.85,719.53 755.03,718.08 755.21,718.19 755.39,716.70 755.58,717.96 755.76,719.90 755.94,717.78 756.12,717.70 756.30,719.38 756.48,718.15 756.67,720.74 756.85,721.58 757.03,718.14 757.21,716.52 757.39,718.37 757.57,717.40 757.75,720.55 757.94,716.56 758.12,717.18 758.30,712.35 758.48,718.68 758.66,716.79 758.84,718.97 759.02,715.87 759.21,718.55 759.39,717.30 759.57,716.45 759.75,717.67 759.93,716.39 760.11,715.88 760.29,713.35 760.48,719.48 760.66,716.67 760.84,717.59 761.02,716.29 761.20,716.58 761.38,717.89 761.57,714.00 761.75,717.00 761.93,713.25 762.11,713.73 762.29,711.53 762.47,713.90 762.65,716.17 762.84,716.18 763.02,714.22 763.20,712.54 763.38,715.31 763.56,714.33 763.74,714.37 763.92,717.33 764.11,715.79 764.29,714.98 764.47,713.15 764.65,717.71 764.83,715.78 765.01,711.27 765.20,714.25 765.38,710.37 765.56,713.26 765.74,711.44 765.92,712.74 766.10,711.24 766.28,711.60 766.47,711.96 766.65,712.82 766.83,713.66 767.01,711.24 767.19,712.39 767.37,712.50 767.55,712.48 767.74,707.68 767.92,710.59 768.10,707.60 768.28,709.59 768.46,708.25 768.64,708.68 768.82,707.42 769.01,707.35 769.19,709.40 769.37,707.83 769.55,708.11 769.73,704.21 769.91,706.12 770.10,706.25 770.28,703.79 770.46,705.72 770.64,705.70 770.82,705.10 771.00,702.97 771.18,702.98 771.37,703.66 771.55,709.20 771.73,701.73 771.91,701.89 772.09,702.21 772.27,697.47 772.45,701.53 772.64,699.65 772.82,700.78 773.00,699.54 773.18,697.42 773.36,701.09 773.54,699.35 773.73,696.60 773.91,698.48 774.09,698.16 774.27,696.99 774.45,697.54 774.63,695.49 774.81,694.67 775.00,697.34 775.18,697.36 775.36,693.41 775.54,690.64 775.72,693.98 775.90,698.39 776.08,693.95 776.27,697.09 776.45,694.89 776.63,693.71 776.81,693.53 776.99,695.04 777.17,690.68 777.35,694.93 777.54,691.58 777.72,692.18 777.90,696.74 778.08,691.38 778.26,694.02 778.44,695.82 778.63,696.49 778.81,695.98 778.99,694.97 779.17,697.13 779.35,696.21 779.53,695.69 779.71,696.52 779.90,699.39 780.08,701.65 780.26,700.07 780.44,695.08 780.62,698.62 780.80,699.51 780.98,702.65 781.17,703.67 781.35,698.76 781.53,700.14 781.71,702.34 781.89,701.52 782.07,704.71 782.26,702.27 782.44,701.93 782.62,700.76 782.80,705.30 782.98,707.75 783.16,704.20 783.34,705.29 783.53,706.39 783.71,706.31 783.89,707.57 784.07,702.74 784.25,708.44 784.43,707.31 784.61,709.08 784.80,708.22 784.98,707.39 785.16,713.37 785.34,711.06 785.52,711.57 785.70,708.41 785.88,710.41 786.07,711.62 786.25,711.45 786.43,706.63 786.61,711.72 786.79,713.12 786.97,711.69 787.16,705.50 787.34,710.08 787.52,706.81 787.70,711.94 787.88,713.91 788.06,712.71 788.24,713.15 788.43,710.67 788.61,714.36 788.79,712.23 788.97,713.72 789.15,711.97 789.33,713.61 789.51,709.50 789.70,713.19 789.88,709.08 790.06,715.13 790.24,711.07 790.42,714.47 790.60,712.65 790.79,713.14 790.97,712.97 791.15,711.91 791.33,713.10 791.51,708.89 791.69,712.63 791.87,714.53 792.06,712.34 792.24,715.51 792.42,712.43 792.60,714.94 792.78,712.77 792.96,711.74 793.14,712.37 793.33,712.44 793.51,711.93 793.69,710.61 793.87,713.69 794.05,711.21 794.23,710.73 794.41,712.19 794.60,711.44 794.78,711.90 794.96,713.31 795.14,715.79 795.32,713.16 795.50,711.46 795.69,711.46 795.87,712.12 796.05,714.66 796.23,709.98 796.41,710.49 796.59,714.21 796.77,709.50 796.96,710.40 797.14,707.44 797.32,709.47 797.50,711.84 797.68,708.56 797.86,712.15 798.04,708.62 798.23,709.79 798.41,711.37 798.59,705.36 798.77,709.58 798.95,708.15 799.13,709.70 799.32,708.50 799.50,709.83 799.68,706.77 799.86,708.61 800.04,708.01 800.22,706.45 800.40,707.57 800.59,709.00 800.77,707.05 800.95,706.94 801.13,707.94 801.31,704.58 801.49,708.21 801.67,707.23 801.86,705.31 802.04,706.30 802.22,705.07 802.40,705.33 802.58,704.94 802.76,706.16 802.94,705.48 803.13,706.03 803.31,703.93 803.49,705.59 803.67,707.55 803.85,704.78 804.03,706.76 804.22,708.51 804.40,705.08 804.58,705.63 804.76,701.59 804.94,704.51 805.12,702.06 805.30,703.65 805.49,704.56 805.67,702.45 805.85,703.26 806.03,704.03 806.21,702.74 806.39,704.08 806.57,701.61 806.76,701.58 806.94,700.84 807.12,702.06 807.30,703.44 807.48,701.93 807.66,701.73 807.84,700.86 808.03,702.76 808.21,700.03 808.39,701.63 808.57,698.85 808.75,704.79 808.93,701.14 809.12,700.68 809.30,699.63 809.48,700.68 809.66,699.78 809.84,699.70 810.02,698.42 810.20,697.53 810.39,701.43 810.57,699.04 810.75,700.20 810.93,697.80 811.11,701.60 811.29,699.30 811.47,696.79 811.66,698.68 811.84,697.91 812.02,696.94 812.20,700.17 812.38,696.62 812.56,702.03 812.75,698.16 812.93,697.56 813.11,698.25 813.29,697.09 813.47,698.84 813.65,697.88 813.83,695.59 814.02,697.69 814.20,695.31 814.38,694.63 814.56,694.29 814.74,692.12 814.92,695.65 815.10,694.41 815.29,697.05 815.47,693.13 815.65,697.27 815.83,695.10 816.01,692.51 816.19,693.08 816.37,694.79 816.56,693.52 816.74,689.88 816.92,694.76 817.10,691.06 817.28,689.67 817.46,691.54 817.65,692.80 817.83,689.42 818.01,691.36 818.19,687.50 818.37,688.38 818.55,689.77 818.73,688.21 818.92,690.49 819.10,688.45 819.28,687.65 819.46,689.90 819.64,687.75 819.82,686.13 820.00,688.63 820.19,686.93 820.37,690.42 820.55,690.03 820.73,693.13 820.91,685.43 821.09,686.54 821.28,687.53 821.46,686.69 821.64,685.46 821.82,686.60 822.00,683.83 822.18,683.81 822.36,684.88 822.55,680.21 822.73,681.43 822.91,681.34 823.09,681.50 823.27,683.63 823.45,679.43 823.63,683.47 823.82,681.58 824.00,679.75 824.18,682.01 824.36,680.92 824.54,682.02 824.72,679.98 824.90,682.77 825.09,679.09 825.27,678.91 825.45,680.52 825.63,682.57 825.81,677.35 825.99,682.95 826.18,679.21 826.36,678.85 826.54,675.65 826.72,678.67 826.90,677.87 827.08,678.86 827.26,679.35 827.45,677.17 827.63,676.56 827.81,676.40 827.99,675.19 828.17,681.28 828.35,675.20 828.53,673.03 828.72,676.37 828.90,676.50 829.08,671.77 829.26,674.73 829.44,673.59 829.62,673.40 829.81,673.38 829.99,673.16 830.17,670.61 830.35,675.03 830.53,672.41 830.71,670.56 830.89,674.87 831.08,674.82 831.26,674.18 831.44,673.21 831.62,672.72 831.80,670.11 831.98,671.63 832.16,669.36 832.35,673.70 832.53,668.30 832.71,670.57 832.89,673.51 833.07,672.50 833.25,669.36 833.43,673.12 833.62,669.82 833.80,670.06 833.98,668.86 834.16,671.78 834.34,671.72 834.52,672.14 834.71,667.70 834.89,668.97 835.07,668.09 835.25,669.72 835.43,667.18 835.61,664.77 835.79,669.96 835.98,666.62 836.16,667.61 836.34,667.96 836.52,668.91 836.70,665.47 836.88,665.55 837.06,664.78 837.25,667.27 837.43,667.47 837.61,667.80 837.79,666.99 837.97,665.08 838.15,667.76 838.34,668.31 838.52,664.71 838.70,662.72 838.88,663.36 839.06,667.14 839.24,666.89 839.42,662.84 839.61,662.88 839.79,661.74 839.97,663.38 840.15,664.44 840.33,662.51 840.51,664.87 840.69,666.94 840.88,661.11 841.06,662.99 841.24,663.11 841.42,664.56 841.60,662.41 841.78,662.50 841.96,658.47 842.15,664.67 842.33,665.03 842.51,663.64 842.69,663.20 842.87,662.87 843.05,664.65 843.24,662.98 843.42,660.36 843.60,662.94 843.78,659.27 843.96,660.26 844.14,661.51 844.32,661.37 844.51,662.58 844.69,661.74 844.87,658.54 845.05,660.93 845.23,658.97 845.41,663.25 845.59,663.43 845.78,657.51 845.96,661.23 846.14,664.27 846.32,665.03 846.50,662.53 846.68,664.23 846.86,663.61 847.05,661.94 847.23,664.69 847.41,666.02 847.59,663.75 847.77,665.59 847.95,666.24 848.14,667.99 848.32,661.34 848.50,665.71 848.68,665.84 848.86,664.92 849.04,666.34 849.22,671.00 849.41,666.25 849.59,666.61 849.77,671.58 849.95,669.54 850.13,666.95 850.31,669.27 850.49,670.93 850.68,668.63 850.86,668.93 851.04,669.04 851.22,673.38 851.40,671.57 851.58,672.40 851.77,675.35 851.95,670.38 852.13,674.46 852.31,673.67 852.49,673.63 852.67,675.42 852.85,673.79 853.04,674.22 853.22,672.70 853.40,675.66 853.58,672.73 853.76,676.07 853.94,677.12 854.12,676.39 854.31,677.65 854.49,679.53 854.67,677.00 854.85,678.49 855.03,671.66 855.21,677.41 855.39,681.55 855.58,679.53 855.76,679.17 855.94,676.95 856.12,680.40 856.30,678.22 856.48,682.69 856.67,681.32 856.85,682.65 857.03,683.15 857.21,679.93 857.39,679.65 857.57,684.87 857.75,683.95 857.94,680.71 858.12,682.54 858.30,688.14 858.48,682.86 858.66,684.58 858.84,685.34 859.02,683.31 859.21,682.97 859.39,683.91 859.57,689.04 859.75,684.57 859.93,687.09 860.11,691.25 860.30,691.77 860.48,688.39 860.66,687.93 860.84,682.84 861.02,688.73 861.20,688.39 861.38,686.41 861.57,690.00 861.75,688.80 861.93,686.65 862.11,689.38 862.29,691.91 862.47,690.63 862.65,688.02 862.84,691.23 863.02,690.50 863.20,687.71 863.38,691.29 863.56,690.04 863.74,690.05 863.92,688.84 864.11,692.62 864.29,688.35 864.47,694.05 864.65,692.33 864.83,689.56 865.01,693.53 865.20,697.52 865.38,694.78 865.56,692.75 865.74,688.55 865.92,695.31 866.10,696.36 866.28,695.23 866.47,692.93 866.65,693.85 866.83,692.39 867.01,695.01 867.19,692.82 867.37,695.62 867.55,693.96 867.74,693.11 867.92,697.14 868.10,696.06 868.28,696.67 868.46,695.36 868.64,697.69 868.83,698.89 869.01,696.13 869.19,696.78 869.37,697.69 869.55,697.26 869.73,698.69 869.91,698.56 870.10,697.78 870.28,697.74 870.46,700.79 870.64,695.57 870.82,698.02 871.00,699.73 871.18,698.84 871.37,698.63 871.55,693.64 871.73,698.24 871.91,698.77 872.09,696.37 872.27,700.89 872.45,695.59 872.64,698.33 872.82,698.54 873.00,698.54 873.18,699.20 873.36,700.80 873.54,702.57 873.73,698.89 873.91,698.44 874.09,701.63 874.27,701.11 874.45,700.33 874.63,699.65 874.81,699.41 875.00,706.42 875.18,703.23 875.36,701.09 875.54,699.65 875.72,699.97 875.90,701.61 876.08,701.72 876.27,701.70 876.45,704.17 876.63,697.90 876.81,696.12 876.99,701.11 877.17,701.41 877.36,702.35 877.54,704.49 877.72,701.07 877.90,701.44 878.08,701.63 878.26,700.43 878.44,703.24 878.63,702.22 878.81,703.56 878.99,706.65 879.17,704.76 879.35,703.80 879.53,703.90 879.71,702.85 879.90,704.07 880.08,704.15 880.26,702.27 880.44,703.62 880.62,700.26 880.80,703.37 880.98,704.36 881.17,704.92 881.35,702.04 881.53,703.94 881.71,707.80 881.89,703.23 882.07,704.16 882.26,703.42 882.44,703.66 882.62,706.16 882.80,704.03 882.98,707.04 883.16,705.55 883.34,706.15 883.53,706.31 883.71,707.37 883.89,707.27 884.07,704.41 884.25,709.73 884.43,707.54 884.61,705.16 884.80,709.19 884.98,708.13 885.16,708.50 885.34,709.62 885.52,707.30 885.70,704.90 885.88,710.20 886.07,706.03 886.25,707.24 886.43,708.80 886.61,708.33 886.79,707.66 886.97,708.48 887.16,708.79 887.34,708.88 887.52,710.03 887.70,707.66 887.88,704.19 888.06,709.40 888.24,707.81 888.43,702.99 888.61,707.65 888.79,711.81 888.97,708.91 889.15,707.29 889.33,710.21 889.51,709.78 889.70,710.87 889.88,710.45 890.06,708.51 890.24,708.83 890.42,710.41 890.60,710.48 890.79,711.03 890.97,709.00 891.15,708.09 891.33,711.40 891.51,714.24 891.69,709.74 891.87,711.49 892.06,712.40 892.24,711.55 892.42,712.02 892.60,712.89 892.78,712.59 892.96,710.23 893.14,713.34 893.33,711.01 893.51,712.80 893.69,714.03 893.87,711.45 894.05,714.66 894.23,710.83 894.41,714.51 894.60,714.95 894.78,711.32 894.96,711.95 895.14,711.79 895.32,713.66 895.50,716.03 895.69,713.43 895.87,717.00 896.05,714.17 896.23,711.80 896.41,712.66 896.59,715.05 896.77,714.79 896.96,716.74 897.14,715.53 897.32,717.09 897.50,717.74 897.68,715.82 897.86,719.21 898.04,718.16 898.23,716.71 898.41,716.11 898.59,715.74 898.77,715.45 898.95,716.54 899.13,718.26 899.32,718.20 899.50,718.62 899.68,716.13 899.86,717.92 900.04,716.56 900.22,717.26 900.40,719.53 900.59,717.48 900.77,716.34 900.95,719.48 901.13,720.09 901.31,720.48 901.49,719.37 901.67,719.51 901.86,717.99 902.04,718.40 902.22,721.74 902.40,721.81 902.58,719.34 902.76,717.48 902.94,719.63 903.13,716.94 903.31,719.57 903.49,717.27 903.67,719.47 903.85,721.23 904.03,722.06 904.22,720.74 904.40,722.41 904.58,722.76 904.76,724.04 904.94,721.72 905.12,721.61 905.30,725.02 905.49,722.39 905.67,721.82 905.85,721.04 906.03,723.95 906.21,724.31 906.39,723.15 906.57,723.26 906.76,724.97 906.94,724.07 907.12,725.56 907.30,724.71 907.48,723.04 907.66,724.61 907.85,724.06 908.03,726.06 908.21,723.07 908.39,720.52 908.57,728.23 908.75,722.26 908.93,725.55 909.12,722.26 909.30,725.70 909.48,723.63 909.66,724.19 909.84,721.71 910.02,726.05 910.20,725.02 910.39,726.42 910.57,727.71 910.75,727.58 910.93,726.59 911.11,723.76 911.29,729.40 911.47,726.05 911.66,724.26 911.84,723.87 912.02,725.32 912.20,726.87 912.38,726.04 912.56,725.73 912.75,725.85 912.93,725.25 913.11,726.11 913.29,726.11 913.47,725.47 913.65,724.70 913.83,728.74 914.02,727.47 914.20,726.85 914.38,727.10 914.56,726.11 914.74,726.73 914.92,726.10 915.10,726.10 915.29,729.25 915.47,728.82 915.65,727.92 915.83,728.93 916.01,727.31 916.19,724.27 916.38,726.38 916.56,729.40 916.74,729.16 916.92,728.92 917.10,730.05 917.28,726.59 917.46,729.59 917.65,727.19 917.83,725.32 918.01,728.80 918.19,728.85 918.37,730.08 918.55,727.71 918.73,728.69 918.92,727.11 919.10,726.82 919.28,730.14 919.46,733.05 919.64,731.80 919.82,730.30 920.00,730.90 920.19,730.35 920.37,728.37 920.55,728.73 920.73,730.07 920.91,731.87 921.09,730.73 921.28,729.00 921.46,732.91 921.64,729.61 921.82,727.62 922.00,727.63 922.18,730.21 922.36,732.42 922.55,731.08 922.73,733.39 922.91,728.75 923.09,729.21 923.27,730.27 923.45,730.31 923.63,734.20 923.82,732.00 924.00,725.54 924.18,733.35 924.36,731.74 924.54,731.51 924.72,730.28 924.91,733.97 925.09,731.60 925.27,729.02 925.45,733.47 925.63,729.32 925.81,734.29 925.99,728.69 926.18,732.93 926.36,732.78 926.54,731.57 926.72,728.51 926.90,736.54 927.08,732.05 927.26,730.87 927.45,731.41 927.63,732.16 927.81,735.51 927.99,733.13 928.17,731.82 928.35,731.40 928.53,735.85 928.72,731.64 928.90,735.82 929.08,733.19 929.26,734.13 929.44,738.33 929.62,731.05 929.81,731.11 929.99,732.79 930.17,733.38 930.35,730.91 930.53,732.84 930.71,732.85 930.89,732.60 931.08,732.60 931.26,731.52 931.44,733.29 931.62,733.33 931.80,734.72 931.98,731.62 932.16,735.38 932.35,731.98 932.53,734.37 932.71,733.75 932.89,732.20 933.07,732.16 933.25,734.18 933.43,732.11 933.62,734.60 933.80,736.04 933.98,738.80 934.16,734.30 934.34,735.06 934.52,735.26 934.71,742.67 934.89,731.41 935.07,733.65 935.25,736.59 935.43,736.81 935.61,734.59 935.79,735.29 935.98,733.82 936.16,732.44 936.34,735.12 936.52,735.94 936.70,737.42 936.88,736.41 937.06,737.39 937.25,734.09 937.43,735.78 937.61,737.39 937.79,735.26 937.97,734.78 938.15,732.19 938.34,736.83 938.52,736.26 938.70,739.14 938.88,736.87 939.06,734.64 939.24,736.99 939.42,734.04 939.61,734.64 939.79,735.59 939.97,739.23 940.15,736.99 940.33,734.82 940.51,738.21 940.69,734.01 940.88,737.24 941.06,735.83 941.24,737.27 941.42,734.83 941.60,740.18 941.78,736.46 941.96,737.96 942.15,736.22 942.33,736.14 942.51,741.90 942.69,735.53 942.87,735.10 943.05,736.67 943.24,738.64 943.42,736.15 943.60,736.85 943.78,736.80 943.96,737.39 944.14,740.25 944.32,737.46 944.51,742.38 944.69,738.30 944.87,738.91 945.05,739.64 945.23,738.24 945.41,739.51 945.59,740.23 945.78,739.55 945.96,740.55 946.14,740.55 946.32,737.65 946.50,739.42 946.68,734.01 946.87,737.73 947.05,738.50 947.23,737.97 947.41,737.95 947.59,738.45 947.77,738.71 947.95,738.62 948.14,735.02 948.32,736.39 948.50,735.35 948.68,733.92 948.86,735.08 949.04,738.83 949.22,736.15 949.41,737.04 949.59,738.23 949.77,734.73 949.95,737.67 950.13,742.08 950.31,737.26 950.49,740.41 950.68,739.41 950.86,739.62 951.04,737.17 951.22,735.78 951.40,738.34 951.58,740.78 951.77,739.92 951.95,740.05 952.13,738.49 952.31,738.77 952.49,737.56 952.67,737.56 952.85,738.14 953.04,738.51 953.22,741.36 953.40,735.61 953.58,739.49 953.76,740.29 953.94,740.39 954.12,741.52 954.31,737.57 954.49,739.73 954.67,736.18 954.85,736.67 955.03,735.36 955.21,741.29 955.40,738.60 955.58,738.47 955.76,739.53 955.94,738.44 956.12,739.17 956.30,740.79 956.48,739.47 956.67,739.29 956.85,742.84 957.03,738.43 957.21,740.97 957.39,740.17 957.57,738.66 957.75,738.99 957.94,735.65 958.12,738.59 958.30,741.82 958.48,739.85 958.66,738.59 958.84,741.15 959.02,738.14 959.21,740.26 959.39,739.22 959.57,742.48 959.75,739.98 959.93,739.69 960.11,738.38 960.30,735.94 960.48,742.81 960.66,737.70 960.84,738.60 961.02,736.98 961.20,738.21 961.38,738.28 961.57,736.73 961.75,740.47 961.93,743.62 962.11,741.16 962.29,740.54 962.47,738.21 962.65,740.14 962.84,740.49 963.02,738.22 963.20,738.27 963.38,739.33 963.56,739.46 963.74,740.67 963.93,737.53 964.11,742.14 964.29,738.28 964.47,743.71 964.65,739.18 964.83,741.50 965.01,741.62 965.20,741.68 965.38,741.20 965.56,736.19 965.74,742.62 965.92,740.35 966.10,739.42 966.28,740.32 966.47,743.19 966.65,742.10 966.83,737.86 967.01,745.85 967.19,742.20 967.37,741.99 967.55,738.99 967.74,740.11 967.92,740.20 968.10,740.77 968.28,742.36 968.46,738.85 968.64,740.40 968.83,742.68 969.01,738.84 969.19,741.23 969.37,743.18 969.55,739.31 969.73,741.12 969.91,741.55 970.10,738.41 970.28,741.80 970.46,741.08 970.64,736.86 970.82,737.58 971.00,736.17 971.18,736.66 971.37,741.62 971.55,741.40 971.73,740.37 971.91,738.89 972.09,741.34 972.27,739.85 972.45,734.27 972.64,741.42 972.82,742.23 973.00,741.15 973.18,741.65 973.36,739.50 973.54,746.60 973.73,739.06 973.91,743.46 974.09,739.76 974.27,740.65 974.45,739.56 974.63,742.13 974.81,738.05 975.00,739.14 975.18,739.97 975.36,741.09 975.54,738.73 975.72,738.69 975.90,742.33 976.08,740.30 976.27,739.97 976.45,739.32 976.63,739.36 976.81,738.63 976.99,734.23 977.17,738.10 977.36,740.59 977.54,739.05 977.72,739.23 977.90,740.52 978.08,740.55 978.26,743.51 978.44,739.17 978.63,739.01 978.81,739.32 978.99,741.77 979.17,739.64 979.35,744.00 979.53,742.40 979.71,741.24 979.90,740.34 980.08,744.39 980.26,736.72 980.44,744.78 980.62,741.50 980.80,737.36 980.98,740.61 981.17,740.08 981.35,739.91 981.53,736.66 981.71,741.86 981.89,740.92 982.07,740.80 982.26,744.03 982.44,736.77 982.62,738.43 982.80,739.66 982.98,743.10 983.16,740.10 983.34,738.92 983.53,743.26 983.71,739.91 983.89,739.33 984.07,739.67 984.25,739.20 984.43,741.02 984.61,740.99 984.80,740.29 984.98,743.46 985.16,739.86 985.34,740.00 985.52,741.80 985.70,740.59 985.89,740.71 986.07,740.48 986.25,740.08 986.43,741.29 986.61,736.12 986.79,740.54 986.97,740.69 987.16,741.77 987.34,740.71 987.52,739.74 987.70,739.54" fill="none" stroke="#f04545" stroke-width="0.95" stroke-linejoin="round"/>
<line x1="794.2" y1="749.2" x2="794.2" y2="746.4000000000001" stroke="#222" stroke-width="2"/>
<line x1="891.0" y1="749.2" x2="891.0" y2="746.4000000000001" stroke="#222" stroke-width="2"/>
<line x1="697.5" y1="725.8" x2="700.1" y2="725.8" stroke="#262626" stroke-width="1.3"/>
<line x1="697.5" y1="700.7" x2="701.8" y2="700.7" stroke="#262626" stroke-width="1.3"/>
<line x1="697.5" y1="675.5" x2="700.1" y2="675.5" stroke="#262626" stroke-width="1.3"/>
<text x="693.0" y="659.1" font-size="20" fill="#000" text-anchor="end" font-weight="bold" font-style="normal" >200</text>
<text x="693.0" y="707.5" font-size="20" fill="#000" text-anchor="end" font-weight="bold" font-style="normal" >100</text>
<text x="693.0" y="751.9" font-size="20" fill="#000" text-anchor="end" font-weight="bold" font-style="normal" >0</text>
<text x="699.3" y="659.2" font-size="25" fill="#f04545" text-anchor="start" font-weight="bold" font-style="normal" letter-spacing="0.2"><tspan font-style="italic">r</tspan> = 380 nm</text>
<rect x="697.5" y="754.2" width="290.20000000000005" height="111.0" fill="none" stroke="#2e2e2e" stroke-width="1.7"/>
<polyline points="697.50,864.24 697.68,862.16 697.86,860.09 698.04,858.01 698.23,855.94 698.41,853.86 698.59,852.60 698.77,851.74 698.95,853.95 699.13,850.60 699.31,850.01 699.50,847.76 699.68,846.28 699.86,845.27 700.04,846.96 700.22,846.48 700.40,845.44 700.59,843.81 700.77,843.31 700.95,844.02 701.13,843.52 701.31,842.43 701.49,843.42 701.67,842.06 701.86,842.01 702.04,843.17 702.22,842.37 702.40,843.97 702.58,842.46 702.76,843.88 702.94,841.49 703.13,842.19 703.31,845.46 703.49,841.95 703.67,842.27 703.85,841.71 704.03,844.88 704.22,840.96 704.40,841.63 704.58,842.56 704.76,840.88 704.94,840.48 705.12,840.45 705.30,842.75 705.49,843.05 705.67,841.12 705.85,842.41 706.03,841.07 706.21,843.36 706.39,844.37 706.57,841.01 706.76,842.96 706.94,839.91 707.12,841.36 707.30,840.79 707.48,841.17 707.66,837.94 707.84,839.10 708.03,841.30 708.21,839.82 708.39,839.14 708.57,839.00 708.75,840.80 708.93,839.53 709.12,840.43 709.30,841.95 709.48,840.25 709.66,840.65 709.84,840.47 710.02,838.06 710.20,839.88 710.39,839.88 710.57,836.57 710.75,839.98 710.93,838.78 711.11,839.00 711.29,839.71 711.47,837.95 711.66,836.58 711.84,840.44 712.02,839.23 712.20,841.83 712.38,838.53 712.56,841.34 712.75,839.51 712.93,838.10 713.11,832.45 713.29,836.59 713.47,837.65 713.65,837.48 713.83,839.64 714.02,837.46 714.20,836.55 714.38,839.92 714.56,836.13 714.74,838.58 714.92,836.99 715.10,838.39 715.29,841.61 715.47,838.86 715.65,836.39 715.83,836.89 716.01,835.78 716.19,837.72 716.37,837.22 716.56,838.98 716.74,836.56 716.92,838.44 717.10,836.10 717.28,835.28 717.46,836.07 717.65,833.76 717.83,835.09 718.01,836.29 718.19,833.93 718.37,834.56 718.55,835.44 718.73,835.94 718.92,834.56 719.10,836.61 719.28,835.04 719.46,834.11 719.64,832.29 719.82,832.92 720.00,832.47 720.19,838.16 720.37,832.48 720.55,833.33 720.73,833.74 720.91,832.80 721.09,834.90 721.27,830.10 721.46,833.05 721.64,834.44 721.82,835.07 722.00,835.16 722.18,831.82 722.36,836.68 722.55,829.45 722.73,832.99 722.91,830.59 723.09,832.73 723.27,830.85 723.45,830.88 723.63,830.19 723.82,829.21 724.00,830.21 724.18,833.81 724.36,829.98 724.54,831.28 724.72,832.02 724.90,828.95 725.09,827.34 725.27,826.93 725.45,830.83 725.63,829.73 725.81,829.05 725.99,831.57 726.18,826.86 726.36,828.09 726.54,827.39 726.72,828.41 726.90,829.39 727.08,827.66 727.26,826.83 727.45,832.83 727.63,827.53 727.81,828.28 727.99,825.00 728.17,826.71 728.35,829.61 728.53,826.07 728.72,826.43 728.90,825.62 729.08,825.84 729.26,825.55 729.44,827.33 729.62,825.32 729.80,823.54 729.99,824.60 730.17,825.78 730.35,824.97 730.53,825.13 730.71,823.08 730.89,820.60 731.08,824.10 731.26,822.99 731.44,825.06 731.62,823.01 731.80,822.51 731.98,825.52 732.16,824.58 732.35,823.08 732.53,823.62 732.71,822.74 732.89,821.90 733.07,821.28 733.25,819.86 733.43,819.58 733.62,820.87 733.80,821.08 733.98,819.25 734.16,819.83 734.34,820.19 734.52,822.35 734.71,818.49 734.89,817.88 735.07,817.85 735.25,818.24 735.43,820.37 735.61,817.67 735.79,818.05 735.98,817.67 736.16,820.15 736.34,817.86 736.52,814.64 736.70,818.24 736.88,816.71 737.06,816.08 737.25,815.21 737.43,817.41 737.61,816.35 737.79,815.40 737.97,817.66 738.15,812.60 738.33,812.56 738.52,813.52 738.70,812.45 738.88,811.96 739.06,810.58 739.24,809.92 739.42,813.90 739.61,813.69 739.79,812.92 739.97,811.21 740.15,810.13 740.33,810.18 740.51,810.43 740.69,809.95 740.88,811.28 741.06,809.62 741.24,809.43 741.42,808.03 741.60,809.04 741.78,813.29 741.96,809.74 742.15,807.22 742.33,812.48 742.51,809.68 742.69,804.61 742.87,806.56 743.05,805.55 743.24,806.39 743.42,805.87 743.60,804.03 743.78,802.57 743.96,803.86 744.14,805.99 744.32,802.23 744.51,801.06 744.69,805.22 744.87,799.72 745.05,800.49 745.23,796.59 745.41,801.14 745.59,802.47 745.78,799.42 745.96,797.57 746.14,799.87 746.32,800.37 746.50,798.89 746.68,798.52 746.86,798.63 747.05,799.54 747.23,794.55 747.41,798.95 747.59,798.53 747.77,798.52 747.95,794.43 748.14,796.00 748.32,794.15 748.50,795.18 748.68,794.86 748.86,792.97 749.04,792.43 749.22,791.74 749.41,789.12 749.59,792.19 749.77,791.70 749.95,791.94 750.13,790.08 750.31,794.15 750.49,790.94 750.68,791.04 750.86,795.74 751.04,791.46 751.22,793.42 751.40,792.41 751.58,792.97 751.77,792.90 751.95,790.31 752.13,792.53 752.31,792.31 752.49,791.93 752.67,795.33 752.85,795.31 753.04,797.60 753.22,794.19 753.40,793.83 753.58,798.60 753.76,795.46 753.94,795.12 754.12,795.72 754.31,798.74 754.49,797.85 754.67,796.01 754.85,796.23 755.03,797.32 755.21,799.10 755.39,797.18 755.58,797.56 755.76,800.30 755.94,799.22 756.12,799.93 756.30,799.15 756.48,796.69 756.67,800.00 756.85,799.88 757.03,799.18 757.21,799.51 757.39,801.30 757.57,801.64 757.75,804.06 757.94,803.90 758.12,803.36 758.30,799.99 758.48,801.93 758.66,804.06 758.84,801.71 759.02,802.43 759.21,803.07 759.39,800.41 759.57,802.82 759.75,804.17 759.93,804.84 760.11,805.87 760.29,804.95 760.48,807.69 760.66,801.78 760.84,804.85 761.02,803.34 761.20,808.19 761.38,804.12 761.57,805.81 761.75,805.90 761.93,811.93 762.11,806.15 762.29,806.03 762.47,806.14 762.65,806.32 762.84,807.11 763.02,805.06 763.20,804.94 763.38,804.21 763.56,807.74 763.74,807.96 763.92,808.09 764.11,806.62 764.29,805.21 764.47,807.26 764.65,807.79 764.83,807.51 765.01,806.01 765.20,808.93 765.38,808.37 765.56,806.66 765.74,809.87 765.92,808.70 766.10,806.93 766.28,803.72 766.47,807.57 766.65,809.43 766.83,809.09 767.01,807.47 767.19,806.55 767.37,805.83 767.55,809.58 767.74,808.15 767.92,807.79 768.10,809.24 768.28,807.89 768.46,808.04 768.64,810.73 768.82,807.59 769.01,809.25 769.19,810.98 769.37,808.89 769.55,805.34 769.73,807.53 769.91,806.62 770.10,807.30 770.28,807.30 770.46,810.60 770.64,807.77 770.82,806.82 771.00,807.17 771.18,809.92 771.37,809.12 771.55,807.91 771.73,809.01 771.91,805.61 772.09,811.24 772.27,810.16 772.45,809.12 772.64,807.25 772.82,809.30 773.00,810.52 773.18,810.24 773.36,807.95 773.54,811.66 773.73,809.55 773.91,810.43 774.09,808.97 774.27,807.48 774.45,807.40 774.63,809.89 774.81,809.92 775.00,807.75 775.18,813.74 775.36,811.12 775.54,809.55 775.72,810.22 775.90,807.79 776.08,809.57 776.27,808.87 776.45,810.45 776.63,808.24 776.81,811.70 776.99,810.67 777.17,808.90 777.35,809.15 777.54,807.73 777.72,809.33 777.90,809.55 778.08,811.27 778.26,810.97 778.44,802.99 778.63,807.58 778.81,811.20 778.99,805.97 779.17,809.52 779.35,810.13 779.53,809.58 779.71,807.29 779.90,808.23 780.08,803.69 780.26,808.34 780.44,808.38 780.62,807.87 780.80,811.52 780.98,808.14 781.17,807.29 781.35,810.21 781.53,808.02 781.71,805.62 781.89,809.39 782.07,807.45 782.26,807.95 782.44,809.24 782.62,807.98 782.80,810.89 782.98,807.79 783.16,808.73 783.34,809.39 783.53,811.96 783.71,805.53 783.89,802.96 784.07,809.21 784.25,808.83 784.43,808.84 784.61,808.91 784.80,808.83 784.98,807.20 785.16,807.10 785.34,809.44 785.52,811.76 785.70,808.30 785.88,810.28 786.07,810.00 786.25,809.50 786.43,810.85 786.61,808.60 786.79,808.49 786.97,811.61 787.16,809.80 787.34,815.86 787.52,811.76 787.70,814.48 787.88,811.10 788.06,809.82 788.24,810.46 788.43,808.22 788.61,808.32 788.79,810.63 788.97,812.03 789.15,809.74 789.33,809.65 789.51,812.35 789.70,810.63 789.88,811.39 790.06,811.92 790.24,809.12 790.42,809.20 790.60,810.21 790.79,810.26 790.97,810.30 791.15,810.45 791.33,812.70 791.51,809.87 791.69,815.31 791.87,810.16 792.06,812.61 792.24,812.90 792.42,811.20 792.60,809.95 792.78,811.48 792.96,808.89 793.14,808.27 793.33,808.31 793.51,810.56 793.69,810.02 793.87,809.20 794.05,807.09 794.23,808.43 794.41,810.21 794.60,812.04 794.78,810.24 794.96,808.61 795.14,808.26 795.32,806.50 795.50,809.92 795.69,807.80 795.87,806.06 796.05,806.47 796.23,810.54 796.41,808.44 796.59,806.27 796.77,806.76 796.96,806.14 797.14,806.39 797.32,806.92 797.50,805.56 797.68,805.03 797.86,806.53 798.04,804.82 798.23,803.80 798.41,807.00 798.59,806.70 798.77,806.38 798.95,806.07 799.13,807.06 799.32,804.18 799.50,803.37 799.68,803.56 799.86,803.00 800.04,803.44 800.22,803.83 800.40,800.91 800.59,802.06 800.77,801.60 800.95,799.93 801.13,803.17 801.31,803.78 801.49,799.20 801.67,799.83 801.86,795.40 802.04,797.80 802.22,797.33 802.40,797.11 802.58,795.86 802.76,797.04 802.94,795.69 803.13,796.91 803.31,794.53 803.49,792.50 803.67,792.50 803.85,797.01 804.03,793.60 804.22,792.94 804.40,792.86 804.58,792.74 804.76,790.22 804.94,793.82 805.12,790.17 805.30,788.00 805.49,788.97 805.67,789.87 805.85,791.13 806.03,786.03 806.21,789.84 806.39,786.58 806.57,783.19 806.76,787.12 806.94,784.74 807.12,781.96 807.30,784.39 807.48,779.47 807.66,782.65 807.84,780.48 808.03,777.68 808.21,780.62 808.39,786.45 808.57,778.89 808.75,780.89 808.93,779.03 809.12,779.55 809.30,779.22 809.48,776.75 809.66,773.88 809.84,773.92 810.02,774.48 810.20,775.16 810.39,776.37 810.57,773.90 810.75,777.05 810.93,773.55 811.11,772.71 811.29,770.94 811.47,772.57 811.66,772.41 811.84,771.24 812.02,773.18 812.20,769.75 812.38,772.40 812.56,771.83 812.75,769.70 812.93,768.19 813.11,767.56 813.29,770.48 813.47,767.61 813.65,768.69 813.83,768.41 814.02,769.29 814.20,766.14 814.38,768.20 814.56,769.22 814.74,770.24 814.92,769.49 815.10,765.68 815.29,767.87 815.47,770.29 815.65,766.40 815.83,767.46 816.01,766.42 816.19,769.21 816.37,766.21 816.56,766.44 816.74,767.02 816.92,764.73 817.10,767.14 817.28,767.56 817.46,769.19 817.65,767.10 817.83,768.71 818.01,765.02 818.19,766.09 818.37,769.76 818.55,767.12 818.73,769.05 818.92,766.29 819.10,769.65 819.28,769.91 819.46,770.04 819.64,767.80 819.82,769.48 820.00,767.99 820.19,769.97 820.37,771.59 820.55,775.18 820.73,773.88 820.91,774.76 821.09,773.52 821.28,775.24 821.46,772.79 821.64,774.26 821.82,774.31 822.00,777.05 822.18,776.22 822.36,772.38 822.55,777.44 822.73,777.70 822.91,783.09 823.09,777.17 823.27,779.91 823.45,779.76 823.63,779.20 823.82,779.16 824.00,784.17 824.18,781.03 824.36,781.67 824.54,783.63 824.72,783.67 824.90,784.87 825.09,781.83 825.27,785.27 825.45,787.22 825.63,787.47 825.81,785.05 825.99,788.24 826.18,783.84 826.36,785.67 826.54,787.40 826.72,788.74 826.90,789.20 827.08,793.54 827.26,792.49 827.45,790.74 827.63,793.40 827.81,793.55 827.99,791.67 828.17,791.29 828.35,793.55 828.53,792.29 828.72,790.97 828.90,792.25 829.08,794.48 829.26,795.52 829.44,794.85 829.62,797.57 829.81,796.88 829.99,797.87 830.17,796.96 830.35,797.17 830.53,796.47 830.71,800.46 830.89,800.83 831.08,799.79 831.26,801.68 831.44,801.28 831.62,798.86 831.80,801.56 831.98,805.37 832.16,799.98 832.35,801.72 832.53,800.47 832.71,807.36 832.89,803.57 833.07,804.70 833.25,804.19 833.43,803.69 833.62,807.89 833.80,806.80 833.98,805.49 834.16,807.44 834.34,806.85 834.52,808.02 834.71,806.44 834.89,806.61 835.07,808.93 835.25,807.28 835.43,808.17 835.61,809.67 835.79,807.87 835.98,808.75 836.16,810.94 836.34,810.43 836.52,807.87 836.70,810.13 836.88,811.32 837.06,816.67 837.25,811.42 837.43,810.56 837.61,809.73 837.79,812.29 837.97,810.38 838.15,813.17 838.34,812.60 838.52,812.34 838.70,814.28 838.88,812.56 839.06,811.70 839.24,814.45 839.42,815.59 839.61,816.26 839.79,814.59 839.97,815.70 840.15,816.80 840.33,814.40 840.51,815.43 840.69,814.74 840.88,816.22 841.06,816.83 841.24,815.18 841.42,817.21 841.60,818.85 841.78,817.56 841.96,818.77 842.15,818.99 842.33,818.19 842.51,816.66 842.69,816.46 842.87,816.40 843.05,816.67 843.24,818.89 843.42,817.74 843.60,817.22 843.78,818.03 843.96,818.88 844.14,820.91 844.32,821.01 844.51,820.56 844.69,818.80 844.87,821.55 845.05,818.38 845.23,820.12 845.41,818.52 845.59,819.46 845.78,820.96 845.96,820.84 846.14,819.80 846.32,822.90 846.50,821.05 846.68,819.30 846.86,820.74 847.05,821.40 847.23,820.38 847.41,823.27 847.59,819.27 847.77,822.43 847.95,818.32 848.14,821.38 848.32,821.37 848.50,819.90 848.68,821.05 848.86,821.65 849.04,822.70 849.22,821.77 849.41,820.06 849.59,822.11 849.77,821.71 849.95,821.13 850.13,818.77 850.31,823.52 850.49,823.09 850.68,821.80 850.86,822.15 851.04,822.47 851.22,822.06 851.40,822.80 851.58,821.51 851.77,825.37 851.95,822.80 852.13,821.62 852.31,823.38 852.49,822.18 852.67,824.71 852.85,821.40 853.04,822.01 853.22,820.69 853.40,820.29 853.58,824.13 853.76,823.51 853.94,821.45 854.12,823.44 854.31,819.85 854.49,821.37 854.67,820.22 854.85,824.54 855.03,824.34 855.21,822.89 855.39,827.02 855.58,822.76 855.76,818.72 855.94,822.21 856.12,821.77 856.30,824.30 856.48,821.06 856.67,823.15 856.85,821.88 857.03,822.95 857.21,823.55 857.39,821.82 857.57,820.73 857.75,823.12 857.94,821.91 858.12,823.21 858.30,822.93 858.48,817.90 858.66,821.58 858.84,822.70 859.02,822.02 859.21,820.05 859.39,819.98 859.57,819.91 859.75,821.24 859.93,820.06 860.11,818.95 860.30,821.78 860.48,821.02 860.66,820.56 860.84,822.36 861.02,819.22 861.20,821.59 861.38,820.78 861.57,819.95 861.75,819.03 861.93,816.89 862.11,818.74 862.29,817.04 862.47,817.19 862.65,817.82 862.84,817.96 863.02,820.34 863.20,818.02 863.38,817.25 863.56,820.06 863.74,816.71 863.92,820.74 864.11,818.00 864.29,817.10 864.47,817.40 864.65,818.62 864.83,821.33 865.01,818.41 865.20,818.30 865.38,818.18 865.56,821.90 865.74,817.63 865.92,820.24 866.10,818.24 866.28,818.00 866.47,817.95 866.65,815.87 866.83,817.80 867.01,817.22 867.19,819.72 867.37,819.16 867.55,818.64 867.74,819.92 867.92,817.00 868.10,817.45 868.28,815.88 868.46,817.01 868.64,819.69 868.83,816.97 869.01,818.90 869.19,815.61 869.37,815.94 869.55,817.33 869.73,819.95 869.91,813.80 870.10,816.43 870.28,820.95 870.46,818.17 870.64,819.74 870.82,816.11 871.00,816.98 871.18,817.92 871.37,819.81 871.55,817.36 871.73,818.79 871.91,819.79 872.09,818.20 872.27,817.80 872.45,817.59 872.64,817.88 872.82,814.24 873.00,815.75 873.18,817.14 873.36,815.16 873.54,817.70 873.73,813.68 873.91,819.32 874.09,820.53 874.27,818.63 874.45,819.83 874.63,818.85 874.81,819.24 875.00,817.48 875.18,818.82 875.36,817.15 875.54,815.62 875.72,820.66 875.90,815.50 876.08,817.93 876.27,818.86 876.45,816.14 876.63,816.89 876.81,819.50 876.99,817.59 877.17,819.67 877.36,816.19 877.54,815.24 877.72,819.46 877.90,818.07 878.08,818.92 878.26,814.54 878.44,816.32 878.63,818.26 878.81,816.13 878.99,820.83 879.17,820.53 879.35,820.40 879.53,823.78 879.71,816.59 879.90,820.13 880.08,819.84 880.26,817.44 880.44,819.97 880.62,818.39 880.80,818.07 880.98,816.95 881.17,820.02 881.35,819.53 881.53,819.67 881.71,819.50 881.89,820.97 882.07,818.95 882.26,820.38 882.44,818.12 882.62,822.59 882.80,818.51 882.98,822.95 883.16,818.71 883.34,817.89 883.53,823.74 883.71,820.42 883.89,822.22 884.07,817.83 884.25,818.65 884.43,818.55 884.61,819.43 884.80,819.25 884.98,819.24 885.16,822.52 885.34,820.75 885.52,818.49 885.70,818.15 885.88,821.16 886.07,819.07 886.25,818.66 886.43,821.96 886.61,821.73 886.79,821.16 886.97,818.31 887.16,819.69 887.34,821.01 887.52,820.32 887.70,819.99 887.88,819.46 888.06,820.47 888.24,817.16 888.43,821.30 888.61,819.70 888.79,821.50 888.97,822.65 889.15,821.43 889.33,821.07 889.51,820.71 889.70,821.04 889.88,818.65 890.06,821.52 890.24,819.34 890.42,821.74 890.60,822.83 890.79,821.36 890.97,821.42 891.15,821.92 891.33,819.96 891.51,823.97 891.69,818.41 891.87,820.71 892.06,821.79 892.24,822.52 892.42,822.87 892.60,822.50 892.78,821.93 892.96,822.15 893.14,821.39 893.33,823.35 893.51,822.11 893.69,823.38 893.87,823.41 894.05,820.26 894.23,823.39 894.41,822.19 894.60,821.87 894.78,825.19 894.96,822.82 895.14,821.86 895.32,821.04 895.50,822.69 895.69,822.20 895.87,822.35 896.05,824.04 896.23,821.47 896.41,823.37 896.59,825.27 896.77,821.43 896.96,823.81 897.14,822.15 897.32,823.22 897.50,822.03 897.68,824.57 897.86,826.68 898.04,822.54 898.23,826.59 898.41,823.67 898.59,822.96 898.77,825.15 898.95,822.21 899.13,824.68 899.32,824.99 899.50,822.75 899.68,823.40 899.86,823.15 900.04,826.29 900.22,827.32 900.40,824.65 900.59,824.44 900.77,824.91 900.95,823.96 901.13,823.19 901.31,825.61 901.49,824.77 901.67,827.67 901.86,824.90 902.04,826.03 902.22,826.73 902.40,826.96 902.58,824.93 902.76,828.81 902.94,828.00 903.13,826.75 903.31,829.28 903.49,827.66 903.67,831.20 903.85,826.72 904.03,826.40 904.22,824.39 904.40,828.94 904.58,827.94 904.76,827.76 904.94,825.55 905.12,828.64 905.30,826.36 905.49,830.12 905.67,826.91 905.85,829.41 906.03,829.95 906.21,826.60 906.39,828.53 906.57,828.54 906.76,829.51 906.94,828.51 907.12,827.70 907.30,829.30 907.48,829.92 907.66,830.59 907.85,829.34 908.03,829.39 908.21,828.24 908.39,829.38 908.57,832.04 908.75,828.77 908.93,833.75 909.12,829.85 909.30,829.42 909.48,830.44 909.66,831.08 909.84,829.93 910.02,828.71 910.20,830.87 910.39,831.41 910.57,832.15 910.75,832.69 910.93,832.65 911.11,828.85 911.29,832.40 911.47,831.25 911.66,831.09 911.84,831.90 912.02,832.64 912.20,831.33 912.38,831.55 912.56,832.96 912.75,830.27 912.93,830.67 913.11,833.44 913.29,830.03 913.47,831.64 913.65,831.69 913.83,834.09 914.02,836.35 914.20,832.17 914.38,833.05 914.56,835.43 914.74,836.53 914.92,834.42 915.10,836.74 915.29,833.82 915.47,833.06 915.65,834.52 915.83,834.71 916.01,835.52 916.19,836.52 916.38,834.50 916.56,834.48 916.74,835.90 916.92,835.99 917.10,835.83 917.28,835.98 917.46,835.21 917.65,838.16 917.83,835.33 918.01,835.61 918.19,836.04 918.37,838.83 918.55,836.69 918.73,838.07 918.92,836.82 919.10,836.75 919.28,839.22 919.46,835.01 919.64,836.30 919.82,835.57 920.00,836.37 920.19,836.82 920.37,836.81 920.55,838.22 920.73,837.27 920.91,836.65 921.09,838.76 921.28,836.32 921.46,836.88 921.64,838.51 921.82,839.23 922.00,837.62 922.18,836.50 922.36,837.16 922.55,841.42 922.73,840.23 922.91,839.92 923.09,837.90 923.27,838.23 923.45,840.24 923.63,839.18 923.82,841.23 924.00,840.95 924.18,839.48 924.36,840.27 924.54,839.68 924.72,835.98 924.91,842.40 925.09,839.30 925.27,839.87 925.45,839.41 925.63,838.26 925.81,839.26 925.99,840.77 926.18,839.55 926.36,842.02 926.54,841.35 926.72,842.61 926.90,840.95 927.08,841.32 927.26,843.45 927.45,841.32 927.63,841.15 927.81,841.71 927.99,843.94 928.17,839.04 928.35,840.65 928.53,841.21 928.72,842.77 928.90,843.09 929.08,845.59 929.26,843.06 929.44,844.01 929.62,839.03 929.81,844.31 929.99,840.94 930.17,846.52 930.35,842.77 930.53,844.56 930.71,843.61 930.89,843.36 931.08,844.80 931.26,844.39 931.44,844.34 931.62,845.20 931.80,842.86 931.98,844.72 932.16,844.14 932.35,845.15 932.53,844.59 932.71,844.61 932.89,843.34 933.07,841.30 933.25,846.11 933.43,844.27 933.62,844.89 933.80,844.85 933.98,843.74 934.16,844.25 934.34,845.13 934.52,847.48 934.71,845.45 934.89,841.68 935.07,845.01 935.25,844.99 935.43,847.43 935.61,847.34 935.79,848.44 935.98,845.99 936.16,845.72 936.34,844.51 936.52,845.22 936.70,844.96 936.88,841.64 937.06,845.21 937.25,844.95 937.43,847.30 937.61,846.35 937.79,845.35 937.97,846.90 938.15,848.48 938.34,845.50 938.52,848.38 938.70,846.99 938.88,842.88 939.06,848.07 939.24,847.12 939.42,849.82 939.61,844.52 939.79,847.56 939.97,850.00 940.15,849.35 940.33,847.81 940.51,845.57 940.69,847.48 940.88,848.96 941.06,849.21 941.24,846.21 941.42,850.32 941.60,849.39 941.78,849.25 941.96,849.49 942.15,848.60 942.33,848.71 942.51,849.10 942.69,846.83 942.87,847.63 943.05,850.11 943.24,848.22 943.42,848.13 943.60,846.12 943.78,852.49 943.96,847.79 944.14,848.78 944.32,850.71 944.51,848.59 944.69,848.12 944.87,848.74 945.05,848.32 945.23,849.44 945.41,849.73 945.59,848.50 945.78,849.09 945.96,852.88 946.14,850.18 946.32,848.37 946.50,849.88 946.68,849.95 946.87,852.63 947.05,849.55 947.23,847.90 947.41,849.21 947.59,851.28 947.77,847.66 947.95,851.15 948.14,849.06 948.32,848.14 948.50,849.26 948.68,851.95 948.86,852.11 949.04,851.18 949.22,853.08 949.41,850.09 949.59,846.11 949.77,851.59 949.95,849.06 950.13,850.35 950.31,853.05 950.49,850.66 950.68,856.14 950.86,849.29 951.04,853.17 951.22,851.50 951.40,851.03 951.58,850.42 951.77,849.38 951.95,850.29 952.13,850.87 952.31,853.17 952.49,851.45 952.67,856.36 952.85,850.39 953.04,853.19 953.22,852.95 953.40,852.38 953.58,850.08 953.76,852.07 953.94,849.56 954.12,855.16 954.31,851.62 954.49,852.41 954.67,851.25 954.85,852.57 955.03,853.36 955.21,848.03 955.40,851.96 955.58,854.40 955.76,853.83 955.94,852.83 956.12,854.03 956.30,851.07 956.48,853.31 956.67,848.22 956.85,852.56 957.03,851.54 957.21,852.13 957.39,852.41 957.57,852.62 957.75,853.57 957.94,852.12 958.12,850.28 958.30,853.39 958.48,851.59 958.66,853.97 958.84,852.46 959.02,851.20 959.21,855.70 959.39,849.99 959.57,853.47 959.75,849.31 959.93,850.86 960.11,851.60 960.30,854.56 960.48,855.04 960.66,851.05 960.84,852.40 961.02,849.85 961.20,851.90 961.38,852.73 961.57,853.14 961.75,850.79 961.93,851.01 962.11,853.12 962.29,852.67 962.47,852.08 962.65,856.12 962.84,850.27 963.02,852.39 963.20,849.91 963.38,854.18 963.56,855.10 963.74,858.92 963.93,854.42 964.11,853.79 964.29,853.02 964.47,852.06 964.65,853.13 964.83,851.24 965.01,851.82 965.20,854.53 965.38,850.99 965.56,854.00 965.74,852.88 965.92,852.51 966.10,853.09 966.28,854.42 966.47,854.54 966.65,851.71 966.83,854.75 967.01,852.81 967.19,853.88 967.37,851.53 967.55,852.91 967.74,855.34 967.92,853.52 968.10,857.54 968.28,852.98 968.46,851.75 968.64,853.82 968.83,854.20 969.01,852.40 969.19,856.15 969.37,855.92 969.55,852.17 969.73,855.18 969.91,856.65 970.10,852.41 970.28,854.51 970.46,855.84 970.64,851.81 970.82,854.55 971.00,852.35 971.18,853.66 971.37,855.07 971.55,852.31 971.73,859.08 971.91,852.29 972.09,854.66 972.27,852.97 972.45,855.48 972.64,855.20 972.82,854.70 973.00,852.82 973.18,853.66 973.36,855.86 973.54,856.66 973.73,853.03 973.91,852.82 974.09,855.20 974.27,854.87 974.45,851.81 974.63,859.81 974.81,853.26 975.00,856.34 975.18,853.86 975.36,852.65 975.54,857.13 975.72,851.32 975.90,851.22 976.08,855.56 976.27,855.01 976.45,854.57 976.63,853.52 976.81,852.67 976.99,854.69 977.17,853.12 977.36,855.02 977.54,853.34 977.72,856.68 977.90,854.25 978.08,852.65 978.26,852.68 978.44,852.58 978.63,856.25 978.81,856.19 978.99,854.75 979.17,856.31 979.35,856.75 979.53,852.39 979.71,854.47 979.90,856.20 980.08,854.48 980.26,851.25 980.44,855.52 980.62,855.32 980.80,852.41 980.98,859.89 981.17,855.03 981.35,855.85 981.53,857.79 981.71,854.52 981.89,855.97 982.07,854.76 982.26,854.38 982.44,854.92 982.62,857.04 982.80,855.97 982.98,855.85 983.16,855.02 983.34,855.88 983.53,854.39 983.71,857.26 983.89,853.76 984.07,856.28 984.25,858.43 984.43,856.18 984.61,855.62 984.80,855.38 984.98,857.79 985.16,854.60 985.34,855.32 985.52,855.88 985.70,854.81 985.89,855.90 986.07,857.57 986.25,858.22 986.43,854.72 986.61,860.85 986.79,854.13 986.97,858.50 987.16,856.64 987.34,854.52 987.52,856.51 987.70,857.53" fill="none" stroke="#4e4e4e" stroke-width="0.95" stroke-linejoin="round"/>
<line x1="794.2" y1="865.2" x2="794.2" y2="862.4000000000001" stroke="#222" stroke-width="2"/>
<line x1="891.0" y1="865.2" x2="891.0" y2="862.4000000000001" stroke="#222" stroke-width="2"/>
<line x1="697.5" y1="841.1" x2="700.1" y2="841.1" stroke="#262626" stroke-width="1.3"/>
<line x1="697.5" y1="815.6" x2="701.8" y2="815.6" stroke="#262626" stroke-width="1.3"/>
<line x1="697.5" y1="790.1" x2="700.1" y2="790.1" stroke="#262626" stroke-width="1.3"/>
<text x="693.0" y="776.5" font-size="20" fill="#000" text-anchor="end" font-weight="bold" font-style="normal" >200</text>
<text x="693.0" y="824.5" font-size="20" fill="#000" text-anchor="end" font-weight="bold" font-style="normal" >100</text>
<text x="693.0" y="869.0" font-size="20" fill="#000" text-anchor="end" font-weight="bold" font-style="normal" >0</text>
<text x="699.3" y="775.8" font-size="25" fill="#606060" text-anchor="start" font-weight="bold" font-style="normal" letter-spacing="0.2"><tspan font-style="italic">r</tspan> = 360 nm</text>
<text x="704.9" y="888.5" font-size="20" fill="#000" text-anchor="middle" font-weight="bold" font-style="normal" >1100</text>
<text x="795.8" y="888.5" font-size="20" fill="#000" text-anchor="middle" font-weight="bold" font-style="normal" >1200</text>
<text x="891.3" y="888.5" font-size="20" fill="#000" text-anchor="middle" font-weight="bold" font-style="normal" >1300</text>
<text x="984.8" y="888.5" font-size="20" fill="#000" text-anchor="middle" font-weight="bold" font-style="normal" >1400</text>
<text x="840.1" y="919.5" font-size="24.5" fill="#000" text-anchor="middle" font-weight="bold" font-style="normal" letter-spacing="0.69">Wavelength (nm)</text>
<g transform="translate(623.5,454.4) rotate(-90)"><text x="0" y="0" font-size="24.5" fill="#000" text-anchor="middle" font-weight="bold" font-style="normal" letter-spacing="0.1">PL intensity (counts)</text></g>
</svg>
</body></html>
